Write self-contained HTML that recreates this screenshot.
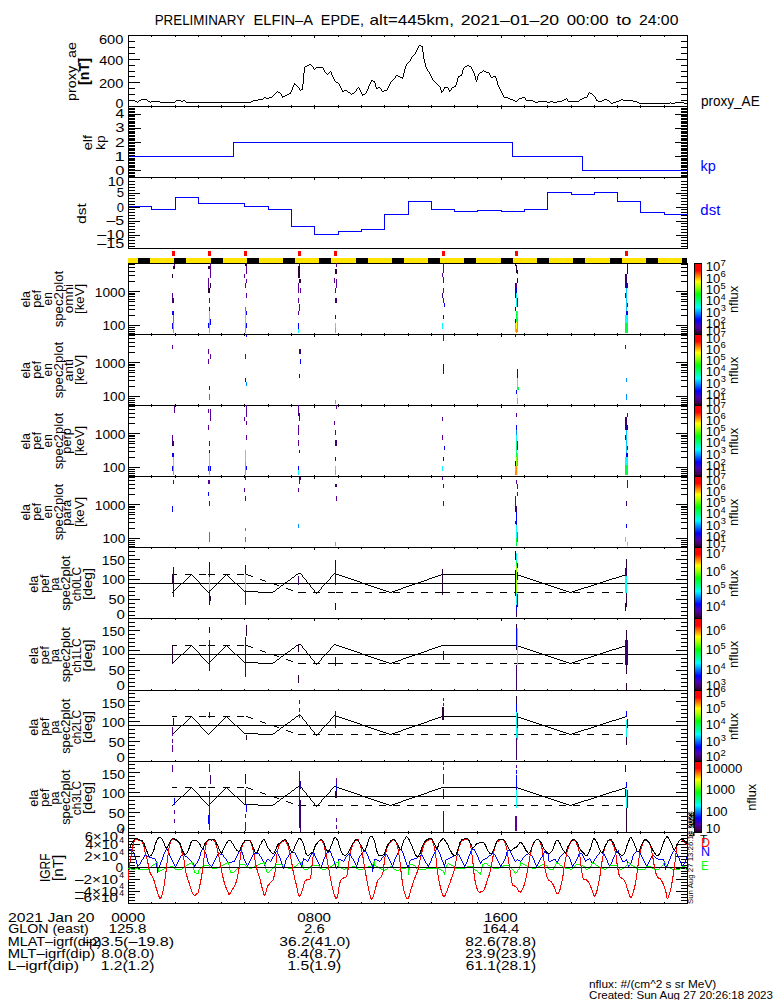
<!DOCTYPE html><html><head><meta charset="utf-8"><style>html,body{margin:0;padding:0;background:#fff;width:775px;height:1000px;overflow:hidden}svg{display:block;font-family:"Liberation Sans",sans-serif}</style></head><body>
<svg width="775" height="1000" viewBox="0 0 775 1000" font-family="Liberation Sans, sans-serif">
<defs><linearGradient id="cb" x1="0" y1="0" x2="0" y2="1"><stop offset="0" stop-color="#ff0000"/><stop offset="0.09" stop-color="#ff0000"/><stop offset="0.18" stop-color="#ff9000"/><stop offset="0.25" stop-color="#ffff00"/><stop offset="0.33" stop-color="#a0ff00"/><stop offset="0.43" stop-color="#00ff00"/><stop offset="0.53" stop-color="#00ff80"/><stop offset="0.62" stop-color="#00ffff"/><stop offset="0.70" stop-color="#0090ff"/><stop offset="0.80" stop-color="#0000ff"/><stop offset="0.89" stop-color="#5000b0"/><stop offset="0.97" stop-color="#400050"/><stop offset="1" stop-color="#200020"/></linearGradient></defs>
<rect width="775" height="1000" fill="#fff"/>
<text x="154.71" y="25.00" font-size="14.5" fill="#000" textLength="90.39" lengthAdjust="spacingAndGlyphs">PRELIMINARY</text>
<text x="253.60" y="25.00" font-size="14.5" fill="#000" textLength="59.43" lengthAdjust="spacingAndGlyphs">ELFIN–A</text>
<text x="320.82" y="25.00" font-size="14.5" fill="#000" textLength="43.07" lengthAdjust="spacingAndGlyphs">EPDE,</text>
<text x="369.57" y="25.00" font-size="14.5" fill="#000" textLength="84.37" lengthAdjust="spacingAndGlyphs">alt=445km,</text>
<text x="460.71" y="25.00" font-size="14.5" fill="#000" textLength="98.38" lengthAdjust="spacingAndGlyphs">2021–01–20</text>
<text x="566.75" y="25.00" font-size="14.5" fill="#000" textLength="41.91" lengthAdjust="spacingAndGlyphs">00:00</text>
<text x="616.23" y="25.00" font-size="14.5" fill="#000" textLength="15.14" lengthAdjust="spacingAndGlyphs">to</text>
<text x="638.91" y="25.00" font-size="14.5" fill="#000" textLength="39.51" lengthAdjust="spacingAndGlyphs">24:00</text>
<g shape-rendering="crispEdges">
<rect x="128.00" y="35.00" width="560.00" height="1.00" fill="#000"/>
<rect x="128.00" y="106.00" width="560.00" height="1.00" fill="#000"/>
<rect x="128.00" y="35.00" width="1.00" height="72.00" fill="#000"/>
<rect x="687.00" y="35.00" width="1.00" height="72.00" fill="#000"/>
<rect x="128.00" y="106.00" width="560.00" height="1.00" fill="#000"/>
<rect x="128.00" y="177.00" width="560.00" height="1.00" fill="#000"/>
<rect x="128.00" y="106.00" width="1.00" height="72.00" fill="#000"/>
<rect x="687.00" y="106.00" width="1.00" height="72.00" fill="#000"/>
<rect x="128.00" y="177.00" width="560.00" height="1.00" fill="#000"/>
<rect x="128.00" y="248.00" width="560.00" height="1.00" fill="#000"/>
<rect x="128.00" y="177.00" width="1.00" height="72.00" fill="#000"/>
<rect x="687.00" y="177.00" width="1.00" height="72.00" fill="#000"/>
<rect x="128.00" y="263.00" width="560.00" height="1.00" fill="#000"/>
<rect x="128.00" y="334.00" width="560.00" height="1.00" fill="#000"/>
<rect x="128.00" y="263.00" width="1.00" height="72.00" fill="#000"/>
<rect x="687.00" y="263.00" width="1.00" height="72.00" fill="#000"/>
<rect x="128.00" y="334.00" width="560.00" height="1.00" fill="#000"/>
<rect x="128.00" y="405.00" width="560.00" height="1.00" fill="#000"/>
<rect x="128.00" y="334.00" width="1.00" height="72.00" fill="#000"/>
<rect x="687.00" y="334.00" width="1.00" height="72.00" fill="#000"/>
<rect x="128.00" y="405.00" width="560.00" height="1.00" fill="#000"/>
<rect x="128.00" y="476.00" width="560.00" height="1.00" fill="#000"/>
<rect x="128.00" y="405.00" width="1.00" height="72.00" fill="#000"/>
<rect x="687.00" y="405.00" width="1.00" height="72.00" fill="#000"/>
<rect x="128.00" y="476.00" width="560.00" height="1.00" fill="#000"/>
<rect x="128.00" y="547.00" width="560.00" height="1.00" fill="#000"/>
<rect x="128.00" y="476.00" width="1.00" height="72.00" fill="#000"/>
<rect x="687.00" y="476.00" width="1.00" height="72.00" fill="#000"/>
<rect x="128.00" y="547.00" width="560.00" height="1.00" fill="#000"/>
<rect x="128.00" y="618.00" width="560.00" height="1.00" fill="#000"/>
<rect x="128.00" y="547.00" width="1.00" height="72.00" fill="#000"/>
<rect x="687.00" y="547.00" width="1.00" height="72.00" fill="#000"/>
<rect x="128.00" y="618.00" width="560.00" height="1.00" fill="#000"/>
<rect x="128.00" y="690.00" width="560.00" height="1.00" fill="#000"/>
<rect x="128.00" y="618.00" width="1.00" height="73.00" fill="#000"/>
<rect x="687.00" y="618.00" width="1.00" height="73.00" fill="#000"/>
<rect x="128.00" y="690.00" width="560.00" height="1.00" fill="#000"/>
<rect x="128.00" y="761.00" width="560.00" height="1.00" fill="#000"/>
<rect x="128.00" y="690.00" width="1.00" height="72.00" fill="#000"/>
<rect x="687.00" y="690.00" width="1.00" height="72.00" fill="#000"/>
<rect x="128.00" y="761.00" width="560.00" height="1.00" fill="#000"/>
<rect x="128.00" y="832.00" width="560.00" height="1.00" fill="#000"/>
<rect x="128.00" y="761.00" width="1.00" height="72.00" fill="#000"/>
<rect x="687.00" y="761.00" width="1.00" height="72.00" fill="#000"/>
<rect x="128.00" y="832.00" width="560.00" height="1.00" fill="#000"/>
<rect x="128.00" y="903.00" width="560.00" height="1.00" fill="#000"/>
<rect x="128.00" y="832.00" width="1.00" height="72.00" fill="#000"/>
<rect x="687.00" y="832.00" width="1.00" height="72.00" fill="#000"/>
<rect x="151.00" y="35.00" width="1.00" height="2.00" fill="#000"/>
<rect x="175.00" y="35.00" width="1.00" height="2.00" fill="#000"/>
<rect x="198.00" y="35.00" width="1.00" height="2.00" fill="#000"/>
<rect x="221.00" y="35.00" width="1.00" height="2.00" fill="#000"/>
<rect x="244.00" y="35.00" width="1.00" height="2.00" fill="#000"/>
<rect x="268.00" y="35.00" width="1.00" height="2.00" fill="#000"/>
<rect x="291.00" y="35.00" width="1.00" height="2.00" fill="#000"/>
<rect x="314.00" y="35.00" width="1.00" height="3.00" fill="#000"/>
<rect x="338.00" y="35.00" width="1.00" height="2.00" fill="#000"/>
<rect x="361.00" y="35.00" width="1.00" height="2.00" fill="#000"/>
<rect x="384.00" y="35.00" width="1.00" height="2.00" fill="#000"/>
<rect x="408.00" y="35.00" width="1.00" height="2.00" fill="#000"/>
<rect x="431.00" y="35.00" width="1.00" height="2.00" fill="#000"/>
<rect x="454.00" y="35.00" width="1.00" height="2.00" fill="#000"/>
<rect x="477.00" y="35.00" width="1.00" height="2.00" fill="#000"/>
<rect x="501.00" y="35.00" width="1.00" height="3.00" fill="#000"/>
<rect x="524.00" y="35.00" width="1.00" height="2.00" fill="#000"/>
<rect x="547.00" y="35.00" width="1.00" height="2.00" fill="#000"/>
<rect x="571.00" y="35.00" width="1.00" height="2.00" fill="#000"/>
<rect x="594.00" y="35.00" width="1.00" height="2.00" fill="#000"/>
<rect x="617.00" y="35.00" width="1.00" height="2.00" fill="#000"/>
<rect x="640.00" y="35.00" width="1.00" height="2.00" fill="#000"/>
<rect x="664.00" y="35.00" width="1.00" height="2.00" fill="#000"/>
<rect x="151.00" y="106.00" width="1.00" height="2.00" fill="#000"/>
<rect x="151.00" y="105.00" width="1.00" height="2.00" fill="#000"/>
<rect x="175.00" y="106.00" width="1.00" height="2.00" fill="#000"/>
<rect x="175.00" y="105.00" width="1.00" height="2.00" fill="#000"/>
<rect x="198.00" y="106.00" width="1.00" height="2.00" fill="#000"/>
<rect x="198.00" y="105.00" width="1.00" height="2.00" fill="#000"/>
<rect x="221.00" y="106.00" width="1.00" height="2.00" fill="#000"/>
<rect x="221.00" y="105.00" width="1.00" height="2.00" fill="#000"/>
<rect x="244.00" y="106.00" width="1.00" height="2.00" fill="#000"/>
<rect x="244.00" y="105.00" width="1.00" height="2.00" fill="#000"/>
<rect x="268.00" y="106.00" width="1.00" height="2.00" fill="#000"/>
<rect x="268.00" y="105.00" width="1.00" height="2.00" fill="#000"/>
<rect x="291.00" y="106.00" width="1.00" height="2.00" fill="#000"/>
<rect x="291.00" y="105.00" width="1.00" height="2.00" fill="#000"/>
<rect x="314.00" y="106.00" width="1.00" height="3.00" fill="#000"/>
<rect x="314.00" y="105.00" width="1.00" height="2.00" fill="#000"/>
<rect x="338.00" y="106.00" width="1.00" height="2.00" fill="#000"/>
<rect x="338.00" y="105.00" width="1.00" height="2.00" fill="#000"/>
<rect x="361.00" y="106.00" width="1.00" height="2.00" fill="#000"/>
<rect x="361.00" y="105.00" width="1.00" height="2.00" fill="#000"/>
<rect x="384.00" y="106.00" width="1.00" height="2.00" fill="#000"/>
<rect x="384.00" y="105.00" width="1.00" height="2.00" fill="#000"/>
<rect x="408.00" y="106.00" width="1.00" height="2.00" fill="#000"/>
<rect x="408.00" y="105.00" width="1.00" height="2.00" fill="#000"/>
<rect x="431.00" y="106.00" width="1.00" height="2.00" fill="#000"/>
<rect x="431.00" y="105.00" width="1.00" height="2.00" fill="#000"/>
<rect x="454.00" y="106.00" width="1.00" height="2.00" fill="#000"/>
<rect x="454.00" y="105.00" width="1.00" height="2.00" fill="#000"/>
<rect x="477.00" y="106.00" width="1.00" height="2.00" fill="#000"/>
<rect x="477.00" y="105.00" width="1.00" height="2.00" fill="#000"/>
<rect x="501.00" y="106.00" width="1.00" height="3.00" fill="#000"/>
<rect x="501.00" y="105.00" width="1.00" height="2.00" fill="#000"/>
<rect x="524.00" y="106.00" width="1.00" height="2.00" fill="#000"/>
<rect x="524.00" y="105.00" width="1.00" height="2.00" fill="#000"/>
<rect x="547.00" y="106.00" width="1.00" height="2.00" fill="#000"/>
<rect x="547.00" y="105.00" width="1.00" height="2.00" fill="#000"/>
<rect x="571.00" y="106.00" width="1.00" height="2.00" fill="#000"/>
<rect x="571.00" y="105.00" width="1.00" height="2.00" fill="#000"/>
<rect x="594.00" y="106.00" width="1.00" height="2.00" fill="#000"/>
<rect x="594.00" y="105.00" width="1.00" height="2.00" fill="#000"/>
<rect x="617.00" y="106.00" width="1.00" height="2.00" fill="#000"/>
<rect x="617.00" y="105.00" width="1.00" height="2.00" fill="#000"/>
<rect x="640.00" y="106.00" width="1.00" height="2.00" fill="#000"/>
<rect x="640.00" y="105.00" width="1.00" height="2.00" fill="#000"/>
<rect x="664.00" y="106.00" width="1.00" height="2.00" fill="#000"/>
<rect x="664.00" y="105.00" width="1.00" height="2.00" fill="#000"/>
<rect x="151.00" y="177.00" width="1.00" height="2.00" fill="#000"/>
<rect x="175.00" y="177.00" width="1.00" height="2.00" fill="#000"/>
<rect x="198.00" y="177.00" width="1.00" height="2.00" fill="#000"/>
<rect x="221.00" y="177.00" width="1.00" height="2.00" fill="#000"/>
<rect x="244.00" y="177.00" width="1.00" height="2.00" fill="#000"/>
<rect x="268.00" y="177.00" width="1.00" height="2.00" fill="#000"/>
<rect x="291.00" y="177.00" width="1.00" height="2.00" fill="#000"/>
<rect x="314.00" y="177.00" width="1.00" height="3.00" fill="#000"/>
<rect x="338.00" y="177.00" width="1.00" height="2.00" fill="#000"/>
<rect x="361.00" y="177.00" width="1.00" height="2.00" fill="#000"/>
<rect x="384.00" y="177.00" width="1.00" height="2.00" fill="#000"/>
<rect x="408.00" y="177.00" width="1.00" height="2.00" fill="#000"/>
<rect x="431.00" y="177.00" width="1.00" height="2.00" fill="#000"/>
<rect x="454.00" y="177.00" width="1.00" height="2.00" fill="#000"/>
<rect x="477.00" y="177.00" width="1.00" height="2.00" fill="#000"/>
<rect x="501.00" y="177.00" width="1.00" height="3.00" fill="#000"/>
<rect x="524.00" y="177.00" width="1.00" height="2.00" fill="#000"/>
<rect x="547.00" y="177.00" width="1.00" height="2.00" fill="#000"/>
<rect x="571.00" y="177.00" width="1.00" height="2.00" fill="#000"/>
<rect x="594.00" y="177.00" width="1.00" height="2.00" fill="#000"/>
<rect x="617.00" y="177.00" width="1.00" height="2.00" fill="#000"/>
<rect x="640.00" y="177.00" width="1.00" height="2.00" fill="#000"/>
<rect x="664.00" y="177.00" width="1.00" height="2.00" fill="#000"/>
<rect x="151.00" y="334.00" width="1.00" height="2.00" fill="#000"/>
<rect x="151.00" y="333.00" width="1.00" height="2.00" fill="#000"/>
<rect x="175.00" y="334.00" width="1.00" height="2.00" fill="#000"/>
<rect x="175.00" y="333.00" width="1.00" height="2.00" fill="#000"/>
<rect x="198.00" y="334.00" width="1.00" height="2.00" fill="#000"/>
<rect x="198.00" y="333.00" width="1.00" height="2.00" fill="#000"/>
<rect x="221.00" y="334.00" width="1.00" height="2.00" fill="#000"/>
<rect x="221.00" y="333.00" width="1.00" height="2.00" fill="#000"/>
<rect x="244.00" y="334.00" width="1.00" height="2.00" fill="#000"/>
<rect x="244.00" y="333.00" width="1.00" height="2.00" fill="#000"/>
<rect x="268.00" y="334.00" width="1.00" height="2.00" fill="#000"/>
<rect x="268.00" y="333.00" width="1.00" height="2.00" fill="#000"/>
<rect x="291.00" y="334.00" width="1.00" height="2.00" fill="#000"/>
<rect x="291.00" y="333.00" width="1.00" height="2.00" fill="#000"/>
<rect x="314.00" y="334.00" width="1.00" height="3.00" fill="#000"/>
<rect x="314.00" y="333.00" width="1.00" height="2.00" fill="#000"/>
<rect x="338.00" y="334.00" width="1.00" height="2.00" fill="#000"/>
<rect x="338.00" y="333.00" width="1.00" height="2.00" fill="#000"/>
<rect x="361.00" y="334.00" width="1.00" height="2.00" fill="#000"/>
<rect x="361.00" y="333.00" width="1.00" height="2.00" fill="#000"/>
<rect x="384.00" y="334.00" width="1.00" height="2.00" fill="#000"/>
<rect x="384.00" y="333.00" width="1.00" height="2.00" fill="#000"/>
<rect x="408.00" y="334.00" width="1.00" height="2.00" fill="#000"/>
<rect x="408.00" y="333.00" width="1.00" height="2.00" fill="#000"/>
<rect x="431.00" y="334.00" width="1.00" height="2.00" fill="#000"/>
<rect x="431.00" y="333.00" width="1.00" height="2.00" fill="#000"/>
<rect x="454.00" y="334.00" width="1.00" height="2.00" fill="#000"/>
<rect x="454.00" y="333.00" width="1.00" height="2.00" fill="#000"/>
<rect x="477.00" y="334.00" width="1.00" height="2.00" fill="#000"/>
<rect x="477.00" y="333.00" width="1.00" height="2.00" fill="#000"/>
<rect x="501.00" y="334.00" width="1.00" height="3.00" fill="#000"/>
<rect x="501.00" y="333.00" width="1.00" height="2.00" fill="#000"/>
<rect x="524.00" y="334.00" width="1.00" height="2.00" fill="#000"/>
<rect x="524.00" y="333.00" width="1.00" height="2.00" fill="#000"/>
<rect x="547.00" y="334.00" width="1.00" height="2.00" fill="#000"/>
<rect x="547.00" y="333.00" width="1.00" height="2.00" fill="#000"/>
<rect x="571.00" y="334.00" width="1.00" height="2.00" fill="#000"/>
<rect x="571.00" y="333.00" width="1.00" height="2.00" fill="#000"/>
<rect x="594.00" y="334.00" width="1.00" height="2.00" fill="#000"/>
<rect x="594.00" y="333.00" width="1.00" height="2.00" fill="#000"/>
<rect x="617.00" y="334.00" width="1.00" height="2.00" fill="#000"/>
<rect x="617.00" y="333.00" width="1.00" height="2.00" fill="#000"/>
<rect x="640.00" y="334.00" width="1.00" height="2.00" fill="#000"/>
<rect x="640.00" y="333.00" width="1.00" height="2.00" fill="#000"/>
<rect x="664.00" y="334.00" width="1.00" height="2.00" fill="#000"/>
<rect x="664.00" y="333.00" width="1.00" height="2.00" fill="#000"/>
<rect x="151.00" y="405.00" width="1.00" height="2.00" fill="#000"/>
<rect x="151.00" y="404.00" width="1.00" height="2.00" fill="#000"/>
<rect x="175.00" y="405.00" width="1.00" height="2.00" fill="#000"/>
<rect x="175.00" y="404.00" width="1.00" height="2.00" fill="#000"/>
<rect x="198.00" y="405.00" width="1.00" height="2.00" fill="#000"/>
<rect x="198.00" y="404.00" width="1.00" height="2.00" fill="#000"/>
<rect x="221.00" y="405.00" width="1.00" height="2.00" fill="#000"/>
<rect x="221.00" y="404.00" width="1.00" height="2.00" fill="#000"/>
<rect x="244.00" y="405.00" width="1.00" height="2.00" fill="#000"/>
<rect x="244.00" y="404.00" width="1.00" height="2.00" fill="#000"/>
<rect x="268.00" y="405.00" width="1.00" height="2.00" fill="#000"/>
<rect x="268.00" y="404.00" width="1.00" height="2.00" fill="#000"/>
<rect x="291.00" y="405.00" width="1.00" height="2.00" fill="#000"/>
<rect x="291.00" y="404.00" width="1.00" height="2.00" fill="#000"/>
<rect x="314.00" y="405.00" width="1.00" height="3.00" fill="#000"/>
<rect x="314.00" y="404.00" width="1.00" height="2.00" fill="#000"/>
<rect x="338.00" y="405.00" width="1.00" height="2.00" fill="#000"/>
<rect x="338.00" y="404.00" width="1.00" height="2.00" fill="#000"/>
<rect x="361.00" y="405.00" width="1.00" height="2.00" fill="#000"/>
<rect x="361.00" y="404.00" width="1.00" height="2.00" fill="#000"/>
<rect x="384.00" y="405.00" width="1.00" height="2.00" fill="#000"/>
<rect x="384.00" y="404.00" width="1.00" height="2.00" fill="#000"/>
<rect x="408.00" y="405.00" width="1.00" height="2.00" fill="#000"/>
<rect x="408.00" y="404.00" width="1.00" height="2.00" fill="#000"/>
<rect x="431.00" y="405.00" width="1.00" height="2.00" fill="#000"/>
<rect x="431.00" y="404.00" width="1.00" height="2.00" fill="#000"/>
<rect x="454.00" y="405.00" width="1.00" height="2.00" fill="#000"/>
<rect x="454.00" y="404.00" width="1.00" height="2.00" fill="#000"/>
<rect x="477.00" y="405.00" width="1.00" height="2.00" fill="#000"/>
<rect x="477.00" y="404.00" width="1.00" height="2.00" fill="#000"/>
<rect x="501.00" y="405.00" width="1.00" height="3.00" fill="#000"/>
<rect x="501.00" y="404.00" width="1.00" height="2.00" fill="#000"/>
<rect x="524.00" y="405.00" width="1.00" height="2.00" fill="#000"/>
<rect x="524.00" y="404.00" width="1.00" height="2.00" fill="#000"/>
<rect x="547.00" y="405.00" width="1.00" height="2.00" fill="#000"/>
<rect x="547.00" y="404.00" width="1.00" height="2.00" fill="#000"/>
<rect x="571.00" y="405.00" width="1.00" height="2.00" fill="#000"/>
<rect x="571.00" y="404.00" width="1.00" height="2.00" fill="#000"/>
<rect x="594.00" y="405.00" width="1.00" height="2.00" fill="#000"/>
<rect x="594.00" y="404.00" width="1.00" height="2.00" fill="#000"/>
<rect x="617.00" y="405.00" width="1.00" height="2.00" fill="#000"/>
<rect x="617.00" y="404.00" width="1.00" height="2.00" fill="#000"/>
<rect x="640.00" y="405.00" width="1.00" height="2.00" fill="#000"/>
<rect x="640.00" y="404.00" width="1.00" height="2.00" fill="#000"/>
<rect x="664.00" y="405.00" width="1.00" height="2.00" fill="#000"/>
<rect x="664.00" y="404.00" width="1.00" height="2.00" fill="#000"/>
<rect x="151.00" y="476.00" width="1.00" height="2.00" fill="#000"/>
<rect x="151.00" y="475.00" width="1.00" height="2.00" fill="#000"/>
<rect x="175.00" y="476.00" width="1.00" height="2.00" fill="#000"/>
<rect x="175.00" y="475.00" width="1.00" height="2.00" fill="#000"/>
<rect x="198.00" y="476.00" width="1.00" height="2.00" fill="#000"/>
<rect x="198.00" y="475.00" width="1.00" height="2.00" fill="#000"/>
<rect x="221.00" y="476.00" width="1.00" height="2.00" fill="#000"/>
<rect x="221.00" y="475.00" width="1.00" height="2.00" fill="#000"/>
<rect x="244.00" y="476.00" width="1.00" height="2.00" fill="#000"/>
<rect x="244.00" y="475.00" width="1.00" height="2.00" fill="#000"/>
<rect x="268.00" y="476.00" width="1.00" height="2.00" fill="#000"/>
<rect x="268.00" y="475.00" width="1.00" height="2.00" fill="#000"/>
<rect x="291.00" y="476.00" width="1.00" height="2.00" fill="#000"/>
<rect x="291.00" y="475.00" width="1.00" height="2.00" fill="#000"/>
<rect x="314.00" y="476.00" width="1.00" height="3.00" fill="#000"/>
<rect x="314.00" y="475.00" width="1.00" height="2.00" fill="#000"/>
<rect x="338.00" y="476.00" width="1.00" height="2.00" fill="#000"/>
<rect x="338.00" y="475.00" width="1.00" height="2.00" fill="#000"/>
<rect x="361.00" y="476.00" width="1.00" height="2.00" fill="#000"/>
<rect x="361.00" y="475.00" width="1.00" height="2.00" fill="#000"/>
<rect x="384.00" y="476.00" width="1.00" height="2.00" fill="#000"/>
<rect x="384.00" y="475.00" width="1.00" height="2.00" fill="#000"/>
<rect x="408.00" y="476.00" width="1.00" height="2.00" fill="#000"/>
<rect x="408.00" y="475.00" width="1.00" height="2.00" fill="#000"/>
<rect x="431.00" y="476.00" width="1.00" height="2.00" fill="#000"/>
<rect x="431.00" y="475.00" width="1.00" height="2.00" fill="#000"/>
<rect x="454.00" y="476.00" width="1.00" height="2.00" fill="#000"/>
<rect x="454.00" y="475.00" width="1.00" height="2.00" fill="#000"/>
<rect x="477.00" y="476.00" width="1.00" height="2.00" fill="#000"/>
<rect x="477.00" y="475.00" width="1.00" height="2.00" fill="#000"/>
<rect x="501.00" y="476.00" width="1.00" height="3.00" fill="#000"/>
<rect x="501.00" y="475.00" width="1.00" height="2.00" fill="#000"/>
<rect x="524.00" y="476.00" width="1.00" height="2.00" fill="#000"/>
<rect x="524.00" y="475.00" width="1.00" height="2.00" fill="#000"/>
<rect x="547.00" y="476.00" width="1.00" height="2.00" fill="#000"/>
<rect x="547.00" y="475.00" width="1.00" height="2.00" fill="#000"/>
<rect x="571.00" y="476.00" width="1.00" height="2.00" fill="#000"/>
<rect x="571.00" y="475.00" width="1.00" height="2.00" fill="#000"/>
<rect x="594.00" y="476.00" width="1.00" height="2.00" fill="#000"/>
<rect x="594.00" y="475.00" width="1.00" height="2.00" fill="#000"/>
<rect x="617.00" y="476.00" width="1.00" height="2.00" fill="#000"/>
<rect x="617.00" y="475.00" width="1.00" height="2.00" fill="#000"/>
<rect x="640.00" y="476.00" width="1.00" height="2.00" fill="#000"/>
<rect x="640.00" y="475.00" width="1.00" height="2.00" fill="#000"/>
<rect x="664.00" y="476.00" width="1.00" height="2.00" fill="#000"/>
<rect x="664.00" y="475.00" width="1.00" height="2.00" fill="#000"/>
<rect x="151.00" y="547.00" width="1.00" height="2.00" fill="#000"/>
<rect x="175.00" y="547.00" width="1.00" height="2.00" fill="#000"/>
<rect x="198.00" y="547.00" width="1.00" height="2.00" fill="#000"/>
<rect x="221.00" y="547.00" width="1.00" height="2.00" fill="#000"/>
<rect x="244.00" y="547.00" width="1.00" height="2.00" fill="#000"/>
<rect x="268.00" y="547.00" width="1.00" height="2.00" fill="#000"/>
<rect x="291.00" y="547.00" width="1.00" height="2.00" fill="#000"/>
<rect x="314.00" y="547.00" width="1.00" height="3.00" fill="#000"/>
<rect x="338.00" y="547.00" width="1.00" height="2.00" fill="#000"/>
<rect x="361.00" y="547.00" width="1.00" height="2.00" fill="#000"/>
<rect x="384.00" y="547.00" width="1.00" height="2.00" fill="#000"/>
<rect x="408.00" y="547.00" width="1.00" height="2.00" fill="#000"/>
<rect x="431.00" y="547.00" width="1.00" height="2.00" fill="#000"/>
<rect x="454.00" y="547.00" width="1.00" height="2.00" fill="#000"/>
<rect x="477.00" y="547.00" width="1.00" height="2.00" fill="#000"/>
<rect x="501.00" y="547.00" width="1.00" height="3.00" fill="#000"/>
<rect x="524.00" y="547.00" width="1.00" height="2.00" fill="#000"/>
<rect x="547.00" y="547.00" width="1.00" height="2.00" fill="#000"/>
<rect x="571.00" y="547.00" width="1.00" height="2.00" fill="#000"/>
<rect x="594.00" y="547.00" width="1.00" height="2.00" fill="#000"/>
<rect x="617.00" y="547.00" width="1.00" height="2.00" fill="#000"/>
<rect x="640.00" y="547.00" width="1.00" height="2.00" fill="#000"/>
<rect x="664.00" y="547.00" width="1.00" height="2.00" fill="#000"/>
<rect x="151.00" y="618.00" width="1.00" height="2.00" fill="#000"/>
<rect x="175.00" y="618.00" width="1.00" height="2.00" fill="#000"/>
<rect x="198.00" y="618.00" width="1.00" height="2.00" fill="#000"/>
<rect x="221.00" y="618.00" width="1.00" height="2.00" fill="#000"/>
<rect x="244.00" y="618.00" width="1.00" height="2.00" fill="#000"/>
<rect x="268.00" y="618.00" width="1.00" height="2.00" fill="#000"/>
<rect x="291.00" y="618.00" width="1.00" height="2.00" fill="#000"/>
<rect x="314.00" y="618.00" width="1.00" height="3.00" fill="#000"/>
<rect x="338.00" y="618.00" width="1.00" height="2.00" fill="#000"/>
<rect x="361.00" y="618.00" width="1.00" height="2.00" fill="#000"/>
<rect x="384.00" y="618.00" width="1.00" height="2.00" fill="#000"/>
<rect x="408.00" y="618.00" width="1.00" height="2.00" fill="#000"/>
<rect x="431.00" y="618.00" width="1.00" height="2.00" fill="#000"/>
<rect x="454.00" y="618.00" width="1.00" height="2.00" fill="#000"/>
<rect x="477.00" y="618.00" width="1.00" height="2.00" fill="#000"/>
<rect x="501.00" y="618.00" width="1.00" height="3.00" fill="#000"/>
<rect x="524.00" y="618.00" width="1.00" height="2.00" fill="#000"/>
<rect x="547.00" y="618.00" width="1.00" height="2.00" fill="#000"/>
<rect x="571.00" y="618.00" width="1.00" height="2.00" fill="#000"/>
<rect x="594.00" y="618.00" width="1.00" height="2.00" fill="#000"/>
<rect x="617.00" y="618.00" width="1.00" height="2.00" fill="#000"/>
<rect x="640.00" y="618.00" width="1.00" height="2.00" fill="#000"/>
<rect x="664.00" y="618.00" width="1.00" height="2.00" fill="#000"/>
<rect x="151.00" y="689.00" width="1.00" height="2.00" fill="#000"/>
<rect x="175.00" y="689.00" width="1.00" height="2.00" fill="#000"/>
<rect x="198.00" y="689.00" width="1.00" height="2.00" fill="#000"/>
<rect x="221.00" y="689.00" width="1.00" height="2.00" fill="#000"/>
<rect x="244.00" y="689.00" width="1.00" height="2.00" fill="#000"/>
<rect x="268.00" y="689.00" width="1.00" height="2.00" fill="#000"/>
<rect x="291.00" y="689.00" width="1.00" height="2.00" fill="#000"/>
<rect x="314.00" y="689.00" width="1.00" height="2.00" fill="#000"/>
<rect x="338.00" y="689.00" width="1.00" height="2.00" fill="#000"/>
<rect x="361.00" y="689.00" width="1.00" height="2.00" fill="#000"/>
<rect x="384.00" y="689.00" width="1.00" height="2.00" fill="#000"/>
<rect x="408.00" y="689.00" width="1.00" height="2.00" fill="#000"/>
<rect x="431.00" y="689.00" width="1.00" height="2.00" fill="#000"/>
<rect x="454.00" y="689.00" width="1.00" height="2.00" fill="#000"/>
<rect x="477.00" y="689.00" width="1.00" height="2.00" fill="#000"/>
<rect x="501.00" y="689.00" width="1.00" height="2.00" fill="#000"/>
<rect x="524.00" y="689.00" width="1.00" height="2.00" fill="#000"/>
<rect x="547.00" y="689.00" width="1.00" height="2.00" fill="#000"/>
<rect x="571.00" y="689.00" width="1.00" height="2.00" fill="#000"/>
<rect x="594.00" y="689.00" width="1.00" height="2.00" fill="#000"/>
<rect x="617.00" y="689.00" width="1.00" height="2.00" fill="#000"/>
<rect x="640.00" y="689.00" width="1.00" height="2.00" fill="#000"/>
<rect x="664.00" y="689.00" width="1.00" height="2.00" fill="#000"/>
<rect x="151.00" y="760.00" width="1.00" height="2.00" fill="#000"/>
<rect x="175.00" y="760.00" width="1.00" height="2.00" fill="#000"/>
<rect x="198.00" y="760.00" width="1.00" height="2.00" fill="#000"/>
<rect x="221.00" y="760.00" width="1.00" height="2.00" fill="#000"/>
<rect x="244.00" y="760.00" width="1.00" height="2.00" fill="#000"/>
<rect x="268.00" y="760.00" width="1.00" height="2.00" fill="#000"/>
<rect x="291.00" y="760.00" width="1.00" height="2.00" fill="#000"/>
<rect x="314.00" y="760.00" width="1.00" height="2.00" fill="#000"/>
<rect x="338.00" y="760.00" width="1.00" height="2.00" fill="#000"/>
<rect x="361.00" y="760.00" width="1.00" height="2.00" fill="#000"/>
<rect x="384.00" y="760.00" width="1.00" height="2.00" fill="#000"/>
<rect x="408.00" y="760.00" width="1.00" height="2.00" fill="#000"/>
<rect x="431.00" y="760.00" width="1.00" height="2.00" fill="#000"/>
<rect x="454.00" y="760.00" width="1.00" height="2.00" fill="#000"/>
<rect x="477.00" y="760.00" width="1.00" height="2.00" fill="#000"/>
<rect x="501.00" y="760.00" width="1.00" height="2.00" fill="#000"/>
<rect x="524.00" y="760.00" width="1.00" height="2.00" fill="#000"/>
<rect x="547.00" y="760.00" width="1.00" height="2.00" fill="#000"/>
<rect x="571.00" y="760.00" width="1.00" height="2.00" fill="#000"/>
<rect x="594.00" y="760.00" width="1.00" height="2.00" fill="#000"/>
<rect x="617.00" y="760.00" width="1.00" height="2.00" fill="#000"/>
<rect x="640.00" y="760.00" width="1.00" height="2.00" fill="#000"/>
<rect x="664.00" y="760.00" width="1.00" height="2.00" fill="#000"/>
<rect x="151.00" y="832.00" width="1.00" height="2.00" fill="#000"/>
<rect x="151.00" y="831.00" width="1.00" height="2.00" fill="#000"/>
<rect x="175.00" y="832.00" width="1.00" height="2.00" fill="#000"/>
<rect x="175.00" y="831.00" width="1.00" height="2.00" fill="#000"/>
<rect x="198.00" y="832.00" width="1.00" height="2.00" fill="#000"/>
<rect x="198.00" y="831.00" width="1.00" height="2.00" fill="#000"/>
<rect x="221.00" y="832.00" width="1.00" height="2.00" fill="#000"/>
<rect x="221.00" y="831.00" width="1.00" height="2.00" fill="#000"/>
<rect x="244.00" y="832.00" width="1.00" height="2.00" fill="#000"/>
<rect x="244.00" y="831.00" width="1.00" height="2.00" fill="#000"/>
<rect x="268.00" y="832.00" width="1.00" height="2.00" fill="#000"/>
<rect x="268.00" y="831.00" width="1.00" height="2.00" fill="#000"/>
<rect x="291.00" y="832.00" width="1.00" height="2.00" fill="#000"/>
<rect x="291.00" y="831.00" width="1.00" height="2.00" fill="#000"/>
<rect x="314.00" y="832.00" width="1.00" height="3.00" fill="#000"/>
<rect x="314.00" y="831.00" width="1.00" height="2.00" fill="#000"/>
<rect x="338.00" y="832.00" width="1.00" height="2.00" fill="#000"/>
<rect x="338.00" y="831.00" width="1.00" height="2.00" fill="#000"/>
<rect x="361.00" y="832.00" width="1.00" height="2.00" fill="#000"/>
<rect x="361.00" y="831.00" width="1.00" height="2.00" fill="#000"/>
<rect x="384.00" y="832.00" width="1.00" height="2.00" fill="#000"/>
<rect x="384.00" y="831.00" width="1.00" height="2.00" fill="#000"/>
<rect x="408.00" y="832.00" width="1.00" height="2.00" fill="#000"/>
<rect x="408.00" y="831.00" width="1.00" height="2.00" fill="#000"/>
<rect x="431.00" y="832.00" width="1.00" height="2.00" fill="#000"/>
<rect x="431.00" y="831.00" width="1.00" height="2.00" fill="#000"/>
<rect x="454.00" y="832.00" width="1.00" height="2.00" fill="#000"/>
<rect x="454.00" y="831.00" width="1.00" height="2.00" fill="#000"/>
<rect x="477.00" y="832.00" width="1.00" height="2.00" fill="#000"/>
<rect x="477.00" y="831.00" width="1.00" height="2.00" fill="#000"/>
<rect x="501.00" y="832.00" width="1.00" height="3.00" fill="#000"/>
<rect x="501.00" y="831.00" width="1.00" height="2.00" fill="#000"/>
<rect x="524.00" y="832.00" width="1.00" height="2.00" fill="#000"/>
<rect x="524.00" y="831.00" width="1.00" height="2.00" fill="#000"/>
<rect x="547.00" y="832.00" width="1.00" height="2.00" fill="#000"/>
<rect x="547.00" y="831.00" width="1.00" height="2.00" fill="#000"/>
<rect x="571.00" y="832.00" width="1.00" height="2.00" fill="#000"/>
<rect x="571.00" y="831.00" width="1.00" height="2.00" fill="#000"/>
<rect x="594.00" y="832.00" width="1.00" height="2.00" fill="#000"/>
<rect x="594.00" y="831.00" width="1.00" height="2.00" fill="#000"/>
<rect x="617.00" y="832.00" width="1.00" height="2.00" fill="#000"/>
<rect x="617.00" y="831.00" width="1.00" height="2.00" fill="#000"/>
<rect x="640.00" y="832.00" width="1.00" height="2.00" fill="#000"/>
<rect x="640.00" y="831.00" width="1.00" height="2.00" fill="#000"/>
<rect x="664.00" y="832.00" width="1.00" height="2.00" fill="#000"/>
<rect x="664.00" y="831.00" width="1.00" height="2.00" fill="#000"/>
<rect x="151.00" y="902.00" width="1.00" height="2.00" fill="#000"/>
<rect x="175.00" y="902.00" width="1.00" height="2.00" fill="#000"/>
<rect x="198.00" y="902.00" width="1.00" height="2.00" fill="#000"/>
<rect x="221.00" y="902.00" width="1.00" height="2.00" fill="#000"/>
<rect x="244.00" y="902.00" width="1.00" height="2.00" fill="#000"/>
<rect x="268.00" y="902.00" width="1.00" height="2.00" fill="#000"/>
<rect x="291.00" y="902.00" width="1.00" height="2.00" fill="#000"/>
<rect x="314.00" y="902.00" width="1.00" height="2.00" fill="#000"/>
<rect x="338.00" y="902.00" width="1.00" height="2.00" fill="#000"/>
<rect x="361.00" y="902.00" width="1.00" height="2.00" fill="#000"/>
<rect x="384.00" y="902.00" width="1.00" height="2.00" fill="#000"/>
<rect x="408.00" y="902.00" width="1.00" height="2.00" fill="#000"/>
<rect x="431.00" y="902.00" width="1.00" height="2.00" fill="#000"/>
<rect x="454.00" y="902.00" width="1.00" height="2.00" fill="#000"/>
<rect x="477.00" y="902.00" width="1.00" height="2.00" fill="#000"/>
<rect x="501.00" y="902.00" width="1.00" height="2.00" fill="#000"/>
<rect x="524.00" y="902.00" width="1.00" height="2.00" fill="#000"/>
<rect x="547.00" y="902.00" width="1.00" height="2.00" fill="#000"/>
<rect x="571.00" y="902.00" width="1.00" height="2.00" fill="#000"/>
<rect x="594.00" y="902.00" width="1.00" height="2.00" fill="#000"/>
<rect x="617.00" y="902.00" width="1.00" height="2.00" fill="#000"/>
<rect x="640.00" y="902.00" width="1.00" height="2.00" fill="#000"/>
<rect x="664.00" y="902.00" width="1.00" height="2.00" fill="#000"/>
<rect x="128.00" y="82.00" width="12.00" height="1.00" fill="#000"/>
<rect x="676.00" y="82.00" width="12.00" height="1.00" fill="#000"/>
<rect x="128.00" y="59.00" width="12.00" height="1.00" fill="#000"/>
<rect x="676.00" y="59.00" width="12.00" height="1.00" fill="#000"/>
<rect x="128.00" y="35.00" width="12.00" height="1.00" fill="#000"/>
<rect x="676.00" y="35.00" width="12.00" height="1.00" fill="#000"/>
<rect x="128.00" y="100.00" width="7.00" height="1.00" fill="#000"/>
<rect x="681.00" y="100.00" width="7.00" height="1.00" fill="#000"/>
<rect x="128.00" y="94.00" width="7.00" height="1.00" fill="#000"/>
<rect x="681.00" y="94.00" width="7.00" height="1.00" fill="#000"/>
<rect x="128.00" y="88.00" width="7.00" height="1.00" fill="#000"/>
<rect x="681.00" y="88.00" width="7.00" height="1.00" fill="#000"/>
<rect x="128.00" y="76.00" width="7.00" height="1.00" fill="#000"/>
<rect x="681.00" y="76.00" width="7.00" height="1.00" fill="#000"/>
<rect x="128.00" y="71.00" width="7.00" height="1.00" fill="#000"/>
<rect x="681.00" y="71.00" width="7.00" height="1.00" fill="#000"/>
<rect x="128.00" y="65.00" width="7.00" height="1.00" fill="#000"/>
<rect x="681.00" y="65.00" width="7.00" height="1.00" fill="#000"/>
<rect x="128.00" y="53.00" width="7.00" height="1.00" fill="#000"/>
<rect x="681.00" y="53.00" width="7.00" height="1.00" fill="#000"/>
<rect x="128.00" y="47.00" width="7.00" height="1.00" fill="#000"/>
<rect x="681.00" y="47.00" width="7.00" height="1.00" fill="#000"/>
<rect x="128.00" y="41.00" width="7.00" height="1.00" fill="#000"/>
<rect x="681.00" y="41.00" width="7.00" height="1.00" fill="#000"/>
<rect x="128.00" y="170.00" width="13.00" height="1.00" fill="#000"/>
<rect x="675.00" y="170.00" width="13.00" height="1.00" fill="#000"/>
<rect x="128.00" y="156.00" width="13.00" height="1.00" fill="#000"/>
<rect x="675.00" y="156.00" width="13.00" height="1.00" fill="#000"/>
<rect x="128.00" y="142.00" width="13.00" height="1.00" fill="#000"/>
<rect x="675.00" y="142.00" width="13.00" height="1.00" fill="#000"/>
<rect x="128.00" y="128.00" width="13.00" height="1.00" fill="#000"/>
<rect x="675.00" y="128.00" width="13.00" height="1.00" fill="#000"/>
<rect x="128.00" y="114.00" width="13.00" height="1.00" fill="#000"/>
<rect x="675.00" y="114.00" width="13.00" height="1.00" fill="#000"/>
<rect x="128.00" y="176.00" width="7.00" height="1.00" fill="#000"/>
<rect x="681.00" y="176.00" width="7.00" height="1.00" fill="#000"/>
<rect x="128.00" y="175.00" width="7.00" height="1.00" fill="#000"/>
<rect x="681.00" y="175.00" width="7.00" height="1.00" fill="#000"/>
<rect x="128.00" y="173.00" width="7.00" height="1.00" fill="#000"/>
<rect x="681.00" y="173.00" width="7.00" height="1.00" fill="#000"/>
<rect x="128.00" y="172.00" width="7.00" height="1.00" fill="#000"/>
<rect x="681.00" y="172.00" width="7.00" height="1.00" fill="#000"/>
<rect x="128.00" y="169.00" width="7.00" height="1.00" fill="#000"/>
<rect x="681.00" y="169.00" width="7.00" height="1.00" fill="#000"/>
<rect x="128.00" y="167.00" width="7.00" height="1.00" fill="#000"/>
<rect x="681.00" y="167.00" width="7.00" height="1.00" fill="#000"/>
<rect x="128.00" y="166.00" width="7.00" height="1.00" fill="#000"/>
<rect x="681.00" y="166.00" width="7.00" height="1.00" fill="#000"/>
<rect x="128.00" y="165.00" width="7.00" height="1.00" fill="#000"/>
<rect x="681.00" y="165.00" width="7.00" height="1.00" fill="#000"/>
<rect x="128.00" y="163.00" width="7.00" height="1.00" fill="#000"/>
<rect x="681.00" y="163.00" width="7.00" height="1.00" fill="#000"/>
<rect x="128.00" y="162.00" width="7.00" height="1.00" fill="#000"/>
<rect x="681.00" y="162.00" width="7.00" height="1.00" fill="#000"/>
<rect x="128.00" y="160.00" width="7.00" height="1.00" fill="#000"/>
<rect x="681.00" y="160.00" width="7.00" height="1.00" fill="#000"/>
<rect x="128.00" y="159.00" width="7.00" height="1.00" fill="#000"/>
<rect x="681.00" y="159.00" width="7.00" height="1.00" fill="#000"/>
<rect x="128.00" y="158.00" width="7.00" height="1.00" fill="#000"/>
<rect x="681.00" y="158.00" width="7.00" height="1.00" fill="#000"/>
<rect x="128.00" y="155.00" width="7.00" height="1.00" fill="#000"/>
<rect x="681.00" y="155.00" width="7.00" height="1.00" fill="#000"/>
<rect x="128.00" y="153.00" width="7.00" height="1.00" fill="#000"/>
<rect x="681.00" y="153.00" width="7.00" height="1.00" fill="#000"/>
<rect x="128.00" y="152.00" width="7.00" height="1.00" fill="#000"/>
<rect x="681.00" y="152.00" width="7.00" height="1.00" fill="#000"/>
<rect x="128.00" y="150.00" width="7.00" height="1.00" fill="#000"/>
<rect x="681.00" y="150.00" width="7.00" height="1.00" fill="#000"/>
<rect x="128.00" y="149.00" width="7.00" height="1.00" fill="#000"/>
<rect x="681.00" y="149.00" width="7.00" height="1.00" fill="#000"/>
<rect x="128.00" y="148.00" width="7.00" height="1.00" fill="#000"/>
<rect x="681.00" y="148.00" width="7.00" height="1.00" fill="#000"/>
<rect x="128.00" y="146.00" width="7.00" height="1.00" fill="#000"/>
<rect x="681.00" y="146.00" width="7.00" height="1.00" fill="#000"/>
<rect x="128.00" y="145.00" width="7.00" height="1.00" fill="#000"/>
<rect x="681.00" y="145.00" width="7.00" height="1.00" fill="#000"/>
<rect x="128.00" y="143.00" width="7.00" height="1.00" fill="#000"/>
<rect x="681.00" y="143.00" width="7.00" height="1.00" fill="#000"/>
<rect x="128.00" y="140.00" width="7.00" height="1.00" fill="#000"/>
<rect x="681.00" y="140.00" width="7.00" height="1.00" fill="#000"/>
<rect x="128.00" y="139.00" width="7.00" height="1.00" fill="#000"/>
<rect x="681.00" y="139.00" width="7.00" height="1.00" fill="#000"/>
<rect x="128.00" y="138.00" width="7.00" height="1.00" fill="#000"/>
<rect x="681.00" y="138.00" width="7.00" height="1.00" fill="#000"/>
<rect x="128.00" y="136.00" width="7.00" height="1.00" fill="#000"/>
<rect x="681.00" y="136.00" width="7.00" height="1.00" fill="#000"/>
<rect x="128.00" y="135.00" width="7.00" height="1.00" fill="#000"/>
<rect x="681.00" y="135.00" width="7.00" height="1.00" fill="#000"/>
<rect x="128.00" y="133.00" width="7.00" height="1.00" fill="#000"/>
<rect x="681.00" y="133.00" width="7.00" height="1.00" fill="#000"/>
<rect x="128.00" y="132.00" width="7.00" height="1.00" fill="#000"/>
<rect x="681.00" y="132.00" width="7.00" height="1.00" fill="#000"/>
<rect x="128.00" y="131.00" width="7.00" height="1.00" fill="#000"/>
<rect x="681.00" y="131.00" width="7.00" height="1.00" fill="#000"/>
<rect x="128.00" y="129.00" width="7.00" height="1.00" fill="#000"/>
<rect x="681.00" y="129.00" width="7.00" height="1.00" fill="#000"/>
<rect x="128.00" y="126.00" width="7.00" height="1.00" fill="#000"/>
<rect x="681.00" y="126.00" width="7.00" height="1.00" fill="#000"/>
<rect x="128.00" y="125.00" width="7.00" height="1.00" fill="#000"/>
<rect x="681.00" y="125.00" width="7.00" height="1.00" fill="#000"/>
<rect x="128.00" y="123.00" width="7.00" height="1.00" fill="#000"/>
<rect x="681.00" y="123.00" width="7.00" height="1.00" fill="#000"/>
<rect x="128.00" y="122.00" width="7.00" height="1.00" fill="#000"/>
<rect x="681.00" y="122.00" width="7.00" height="1.00" fill="#000"/>
<rect x="128.00" y="121.00" width="7.00" height="1.00" fill="#000"/>
<rect x="681.00" y="121.00" width="7.00" height="1.00" fill="#000"/>
<rect x="128.00" y="119.00" width="7.00" height="1.00" fill="#000"/>
<rect x="681.00" y="119.00" width="7.00" height="1.00" fill="#000"/>
<rect x="128.00" y="118.00" width="7.00" height="1.00" fill="#000"/>
<rect x="681.00" y="118.00" width="7.00" height="1.00" fill="#000"/>
<rect x="128.00" y="116.00" width="7.00" height="1.00" fill="#000"/>
<rect x="681.00" y="116.00" width="7.00" height="1.00" fill="#000"/>
<rect x="128.00" y="115.00" width="7.00" height="1.00" fill="#000"/>
<rect x="681.00" y="115.00" width="7.00" height="1.00" fill="#000"/>
<rect x="128.00" y="112.00" width="7.00" height="1.00" fill="#000"/>
<rect x="681.00" y="112.00" width="7.00" height="1.00" fill="#000"/>
<rect x="128.00" y="111.00" width="7.00" height="1.00" fill="#000"/>
<rect x="681.00" y="111.00" width="7.00" height="1.00" fill="#000"/>
<rect x="128.00" y="109.00" width="7.00" height="1.00" fill="#000"/>
<rect x="681.00" y="109.00" width="7.00" height="1.00" fill="#000"/>
<rect x="128.00" y="108.00" width="7.00" height="1.00" fill="#000"/>
<rect x="681.00" y="108.00" width="7.00" height="1.00" fill="#000"/>
<rect x="128.00" y="193.00" width="12.00" height="1.00" fill="#000"/>
<rect x="676.00" y="193.00" width="12.00" height="1.00" fill="#000"/>
<rect x="128.00" y="207.00" width="12.00" height="1.00" fill="#000"/>
<rect x="676.00" y="207.00" width="12.00" height="1.00" fill="#000"/>
<rect x="128.00" y="221.00" width="12.00" height="1.00" fill="#000"/>
<rect x="676.00" y="221.00" width="12.00" height="1.00" fill="#000"/>
<rect x="128.00" y="235.00" width="12.00" height="1.00" fill="#000"/>
<rect x="676.00" y="235.00" width="12.00" height="1.00" fill="#000"/>
<rect x="128.00" y="246.00" width="7.00" height="1.00" fill="#000"/>
<rect x="681.00" y="246.00" width="7.00" height="1.00" fill="#000"/>
<rect x="128.00" y="243.00" width="7.00" height="1.00" fill="#000"/>
<rect x="681.00" y="243.00" width="7.00" height="1.00" fill="#000"/>
<rect x="128.00" y="240.00" width="7.00" height="1.00" fill="#000"/>
<rect x="681.00" y="240.00" width="7.00" height="1.00" fill="#000"/>
<rect x="128.00" y="237.00" width="7.00" height="1.00" fill="#000"/>
<rect x="681.00" y="237.00" width="7.00" height="1.00" fill="#000"/>
<rect x="128.00" y="232.00" width="7.00" height="1.00" fill="#000"/>
<rect x="681.00" y="232.00" width="7.00" height="1.00" fill="#000"/>
<rect x="128.00" y="229.00" width="7.00" height="1.00" fill="#000"/>
<rect x="681.00" y="229.00" width="7.00" height="1.00" fill="#000"/>
<rect x="128.00" y="226.00" width="7.00" height="1.00" fill="#000"/>
<rect x="681.00" y="226.00" width="7.00" height="1.00" fill="#000"/>
<rect x="128.00" y="223.00" width="7.00" height="1.00" fill="#000"/>
<rect x="681.00" y="223.00" width="7.00" height="1.00" fill="#000"/>
<rect x="128.00" y="218.00" width="7.00" height="1.00" fill="#000"/>
<rect x="681.00" y="218.00" width="7.00" height="1.00" fill="#000"/>
<rect x="128.00" y="215.00" width="7.00" height="1.00" fill="#000"/>
<rect x="681.00" y="215.00" width="7.00" height="1.00" fill="#000"/>
<rect x="128.00" y="212.00" width="7.00" height="1.00" fill="#000"/>
<rect x="681.00" y="212.00" width="7.00" height="1.00" fill="#000"/>
<rect x="128.00" y="209.00" width="7.00" height="1.00" fill="#000"/>
<rect x="681.00" y="209.00" width="7.00" height="1.00" fill="#000"/>
<rect x="128.00" y="204.00" width="7.00" height="1.00" fill="#000"/>
<rect x="681.00" y="204.00" width="7.00" height="1.00" fill="#000"/>
<rect x="128.00" y="201.00" width="7.00" height="1.00" fill="#000"/>
<rect x="681.00" y="201.00" width="7.00" height="1.00" fill="#000"/>
<rect x="128.00" y="198.00" width="7.00" height="1.00" fill="#000"/>
<rect x="681.00" y="198.00" width="7.00" height="1.00" fill="#000"/>
<rect x="128.00" y="195.00" width="7.00" height="1.00" fill="#000"/>
<rect x="681.00" y="195.00" width="7.00" height="1.00" fill="#000"/>
<rect x="128.00" y="190.00" width="7.00" height="1.00" fill="#000"/>
<rect x="681.00" y="190.00" width="7.00" height="1.00" fill="#000"/>
<rect x="128.00" y="187.00" width="7.00" height="1.00" fill="#000"/>
<rect x="681.00" y="187.00" width="7.00" height="1.00" fill="#000"/>
<rect x="128.00" y="184.00" width="7.00" height="1.00" fill="#000"/>
<rect x="681.00" y="184.00" width="7.00" height="1.00" fill="#000"/>
<rect x="128.00" y="181.00" width="7.00" height="1.00" fill="#000"/>
<rect x="681.00" y="181.00" width="7.00" height="1.00" fill="#000"/>
<rect x="128.00" y="325.00" width="12.00" height="1.00" fill="#000"/>
<rect x="676.00" y="325.00" width="12.00" height="1.00" fill="#000"/>
<rect x="128.00" y="291.00" width="12.00" height="1.00" fill="#000"/>
<rect x="676.00" y="291.00" width="12.00" height="1.00" fill="#000"/>
<rect x="128.00" y="333.00" width="7.00" height="1.00" fill="#000"/>
<rect x="681.00" y="333.00" width="7.00" height="1.00" fill="#000"/>
<rect x="128.00" y="331.00" width="7.00" height="1.00" fill="#000"/>
<rect x="681.00" y="331.00" width="7.00" height="1.00" fill="#000"/>
<rect x="128.00" y="329.00" width="7.00" height="1.00" fill="#000"/>
<rect x="681.00" y="329.00" width="7.00" height="1.00" fill="#000"/>
<rect x="128.00" y="327.00" width="7.00" height="1.00" fill="#000"/>
<rect x="681.00" y="327.00" width="7.00" height="1.00" fill="#000"/>
<rect x="128.00" y="315.00" width="7.00" height="1.00" fill="#000"/>
<rect x="681.00" y="315.00" width="7.00" height="1.00" fill="#000"/>
<rect x="128.00" y="309.00" width="7.00" height="1.00" fill="#000"/>
<rect x="681.00" y="309.00" width="7.00" height="1.00" fill="#000"/>
<rect x="128.00" y="305.00" width="7.00" height="1.00" fill="#000"/>
<rect x="681.00" y="305.00" width="7.00" height="1.00" fill="#000"/>
<rect x="128.00" y="301.00" width="7.00" height="1.00" fill="#000"/>
<rect x="681.00" y="301.00" width="7.00" height="1.00" fill="#000"/>
<rect x="128.00" y="299.00" width="7.00" height="1.00" fill="#000"/>
<rect x="681.00" y="299.00" width="7.00" height="1.00" fill="#000"/>
<rect x="128.00" y="296.00" width="7.00" height="1.00" fill="#000"/>
<rect x="681.00" y="296.00" width="7.00" height="1.00" fill="#000"/>
<rect x="128.00" y="294.00" width="7.00" height="1.00" fill="#000"/>
<rect x="681.00" y="294.00" width="7.00" height="1.00" fill="#000"/>
<rect x="128.00" y="293.00" width="7.00" height="1.00" fill="#000"/>
<rect x="681.00" y="293.00" width="7.00" height="1.00" fill="#000"/>
<rect x="128.00" y="281.00" width="7.00" height="1.00" fill="#000"/>
<rect x="681.00" y="281.00" width="7.00" height="1.00" fill="#000"/>
<rect x="128.00" y="275.00" width="7.00" height="1.00" fill="#000"/>
<rect x="681.00" y="275.00" width="7.00" height="1.00" fill="#000"/>
<rect x="128.00" y="271.00" width="7.00" height="1.00" fill="#000"/>
<rect x="681.00" y="271.00" width="7.00" height="1.00" fill="#000"/>
<rect x="128.00" y="267.00" width="7.00" height="1.00" fill="#000"/>
<rect x="681.00" y="267.00" width="7.00" height="1.00" fill="#000"/>
<rect x="128.00" y="264.00" width="7.00" height="1.00" fill="#000"/>
<rect x="681.00" y="264.00" width="7.00" height="1.00" fill="#000"/>
<rect x="128.00" y="396.00" width="12.00" height="1.00" fill="#000"/>
<rect x="676.00" y="396.00" width="12.00" height="1.00" fill="#000"/>
<rect x="128.00" y="362.00" width="12.00" height="1.00" fill="#000"/>
<rect x="676.00" y="362.00" width="12.00" height="1.00" fill="#000"/>
<rect x="128.00" y="404.00" width="7.00" height="1.00" fill="#000"/>
<rect x="681.00" y="404.00" width="7.00" height="1.00" fill="#000"/>
<rect x="128.00" y="402.00" width="7.00" height="1.00" fill="#000"/>
<rect x="681.00" y="402.00" width="7.00" height="1.00" fill="#000"/>
<rect x="128.00" y="400.00" width="7.00" height="1.00" fill="#000"/>
<rect x="681.00" y="400.00" width="7.00" height="1.00" fill="#000"/>
<rect x="128.00" y="398.00" width="7.00" height="1.00" fill="#000"/>
<rect x="681.00" y="398.00" width="7.00" height="1.00" fill="#000"/>
<rect x="128.00" y="386.00" width="7.00" height="1.00" fill="#000"/>
<rect x="681.00" y="386.00" width="7.00" height="1.00" fill="#000"/>
<rect x="128.00" y="380.00" width="7.00" height="1.00" fill="#000"/>
<rect x="681.00" y="380.00" width="7.00" height="1.00" fill="#000"/>
<rect x="128.00" y="376.00" width="7.00" height="1.00" fill="#000"/>
<rect x="681.00" y="376.00" width="7.00" height="1.00" fill="#000"/>
<rect x="128.00" y="372.00" width="7.00" height="1.00" fill="#000"/>
<rect x="681.00" y="372.00" width="7.00" height="1.00" fill="#000"/>
<rect x="128.00" y="370.00" width="7.00" height="1.00" fill="#000"/>
<rect x="681.00" y="370.00" width="7.00" height="1.00" fill="#000"/>
<rect x="128.00" y="367.00" width="7.00" height="1.00" fill="#000"/>
<rect x="681.00" y="367.00" width="7.00" height="1.00" fill="#000"/>
<rect x="128.00" y="365.00" width="7.00" height="1.00" fill="#000"/>
<rect x="681.00" y="365.00" width="7.00" height="1.00" fill="#000"/>
<rect x="128.00" y="364.00" width="7.00" height="1.00" fill="#000"/>
<rect x="681.00" y="364.00" width="7.00" height="1.00" fill="#000"/>
<rect x="128.00" y="352.00" width="7.00" height="1.00" fill="#000"/>
<rect x="681.00" y="352.00" width="7.00" height="1.00" fill="#000"/>
<rect x="128.00" y="346.00" width="7.00" height="1.00" fill="#000"/>
<rect x="681.00" y="346.00" width="7.00" height="1.00" fill="#000"/>
<rect x="128.00" y="342.00" width="7.00" height="1.00" fill="#000"/>
<rect x="681.00" y="342.00" width="7.00" height="1.00" fill="#000"/>
<rect x="128.00" y="338.00" width="7.00" height="1.00" fill="#000"/>
<rect x="681.00" y="338.00" width="7.00" height="1.00" fill="#000"/>
<rect x="128.00" y="335.00" width="7.00" height="1.00" fill="#000"/>
<rect x="681.00" y="335.00" width="7.00" height="1.00" fill="#000"/>
<rect x="128.00" y="467.00" width="12.00" height="1.00" fill="#000"/>
<rect x="676.00" y="467.00" width="12.00" height="1.00" fill="#000"/>
<rect x="128.00" y="433.00" width="12.00" height="1.00" fill="#000"/>
<rect x="676.00" y="433.00" width="12.00" height="1.00" fill="#000"/>
<rect x="128.00" y="475.00" width="7.00" height="1.00" fill="#000"/>
<rect x="681.00" y="475.00" width="7.00" height="1.00" fill="#000"/>
<rect x="128.00" y="473.00" width="7.00" height="1.00" fill="#000"/>
<rect x="681.00" y="473.00" width="7.00" height="1.00" fill="#000"/>
<rect x="128.00" y="471.00" width="7.00" height="1.00" fill="#000"/>
<rect x="681.00" y="471.00" width="7.00" height="1.00" fill="#000"/>
<rect x="128.00" y="469.00" width="7.00" height="1.00" fill="#000"/>
<rect x="681.00" y="469.00" width="7.00" height="1.00" fill="#000"/>
<rect x="128.00" y="457.00" width="7.00" height="1.00" fill="#000"/>
<rect x="681.00" y="457.00" width="7.00" height="1.00" fill="#000"/>
<rect x="128.00" y="451.00" width="7.00" height="1.00" fill="#000"/>
<rect x="681.00" y="451.00" width="7.00" height="1.00" fill="#000"/>
<rect x="128.00" y="447.00" width="7.00" height="1.00" fill="#000"/>
<rect x="681.00" y="447.00" width="7.00" height="1.00" fill="#000"/>
<rect x="128.00" y="443.00" width="7.00" height="1.00" fill="#000"/>
<rect x="681.00" y="443.00" width="7.00" height="1.00" fill="#000"/>
<rect x="128.00" y="441.00" width="7.00" height="1.00" fill="#000"/>
<rect x="681.00" y="441.00" width="7.00" height="1.00" fill="#000"/>
<rect x="128.00" y="438.00" width="7.00" height="1.00" fill="#000"/>
<rect x="681.00" y="438.00" width="7.00" height="1.00" fill="#000"/>
<rect x="128.00" y="436.00" width="7.00" height="1.00" fill="#000"/>
<rect x="681.00" y="436.00" width="7.00" height="1.00" fill="#000"/>
<rect x="128.00" y="435.00" width="7.00" height="1.00" fill="#000"/>
<rect x="681.00" y="435.00" width="7.00" height="1.00" fill="#000"/>
<rect x="128.00" y="423.00" width="7.00" height="1.00" fill="#000"/>
<rect x="681.00" y="423.00" width="7.00" height="1.00" fill="#000"/>
<rect x="128.00" y="417.00" width="7.00" height="1.00" fill="#000"/>
<rect x="681.00" y="417.00" width="7.00" height="1.00" fill="#000"/>
<rect x="128.00" y="413.00" width="7.00" height="1.00" fill="#000"/>
<rect x="681.00" y="413.00" width="7.00" height="1.00" fill="#000"/>
<rect x="128.00" y="409.00" width="7.00" height="1.00" fill="#000"/>
<rect x="681.00" y="409.00" width="7.00" height="1.00" fill="#000"/>
<rect x="128.00" y="406.00" width="7.00" height="1.00" fill="#000"/>
<rect x="681.00" y="406.00" width="7.00" height="1.00" fill="#000"/>
<rect x="128.00" y="538.00" width="12.00" height="1.00" fill="#000"/>
<rect x="676.00" y="538.00" width="12.00" height="1.00" fill="#000"/>
<rect x="128.00" y="504.00" width="12.00" height="1.00" fill="#000"/>
<rect x="676.00" y="504.00" width="12.00" height="1.00" fill="#000"/>
<rect x="128.00" y="546.00" width="7.00" height="1.00" fill="#000"/>
<rect x="681.00" y="546.00" width="7.00" height="1.00" fill="#000"/>
<rect x="128.00" y="544.00" width="7.00" height="1.00" fill="#000"/>
<rect x="681.00" y="544.00" width="7.00" height="1.00" fill="#000"/>
<rect x="128.00" y="542.00" width="7.00" height="1.00" fill="#000"/>
<rect x="681.00" y="542.00" width="7.00" height="1.00" fill="#000"/>
<rect x="128.00" y="540.00" width="7.00" height="1.00" fill="#000"/>
<rect x="681.00" y="540.00" width="7.00" height="1.00" fill="#000"/>
<rect x="128.00" y="528.00" width="7.00" height="1.00" fill="#000"/>
<rect x="681.00" y="528.00" width="7.00" height="1.00" fill="#000"/>
<rect x="128.00" y="522.00" width="7.00" height="1.00" fill="#000"/>
<rect x="681.00" y="522.00" width="7.00" height="1.00" fill="#000"/>
<rect x="128.00" y="518.00" width="7.00" height="1.00" fill="#000"/>
<rect x="681.00" y="518.00" width="7.00" height="1.00" fill="#000"/>
<rect x="128.00" y="514.00" width="7.00" height="1.00" fill="#000"/>
<rect x="681.00" y="514.00" width="7.00" height="1.00" fill="#000"/>
<rect x="128.00" y="512.00" width="7.00" height="1.00" fill="#000"/>
<rect x="681.00" y="512.00" width="7.00" height="1.00" fill="#000"/>
<rect x="128.00" y="509.00" width="7.00" height="1.00" fill="#000"/>
<rect x="681.00" y="509.00" width="7.00" height="1.00" fill="#000"/>
<rect x="128.00" y="507.00" width="7.00" height="1.00" fill="#000"/>
<rect x="681.00" y="507.00" width="7.00" height="1.00" fill="#000"/>
<rect x="128.00" y="506.00" width="7.00" height="1.00" fill="#000"/>
<rect x="681.00" y="506.00" width="7.00" height="1.00" fill="#000"/>
<rect x="128.00" y="494.00" width="7.00" height="1.00" fill="#000"/>
<rect x="681.00" y="494.00" width="7.00" height="1.00" fill="#000"/>
<rect x="128.00" y="488.00" width="7.00" height="1.00" fill="#000"/>
<rect x="681.00" y="488.00" width="7.00" height="1.00" fill="#000"/>
<rect x="128.00" y="484.00" width="7.00" height="1.00" fill="#000"/>
<rect x="681.00" y="484.00" width="7.00" height="1.00" fill="#000"/>
<rect x="128.00" y="480.00" width="7.00" height="1.00" fill="#000"/>
<rect x="681.00" y="480.00" width="7.00" height="1.00" fill="#000"/>
<rect x="128.00" y="477.00" width="7.00" height="1.00" fill="#000"/>
<rect x="681.00" y="477.00" width="7.00" height="1.00" fill="#000"/>
<rect x="128.00" y="599.00" width="12.00" height="1.00" fill="#000"/>
<rect x="676.00" y="599.00" width="12.00" height="1.00" fill="#000"/>
<rect x="128.00" y="579.00" width="12.00" height="1.00" fill="#000"/>
<rect x="676.00" y="579.00" width="12.00" height="1.00" fill="#000"/>
<rect x="128.00" y="559.00" width="12.00" height="1.00" fill="#000"/>
<rect x="676.00" y="559.00" width="12.00" height="1.00" fill="#000"/>
<rect x="128.00" y="615.00" width="7.00" height="1.00" fill="#000"/>
<rect x="681.00" y="615.00" width="7.00" height="1.00" fill="#000"/>
<rect x="128.00" y="611.00" width="7.00" height="1.00" fill="#000"/>
<rect x="681.00" y="611.00" width="7.00" height="1.00" fill="#000"/>
<rect x="128.00" y="607.00" width="7.00" height="1.00" fill="#000"/>
<rect x="681.00" y="607.00" width="7.00" height="1.00" fill="#000"/>
<rect x="128.00" y="603.00" width="7.00" height="1.00" fill="#000"/>
<rect x="681.00" y="603.00" width="7.00" height="1.00" fill="#000"/>
<rect x="128.00" y="595.00" width="7.00" height="1.00" fill="#000"/>
<rect x="681.00" y="595.00" width="7.00" height="1.00" fill="#000"/>
<rect x="128.00" y="591.00" width="7.00" height="1.00" fill="#000"/>
<rect x="681.00" y="591.00" width="7.00" height="1.00" fill="#000"/>
<rect x="128.00" y="587.00" width="7.00" height="1.00" fill="#000"/>
<rect x="681.00" y="587.00" width="7.00" height="1.00" fill="#000"/>
<rect x="128.00" y="583.00" width="7.00" height="1.00" fill="#000"/>
<rect x="681.00" y="583.00" width="7.00" height="1.00" fill="#000"/>
<rect x="128.00" y="575.00" width="7.00" height="1.00" fill="#000"/>
<rect x="681.00" y="575.00" width="7.00" height="1.00" fill="#000"/>
<rect x="128.00" y="571.00" width="7.00" height="1.00" fill="#000"/>
<rect x="681.00" y="571.00" width="7.00" height="1.00" fill="#000"/>
<rect x="128.00" y="567.00" width="7.00" height="1.00" fill="#000"/>
<rect x="681.00" y="567.00" width="7.00" height="1.00" fill="#000"/>
<rect x="128.00" y="563.00" width="7.00" height="1.00" fill="#000"/>
<rect x="681.00" y="563.00" width="7.00" height="1.00" fill="#000"/>
<rect x="128.00" y="555.00" width="7.00" height="1.00" fill="#000"/>
<rect x="681.00" y="555.00" width="7.00" height="1.00" fill="#000"/>
<rect x="128.00" y="551.00" width="7.00" height="1.00" fill="#000"/>
<rect x="681.00" y="551.00" width="7.00" height="1.00" fill="#000"/>
<rect x="128.00" y="690.00" width="12.00" height="1.00" fill="#000"/>
<rect x="676.00" y="690.00" width="12.00" height="1.00" fill="#000"/>
<rect x="128.00" y="670.00" width="12.00" height="1.00" fill="#000"/>
<rect x="676.00" y="670.00" width="12.00" height="1.00" fill="#000"/>
<rect x="128.00" y="650.00" width="12.00" height="1.00" fill="#000"/>
<rect x="676.00" y="650.00" width="12.00" height="1.00" fill="#000"/>
<rect x="128.00" y="630.00" width="12.00" height="1.00" fill="#000"/>
<rect x="676.00" y="630.00" width="12.00" height="1.00" fill="#000"/>
<rect x="128.00" y="686.00" width="7.00" height="1.00" fill="#000"/>
<rect x="681.00" y="686.00" width="7.00" height="1.00" fill="#000"/>
<rect x="128.00" y="682.00" width="7.00" height="1.00" fill="#000"/>
<rect x="681.00" y="682.00" width="7.00" height="1.00" fill="#000"/>
<rect x="128.00" y="678.00" width="7.00" height="1.00" fill="#000"/>
<rect x="681.00" y="678.00" width="7.00" height="1.00" fill="#000"/>
<rect x="128.00" y="674.00" width="7.00" height="1.00" fill="#000"/>
<rect x="681.00" y="674.00" width="7.00" height="1.00" fill="#000"/>
<rect x="128.00" y="666.00" width="7.00" height="1.00" fill="#000"/>
<rect x="681.00" y="666.00" width="7.00" height="1.00" fill="#000"/>
<rect x="128.00" y="662.00" width="7.00" height="1.00" fill="#000"/>
<rect x="681.00" y="662.00" width="7.00" height="1.00" fill="#000"/>
<rect x="128.00" y="658.00" width="7.00" height="1.00" fill="#000"/>
<rect x="681.00" y="658.00" width="7.00" height="1.00" fill="#000"/>
<rect x="128.00" y="654.00" width="7.00" height="1.00" fill="#000"/>
<rect x="681.00" y="654.00" width="7.00" height="1.00" fill="#000"/>
<rect x="128.00" y="646.00" width="7.00" height="1.00" fill="#000"/>
<rect x="681.00" y="646.00" width="7.00" height="1.00" fill="#000"/>
<rect x="128.00" y="642.00" width="7.00" height="1.00" fill="#000"/>
<rect x="681.00" y="642.00" width="7.00" height="1.00" fill="#000"/>
<rect x="128.00" y="638.00" width="7.00" height="1.00" fill="#000"/>
<rect x="681.00" y="638.00" width="7.00" height="1.00" fill="#000"/>
<rect x="128.00" y="634.00" width="7.00" height="1.00" fill="#000"/>
<rect x="681.00" y="634.00" width="7.00" height="1.00" fill="#000"/>
<rect x="128.00" y="626.00" width="7.00" height="1.00" fill="#000"/>
<rect x="681.00" y="626.00" width="7.00" height="1.00" fill="#000"/>
<rect x="128.00" y="622.00" width="7.00" height="1.00" fill="#000"/>
<rect x="681.00" y="622.00" width="7.00" height="1.00" fill="#000"/>
<rect x="128.00" y="761.00" width="12.00" height="1.00" fill="#000"/>
<rect x="676.00" y="761.00" width="12.00" height="1.00" fill="#000"/>
<rect x="128.00" y="741.00" width="12.00" height="1.00" fill="#000"/>
<rect x="676.00" y="741.00" width="12.00" height="1.00" fill="#000"/>
<rect x="128.00" y="721.00" width="12.00" height="1.00" fill="#000"/>
<rect x="676.00" y="721.00" width="12.00" height="1.00" fill="#000"/>
<rect x="128.00" y="701.00" width="12.00" height="1.00" fill="#000"/>
<rect x="676.00" y="701.00" width="12.00" height="1.00" fill="#000"/>
<rect x="128.00" y="757.00" width="7.00" height="1.00" fill="#000"/>
<rect x="681.00" y="757.00" width="7.00" height="1.00" fill="#000"/>
<rect x="128.00" y="753.00" width="7.00" height="1.00" fill="#000"/>
<rect x="681.00" y="753.00" width="7.00" height="1.00" fill="#000"/>
<rect x="128.00" y="749.00" width="7.00" height="1.00" fill="#000"/>
<rect x="681.00" y="749.00" width="7.00" height="1.00" fill="#000"/>
<rect x="128.00" y="745.00" width="7.00" height="1.00" fill="#000"/>
<rect x="681.00" y="745.00" width="7.00" height="1.00" fill="#000"/>
<rect x="128.00" y="737.00" width="7.00" height="1.00" fill="#000"/>
<rect x="681.00" y="737.00" width="7.00" height="1.00" fill="#000"/>
<rect x="128.00" y="733.00" width="7.00" height="1.00" fill="#000"/>
<rect x="681.00" y="733.00" width="7.00" height="1.00" fill="#000"/>
<rect x="128.00" y="729.00" width="7.00" height="1.00" fill="#000"/>
<rect x="681.00" y="729.00" width="7.00" height="1.00" fill="#000"/>
<rect x="128.00" y="725.00" width="7.00" height="1.00" fill="#000"/>
<rect x="681.00" y="725.00" width="7.00" height="1.00" fill="#000"/>
<rect x="128.00" y="717.00" width="7.00" height="1.00" fill="#000"/>
<rect x="681.00" y="717.00" width="7.00" height="1.00" fill="#000"/>
<rect x="128.00" y="713.00" width="7.00" height="1.00" fill="#000"/>
<rect x="681.00" y="713.00" width="7.00" height="1.00" fill="#000"/>
<rect x="128.00" y="709.00" width="7.00" height="1.00" fill="#000"/>
<rect x="681.00" y="709.00" width="7.00" height="1.00" fill="#000"/>
<rect x="128.00" y="705.00" width="7.00" height="1.00" fill="#000"/>
<rect x="681.00" y="705.00" width="7.00" height="1.00" fill="#000"/>
<rect x="128.00" y="697.00" width="7.00" height="1.00" fill="#000"/>
<rect x="681.00" y="697.00" width="7.00" height="1.00" fill="#000"/>
<rect x="128.00" y="693.00" width="7.00" height="1.00" fill="#000"/>
<rect x="681.00" y="693.00" width="7.00" height="1.00" fill="#000"/>
<rect x="128.00" y="832.00" width="12.00" height="1.00" fill="#000"/>
<rect x="676.00" y="832.00" width="12.00" height="1.00" fill="#000"/>
<rect x="128.00" y="812.00" width="12.00" height="1.00" fill="#000"/>
<rect x="676.00" y="812.00" width="12.00" height="1.00" fill="#000"/>
<rect x="128.00" y="792.00" width="12.00" height="1.00" fill="#000"/>
<rect x="676.00" y="792.00" width="12.00" height="1.00" fill="#000"/>
<rect x="128.00" y="772.00" width="12.00" height="1.00" fill="#000"/>
<rect x="676.00" y="772.00" width="12.00" height="1.00" fill="#000"/>
<rect x="128.00" y="828.00" width="7.00" height="1.00" fill="#000"/>
<rect x="681.00" y="828.00" width="7.00" height="1.00" fill="#000"/>
<rect x="128.00" y="824.00" width="7.00" height="1.00" fill="#000"/>
<rect x="681.00" y="824.00" width="7.00" height="1.00" fill="#000"/>
<rect x="128.00" y="820.00" width="7.00" height="1.00" fill="#000"/>
<rect x="681.00" y="820.00" width="7.00" height="1.00" fill="#000"/>
<rect x="128.00" y="816.00" width="7.00" height="1.00" fill="#000"/>
<rect x="681.00" y="816.00" width="7.00" height="1.00" fill="#000"/>
<rect x="128.00" y="808.00" width="7.00" height="1.00" fill="#000"/>
<rect x="681.00" y="808.00" width="7.00" height="1.00" fill="#000"/>
<rect x="128.00" y="804.00" width="7.00" height="1.00" fill="#000"/>
<rect x="681.00" y="804.00" width="7.00" height="1.00" fill="#000"/>
<rect x="128.00" y="800.00" width="7.00" height="1.00" fill="#000"/>
<rect x="681.00" y="800.00" width="7.00" height="1.00" fill="#000"/>
<rect x="128.00" y="796.00" width="7.00" height="1.00" fill="#000"/>
<rect x="681.00" y="796.00" width="7.00" height="1.00" fill="#000"/>
<rect x="128.00" y="788.00" width="7.00" height="1.00" fill="#000"/>
<rect x="681.00" y="788.00" width="7.00" height="1.00" fill="#000"/>
<rect x="128.00" y="784.00" width="7.00" height="1.00" fill="#000"/>
<rect x="681.00" y="784.00" width="7.00" height="1.00" fill="#000"/>
<rect x="128.00" y="780.00" width="7.00" height="1.00" fill="#000"/>
<rect x="681.00" y="780.00" width="7.00" height="1.00" fill="#000"/>
<rect x="128.00" y="776.00" width="7.00" height="1.00" fill="#000"/>
<rect x="681.00" y="776.00" width="7.00" height="1.00" fill="#000"/>
<rect x="128.00" y="768.00" width="7.00" height="1.00" fill="#000"/>
<rect x="681.00" y="768.00" width="7.00" height="1.00" fill="#000"/>
<rect x="128.00" y="764.00" width="7.00" height="1.00" fill="#000"/>
<rect x="681.00" y="764.00" width="7.00" height="1.00" fill="#000"/>
<rect x="128.00" y="903.00" width="12.00" height="1.00" fill="#000"/>
<rect x="676.00" y="903.00" width="12.00" height="1.00" fill="#000"/>
<rect x="128.00" y="891.00" width="12.00" height="1.00" fill="#000"/>
<rect x="676.00" y="891.00" width="12.00" height="1.00" fill="#000"/>
<rect x="128.00" y="879.00" width="12.00" height="1.00" fill="#000"/>
<rect x="676.00" y="879.00" width="12.00" height="1.00" fill="#000"/>
<rect x="128.00" y="868.00" width="12.00" height="1.00" fill="#000"/>
<rect x="676.00" y="868.00" width="12.00" height="1.00" fill="#000"/>
<rect x="128.00" y="856.00" width="12.00" height="1.00" fill="#000"/>
<rect x="676.00" y="856.00" width="12.00" height="1.00" fill="#000"/>
<rect x="128.00" y="844.00" width="12.00" height="1.00" fill="#000"/>
<rect x="676.00" y="844.00" width="12.00" height="1.00" fill="#000"/>
<rect x="128.00" y="832.00" width="12.00" height="1.00" fill="#000"/>
<rect x="676.00" y="832.00" width="12.00" height="1.00" fill="#000"/>
<rect x="128.00" y="900.00" width="7.00" height="1.00" fill="#000"/>
<rect x="681.00" y="900.00" width="7.00" height="1.00" fill="#000"/>
<rect x="128.00" y="897.00" width="7.00" height="1.00" fill="#000"/>
<rect x="681.00" y="897.00" width="7.00" height="1.00" fill="#000"/>
<rect x="128.00" y="894.00" width="7.00" height="1.00" fill="#000"/>
<rect x="681.00" y="894.00" width="7.00" height="1.00" fill="#000"/>
<rect x="128.00" y="888.00" width="7.00" height="1.00" fill="#000"/>
<rect x="681.00" y="888.00" width="7.00" height="1.00" fill="#000"/>
<rect x="128.00" y="885.00" width="7.00" height="1.00" fill="#000"/>
<rect x="681.00" y="885.00" width="7.00" height="1.00" fill="#000"/>
<rect x="128.00" y="882.00" width="7.00" height="1.00" fill="#000"/>
<rect x="681.00" y="882.00" width="7.00" height="1.00" fill="#000"/>
<rect x="128.00" y="876.00" width="7.00" height="1.00" fill="#000"/>
<rect x="681.00" y="876.00" width="7.00" height="1.00" fill="#000"/>
<rect x="128.00" y="873.00" width="7.00" height="1.00" fill="#000"/>
<rect x="681.00" y="873.00" width="7.00" height="1.00" fill="#000"/>
<rect x="128.00" y="871.00" width="7.00" height="1.00" fill="#000"/>
<rect x="681.00" y="871.00" width="7.00" height="1.00" fill="#000"/>
<rect x="128.00" y="865.00" width="7.00" height="1.00" fill="#000"/>
<rect x="681.00" y="865.00" width="7.00" height="1.00" fill="#000"/>
<rect x="128.00" y="862.00" width="7.00" height="1.00" fill="#000"/>
<rect x="681.00" y="862.00" width="7.00" height="1.00" fill="#000"/>
<rect x="128.00" y="859.00" width="7.00" height="1.00" fill="#000"/>
<rect x="681.00" y="859.00" width="7.00" height="1.00" fill="#000"/>
<rect x="128.00" y="853.00" width="7.00" height="1.00" fill="#000"/>
<rect x="681.00" y="853.00" width="7.00" height="1.00" fill="#000"/>
<rect x="128.00" y="850.00" width="7.00" height="1.00" fill="#000"/>
<rect x="681.00" y="850.00" width="7.00" height="1.00" fill="#000"/>
<rect x="128.00" y="847.00" width="7.00" height="1.00" fill="#000"/>
<rect x="681.00" y="847.00" width="7.00" height="1.00" fill="#000"/>
<rect x="128.00" y="841.00" width="7.00" height="1.00" fill="#000"/>
<rect x="681.00" y="841.00" width="7.00" height="1.00" fill="#000"/>
<rect x="128.00" y="838.00" width="7.00" height="1.00" fill="#000"/>
<rect x="681.00" y="838.00" width="7.00" height="1.00" fill="#000"/>
<rect x="128.00" y="835.00" width="7.00" height="1.00" fill="#000"/>
<rect x="681.00" y="835.00" width="7.00" height="1.00" fill="#000"/>
</g>
<text x="98.96" y="44.17" font-size="13" fill="#000" textLength="24.41" lengthAdjust="spacingAndGlyphs">600</text>
<text x="99.37" y="64.97" font-size="13" fill="#000" textLength="23.99" lengthAdjust="spacingAndGlyphs">400</text>
<text x="98.96" y="87.77" font-size="13" fill="#000" textLength="24.41" lengthAdjust="spacingAndGlyphs">200</text>
<text x="115.44" y="108.07" font-size="13" fill="#000" textLength="7.91" lengthAdjust="spacingAndGlyphs">0</text>
<text x="115.64" y="117.77" font-size="13" fill="#000" textLength="8.72" lengthAdjust="spacingAndGlyphs">4</text>
<text x="115.37" y="131.87" font-size="13" fill="#000" textLength="9.27" lengthAdjust="spacingAndGlyphs">3</text>
<text x="115.13" y="146.67" font-size="13" fill="#000" textLength="9.64" lengthAdjust="spacingAndGlyphs">2</text>
<text x="114.60" y="160.87" font-size="13" fill="#000" textLength="10.19" lengthAdjust="spacingAndGlyphs">1</text>
<text x="115.35" y="174.77" font-size="13" fill="#000" textLength="9.19" lengthAdjust="spacingAndGlyphs">0</text>
<text x="107.68" y="186.07" font-size="13" fill="#000" textLength="16.40" lengthAdjust="spacingAndGlyphs">10</text>
<text x="116.78" y="196.97" font-size="13" fill="#000" textLength="7.27" lengthAdjust="spacingAndGlyphs">5</text>
<text x="116.79" y="211.57" font-size="13" fill="#000" textLength="7.21" lengthAdjust="spacingAndGlyphs">0</text>
<text x="106.50" y="224.77" font-size="13" fill="#000" textLength="17.67" lengthAdjust="spacingAndGlyphs">–5</text>
<text x="97.20" y="238.77" font-size="13" fill="#000" textLength="26.93" lengthAdjust="spacingAndGlyphs">–10</text>
<text x="97.20" y="247.97" font-size="13" fill="#000" textLength="26.98" lengthAdjust="spacingAndGlyphs">–15</text>
<text x="94.75" y="296.87" font-size="13" fill="#000" textLength="30.58" lengthAdjust="spacingAndGlyphs">1000</text>
<text x="102.46" y="330.27" font-size="13" fill="#000" textLength="22.88" lengthAdjust="spacingAndGlyphs">100</text>
<text x="94.75" y="367.87" font-size="13" fill="#000" textLength="30.58" lengthAdjust="spacingAndGlyphs">1000</text>
<text x="102.46" y="401.27" font-size="13" fill="#000" textLength="22.88" lengthAdjust="spacingAndGlyphs">100</text>
<text x="94.75" y="438.87" font-size="13" fill="#000" textLength="30.58" lengthAdjust="spacingAndGlyphs">1000</text>
<text x="102.46" y="472.27" font-size="13" fill="#000" textLength="22.88" lengthAdjust="spacingAndGlyphs">100</text>
<text x="94.75" y="509.87" font-size="13" fill="#000" textLength="30.58" lengthAdjust="spacingAndGlyphs">1000</text>
<text x="102.46" y="543.27" font-size="13" fill="#000" textLength="22.88" lengthAdjust="spacingAndGlyphs">100</text>
<text x="101.74" y="564.67" font-size="13" fill="#000" textLength="23.20" lengthAdjust="spacingAndGlyphs">150</text>
<text x="101.74" y="583.87" font-size="13" fill="#000" textLength="23.20" lengthAdjust="spacingAndGlyphs">100</text>
<text x="108.61" y="603.87" font-size="13" fill="#000" textLength="16.36" lengthAdjust="spacingAndGlyphs">50</text>
<text x="116.61" y="619.07" font-size="13" fill="#000" textLength="8.38" lengthAdjust="spacingAndGlyphs">0</text>
<text x="101.74" y="635.67" font-size="13" fill="#000" textLength="23.20" lengthAdjust="spacingAndGlyphs">150</text>
<text x="101.74" y="654.87" font-size="13" fill="#000" textLength="23.20" lengthAdjust="spacingAndGlyphs">100</text>
<text x="108.61" y="674.87" font-size="13" fill="#000" textLength="16.36" lengthAdjust="spacingAndGlyphs">50</text>
<text x="116.61" y="690.07" font-size="13" fill="#000" textLength="8.38" lengthAdjust="spacingAndGlyphs">0</text>
<text x="101.74" y="707.67" font-size="13" fill="#000" textLength="23.20" lengthAdjust="spacingAndGlyphs">150</text>
<text x="101.74" y="726.87" font-size="13" fill="#000" textLength="23.20" lengthAdjust="spacingAndGlyphs">100</text>
<text x="108.61" y="746.87" font-size="13" fill="#000" textLength="16.36" lengthAdjust="spacingAndGlyphs">50</text>
<text x="116.61" y="762.07" font-size="13" fill="#000" textLength="8.38" lengthAdjust="spacingAndGlyphs">0</text>
<text x="101.74" y="778.67" font-size="13" fill="#000" textLength="23.20" lengthAdjust="spacingAndGlyphs">150</text>
<text x="101.74" y="797.87" font-size="13" fill="#000" textLength="23.20" lengthAdjust="spacingAndGlyphs">100</text>
<text x="108.61" y="817.87" font-size="13" fill="#000" textLength="16.36" lengthAdjust="spacingAndGlyphs">50</text>
<text x="116.61" y="833.07" font-size="13" fill="#000" textLength="8.38" lengthAdjust="spacingAndGlyphs">0</text>
<text transform="translate(76.30,100.92) rotate(-90)" x="0" y="0" font-size="13" fill="#000" textLength="58.96" lengthAdjust="spacingAndGlyphs">proxy_ae</text>
<text transform="translate(88.50,85.00) rotate(-90)" x="0" y="0" font-size="14" fill="#000" textLength="26.90" lengthAdjust="spacingAndGlyphs" font-weight="bold">[nT]</text>
<text transform="translate(92.30,150.32) rotate(-90)" x="0" y="0" font-size="13" fill="#000" textLength="15.50" lengthAdjust="spacingAndGlyphs">elf</text>
<text transform="translate(105.00,149.93) rotate(-90)" x="0" y="0" font-size="13" fill="#000" textLength="14.50" lengthAdjust="spacingAndGlyphs">kp</text>
<text transform="translate(85.50,224.06) rotate(-90)" x="0" y="0" font-size="13" fill="#000" textLength="20.87" lengthAdjust="spacingAndGlyphs">dst</text>
<text transform="translate(30.10,307.53) rotate(-90)" x="0" y="0" font-size="13" fill="#000" textLength="16.53" lengthAdjust="spacingAndGlyphs">ela</text>
<text transform="translate(41.30,307.83) rotate(-90)" x="0" y="0" font-size="13" fill="#000" textLength="17.81" lengthAdjust="spacingAndGlyphs">pef</text>
<text transform="translate(52.30,305.51) rotate(-90)" x="0" y="0" font-size="13" fill="#000" textLength="13.28" lengthAdjust="spacingAndGlyphs">en</text>
<text transform="translate(63.00,327.37) rotate(-90)" x="0" y="0" font-size="13" fill="#000" textLength="56.67" lengthAdjust="spacingAndGlyphs">spec2plot</text>
<text transform="translate(73.00,313.17) rotate(-90)" x="0" y="0" font-size="13" fill="#000" textLength="29.28" lengthAdjust="spacingAndGlyphs">omni</text>
<text transform="translate(84.20,313.94) rotate(-90)" x="0" y="0" font-size="13" fill="#000" textLength="30.08" lengthAdjust="spacingAndGlyphs">[keV]</text>
<text transform="translate(30.10,378.53) rotate(-90)" x="0" y="0" font-size="13" fill="#000" textLength="16.53" lengthAdjust="spacingAndGlyphs">ela</text>
<text transform="translate(41.30,378.83) rotate(-90)" x="0" y="0" font-size="13" fill="#000" textLength="17.81" lengthAdjust="spacingAndGlyphs">pef</text>
<text transform="translate(52.30,376.51) rotate(-90)" x="0" y="0" font-size="13" fill="#000" textLength="13.28" lengthAdjust="spacingAndGlyphs">en</text>
<text transform="translate(63.00,398.37) rotate(-90)" x="0" y="0" font-size="13" fill="#000" textLength="56.67" lengthAdjust="spacingAndGlyphs">spec2plot</text>
<text transform="translate(72.90,381.59) rotate(-90)" x="0" y="0" font-size="13" fill="#000" textLength="22.54" lengthAdjust="spacingAndGlyphs">anti</text>
<text transform="translate(84.20,384.94) rotate(-90)" x="0" y="0" font-size="13" fill="#000" textLength="30.08" lengthAdjust="spacingAndGlyphs">[keV]</text>
<text transform="translate(30.10,449.53) rotate(-90)" x="0" y="0" font-size="13" fill="#000" textLength="16.53" lengthAdjust="spacingAndGlyphs">ela</text>
<text transform="translate(41.30,449.83) rotate(-90)" x="0" y="0" font-size="13" fill="#000" textLength="17.81" lengthAdjust="spacingAndGlyphs">pef</text>
<text transform="translate(52.30,447.51) rotate(-90)" x="0" y="0" font-size="13" fill="#000" textLength="13.28" lengthAdjust="spacingAndGlyphs">en</text>
<text transform="translate(63.00,469.37) rotate(-90)" x="0" y="0" font-size="13" fill="#000" textLength="56.67" lengthAdjust="spacingAndGlyphs">spec2plot</text>
<text transform="translate(70.50,453.72) rotate(-90)" x="0" y="0" font-size="13" fill="#000" textLength="25.56" lengthAdjust="spacingAndGlyphs">perp</text>
<text transform="translate(84.20,455.94) rotate(-90)" x="0" y="0" font-size="13" fill="#000" textLength="30.08" lengthAdjust="spacingAndGlyphs">[keV]</text>
<text transform="translate(30.10,520.53) rotate(-90)" x="0" y="0" font-size="13" fill="#000" textLength="16.53" lengthAdjust="spacingAndGlyphs">ela</text>
<text transform="translate(41.30,520.83) rotate(-90)" x="0" y="0" font-size="13" fill="#000" textLength="17.81" lengthAdjust="spacingAndGlyphs">pef</text>
<text transform="translate(52.30,518.51) rotate(-90)" x="0" y="0" font-size="13" fill="#000" textLength="13.28" lengthAdjust="spacingAndGlyphs">en</text>
<text transform="translate(63.00,540.37) rotate(-90)" x="0" y="0" font-size="13" fill="#000" textLength="56.67" lengthAdjust="spacingAndGlyphs">spec2plot</text>
<text transform="translate(70.50,525.74) rotate(-90)" x="0" y="0" font-size="13" fill="#000" textLength="26.04" lengthAdjust="spacingAndGlyphs">para</text>
<text transform="translate(84.20,526.94) rotate(-90)" x="0" y="0" font-size="13" fill="#000" textLength="30.08" lengthAdjust="spacingAndGlyphs">[keV]</text>
<text transform="translate(38.10,592.64) rotate(-90)" x="0" y="0" font-size="13" fill="#000" textLength="17.04" lengthAdjust="spacingAndGlyphs">ela</text>
<text transform="translate(48.90,592.95) rotate(-90)" x="0" y="0" font-size="13" fill="#000" textLength="18.23" lengthAdjust="spacingAndGlyphs">pef</text>
<text transform="translate(59.10,590.44) rotate(-90)" x="0" y="0" font-size="13" fill="#000" textLength="12.84" lengthAdjust="spacingAndGlyphs">pa</text>
<text transform="translate(70.20,610.86) rotate(-90)" x="0" y="0" font-size="13" fill="#000" textLength="55.15" lengthAdjust="spacingAndGlyphs">spec2plot</text>
<text transform="translate(81.10,601.30) rotate(-90)" x="0" y="0" font-size="13" fill="#000" textLength="34.36" lengthAdjust="spacingAndGlyphs">ch0LC</text>
<text transform="translate(92.00,599.93) rotate(-90)" x="0" y="0" font-size="13" fill="#000" textLength="32.05" lengthAdjust="spacingAndGlyphs">[deg]</text>
<text transform="translate(38.10,664.14) rotate(-90)" x="0" y="0" font-size="13" fill="#000" textLength="17.04" lengthAdjust="spacingAndGlyphs">ela</text>
<text transform="translate(48.90,664.45) rotate(-90)" x="0" y="0" font-size="13" fill="#000" textLength="18.23" lengthAdjust="spacingAndGlyphs">pef</text>
<text transform="translate(59.10,661.94) rotate(-90)" x="0" y="0" font-size="13" fill="#000" textLength="12.84" lengthAdjust="spacingAndGlyphs">pa</text>
<text transform="translate(70.20,682.36) rotate(-90)" x="0" y="0" font-size="13" fill="#000" textLength="55.15" lengthAdjust="spacingAndGlyphs">spec2plot</text>
<text transform="translate(81.10,672.80) rotate(-90)" x="0" y="0" font-size="13" fill="#000" textLength="34.36" lengthAdjust="spacingAndGlyphs">ch1LC</text>
<text transform="translate(92.00,671.43) rotate(-90)" x="0" y="0" font-size="13" fill="#000" textLength="32.05" lengthAdjust="spacingAndGlyphs">[deg]</text>
<text transform="translate(38.10,735.64) rotate(-90)" x="0" y="0" font-size="13" fill="#000" textLength="17.04" lengthAdjust="spacingAndGlyphs">ela</text>
<text transform="translate(48.90,735.95) rotate(-90)" x="0" y="0" font-size="13" fill="#000" textLength="18.23" lengthAdjust="spacingAndGlyphs">pef</text>
<text transform="translate(59.10,733.44) rotate(-90)" x="0" y="0" font-size="13" fill="#000" textLength="12.84" lengthAdjust="spacingAndGlyphs">pa</text>
<text transform="translate(70.20,753.86) rotate(-90)" x="0" y="0" font-size="13" fill="#000" textLength="55.15" lengthAdjust="spacingAndGlyphs">spec2plot</text>
<text transform="translate(81.10,744.30) rotate(-90)" x="0" y="0" font-size="13" fill="#000" textLength="34.36" lengthAdjust="spacingAndGlyphs">ch2LC</text>
<text transform="translate(92.00,742.93) rotate(-90)" x="0" y="0" font-size="13" fill="#000" textLength="32.05" lengthAdjust="spacingAndGlyphs">[deg]</text>
<text transform="translate(38.10,806.64) rotate(-90)" x="0" y="0" font-size="13" fill="#000" textLength="17.04" lengthAdjust="spacingAndGlyphs">ela</text>
<text transform="translate(48.90,806.95) rotate(-90)" x="0" y="0" font-size="13" fill="#000" textLength="18.23" lengthAdjust="spacingAndGlyphs">pef</text>
<text transform="translate(59.10,804.44) rotate(-90)" x="0" y="0" font-size="13" fill="#000" textLength="12.84" lengthAdjust="spacingAndGlyphs">pa</text>
<text transform="translate(70.20,824.86) rotate(-90)" x="0" y="0" font-size="13" fill="#000" textLength="55.15" lengthAdjust="spacingAndGlyphs">spec2plot</text>
<text transform="translate(81.10,815.30) rotate(-90)" x="0" y="0" font-size="13" fill="#000" textLength="34.36" lengthAdjust="spacingAndGlyphs">ch3LC</text>
<text transform="translate(92.00,813.93) rotate(-90)" x="0" y="0" font-size="13" fill="#000" textLength="32.05" lengthAdjust="spacingAndGlyphs">[deg]</text>
<text transform="translate(50.00,882.11) rotate(-90)" x="0" y="0" font-size="14.5" fill="#000" textLength="28.69" lengthAdjust="spacingAndGlyphs">IGRF</text>
<text transform="translate(63.30,880.98) rotate(-90)" x="0" y="0" font-size="14.5" fill="#000" textLength="26.17" lengthAdjust="spacingAndGlyphs">[nT]</text>
<text x="700.93" y="105.80" font-size="14" fill="#000" textLength="58.76" lengthAdjust="spacingAndGlyphs">proxy_AE</text>
<text x="700.62" y="171.10" font-size="14" fill="#0000ff" textLength="15.28" lengthAdjust="spacingAndGlyphs">kp</text>
<text x="700.37" y="215.00" font-size="14" fill="#0000ff" textLength="19.94" lengthAdjust="spacingAndGlyphs">dst</text>
<g shape-rendering="crispEdges">
<path d="M419,45h2v1h-2zM418,46h1v1h-1zM421,46h2v1h-2zM418,47h1v1h-1zM422,47h1v1h-1zM417,48h1v1h-1zM422,48h1v1h-1zM417,49h1v1h-1zM422,49h1v1h-1zM416,50h1v1h-1zM422,50h1v1h-1zM416,51h1v1h-1zM422,51h1v1h-1zM415,52h1v1h-1zM423,52h1v1h-1zM415,53h1v1h-1zM423,53h1v1h-1zM414,54h1v1h-1zM423,54h1v1h-1zM413,55h1v1h-1zM423,55h1v1h-1zM412,56h1v1h-1zM423,56h1v1h-1zM411,57h1v1h-1zM423,57h1v1h-1zM411,58h1v1h-1zM423,58h1v1h-1zM410,59h1v1h-1zM424,59h1v1h-1zM410,60h1v1h-1zM424,60h1v1h-1zM409,61h1v1h-1zM424,61h1v1h-1zM408,62h1v1h-1zM424,62h1v1h-1zM407,63h1v1h-1zM425,63h1v1h-1zM309,64h2v1h-2zM406,64h1v1h-1zM425,64h1v1h-1zM307,65h2v1h-2zM311,65h1v1h-1zM406,65h1v1h-1zM425,65h1v1h-1zM467,65h2v1h-2zM305,66h2v1h-2zM312,66h1v1h-1zM405,66h1v1h-1zM425,66h1v1h-1zM465,66h2v1h-2zM469,66h2v1h-2zM304,67h1v1h-1zM313,67h1v1h-1zM316,67h7v1h-7zM405,67h1v1h-1zM426,67h1v1h-1zM464,67h1v1h-1zM471,67h1v1h-1zM304,68h1v1h-1zM313,68h1v1h-1zM315,68h1v1h-1zM323,68h1v1h-1zM405,68h1v1h-1zM426,68h1v1h-1zM463,68h1v1h-1zM471,68h1v1h-1zM304,69h1v1h-1zM314,69h1v1h-1zM323,69h1v1h-1zM404,69h1v1h-1zM427,69h1v1h-1zM463,69h1v1h-1zM472,69h1v1h-1zM304,70h1v1h-1zM324,70h1v1h-1zM404,70h1v1h-1zM427,70h1v1h-1zM462,70h1v1h-1zM472,70h1v1h-1zM483,70h1v1h-1zM304,71h1v1h-1zM324,71h1v1h-1zM330,71h1v1h-1zM404,71h1v1h-1zM428,71h1v1h-1zM462,71h1v1h-1zM473,71h1v1h-1zM482,71h1v1h-1zM484,71h2v1h-2zM304,72h1v1h-1zM325,72h1v1h-1zM329,72h1v1h-1zM331,72h1v1h-1zM404,72h1v1h-1zM429,72h1v1h-1zM462,72h1v1h-1zM473,72h1v1h-1zM480,72h2v1h-2zM486,72h3v1h-3zM303,73h1v1h-1zM326,73h1v1h-1zM328,73h1v1h-1zM331,73h1v1h-1zM403,73h1v1h-1zM429,73h1v1h-1zM462,73h1v1h-1zM474,73h1v1h-1zM479,73h1v1h-1zM489,73h1v1h-1zM303,74h1v1h-1zM327,74h1v1h-1zM331,74h1v1h-1zM403,74h1v1h-1zM430,74h1v1h-1zM461,74h1v1h-1zM474,74h1v1h-1zM478,74h1v1h-1zM489,74h1v1h-1zM303,75h1v1h-1zM332,75h1v1h-1zM396,75h2v1h-2zM403,75h1v1h-1zM430,75h1v1h-1zM460,75h2v1h-2zM474,75h1v1h-1zM478,75h1v1h-1zM490,75h1v1h-1zM303,76h1v1h-1zM332,76h1v1h-1zM395,76h1v1h-1zM398,76h2v1h-2zM403,76h1v1h-1zM431,76h1v1h-1zM458,76h2v1h-2zM475,76h1v1h-1zM477,76h1v1h-1zM490,76h1v1h-1zM493,76h3v1h-3zM303,77h1v1h-1zM333,77h1v1h-1zM395,77h1v1h-1zM400,77h3v1h-3zM431,77h1v1h-1zM458,77h1v1h-1zM475,77h1v1h-1zM477,77h1v1h-1zM491,77h2v1h-2zM495,77h1v1h-1zM303,78h1v1h-1zM333,78h1v1h-1zM394,78h1v1h-1zM402,78h1v1h-1zM432,78h1v1h-1zM457,78h1v1h-1zM475,78h1v1h-1zM477,78h1v1h-1zM496,78h1v1h-1zM303,79h1v1h-1zM334,79h1v1h-1zM393,79h1v1h-1zM432,79h1v1h-1zM457,79h1v1h-1zM475,79h1v1h-1zM477,79h1v1h-1zM496,79h1v1h-1zM303,80h1v1h-1zM334,80h1v1h-1zM371,80h2v1h-2zM392,80h1v1h-1zM433,80h1v1h-1zM457,80h1v1h-1zM476,80h1v1h-1zM496,80h1v1h-1zM303,81h1v1h-1zM335,81h1v1h-1zM371,81h1v1h-1zM373,81h2v1h-2zM391,81h1v1h-1zM434,81h1v1h-1zM457,81h1v1h-1zM476,81h1v1h-1zM497,81h1v1h-1zM303,82h1v1h-1zM336,82h2v1h-2zM370,82h1v1h-1zM374,82h1v1h-1zM390,82h1v1h-1zM435,82h1v1h-1zM456,82h1v1h-1zM497,82h1v1h-1zM294,83h1v1h-1zM303,83h1v1h-1zM338,83h1v1h-1zM370,83h1v1h-1zM375,83h1v1h-1zM390,83h1v1h-1zM436,83h1v1h-1zM456,83h1v1h-1zM497,83h1v1h-1zM294,84h2v1h-2zM302,84h1v1h-1zM339,84h1v1h-1zM369,84h1v1h-1zM375,84h1v1h-1zM389,84h1v1h-1zM437,84h1v1h-1zM456,84h1v1h-1zM497,84h1v1h-1zM293,85h1v1h-1zM296,85h1v1h-1zM302,85h1v1h-1zM339,85h1v1h-1zM369,85h1v1h-1zM375,85h1v1h-1zM389,85h1v1h-1zM438,85h1v1h-1zM455,85h1v1h-1zM498,85h1v1h-1zM293,86h1v1h-1zM297,86h1v1h-1zM302,86h1v1h-1zM340,86h1v1h-1zM368,86h1v1h-1zM375,86h1v1h-1zM388,86h1v1h-1zM439,86h1v1h-1zM454,86h2v1h-2zM498,86h1v1h-1zM292,87h1v1h-1zM298,87h1v1h-1zM302,87h1v1h-1zM340,87h1v1h-1zM358,87h1v1h-1zM368,87h1v1h-1zM376,87h1v1h-1zM378,87h2v1h-2zM388,87h1v1h-1zM440,87h1v1h-1zM444,87h4v1h-4zM452,87h2v1h-2zM499,87h1v1h-1zM292,88h1v1h-1zM299,88h1v1h-1zM302,88h1v1h-1zM341,88h1v1h-1zM357,88h1v1h-1zM359,88h1v1h-1zM368,88h1v1h-1zM376,88h2v1h-2zM380,88h1v1h-1zM387,88h1v1h-1zM440,88h1v1h-1zM444,88h1v1h-1zM448,88h1v1h-1zM451,88h1v1h-1zM499,88h1v1h-1zM292,89h1v1h-1zM299,89h1v1h-1zM301,89h2v1h-2zM341,89h1v1h-1zM356,89h1v1h-1zM359,89h1v1h-1zM367,89h1v1h-1zM381,89h1v1h-1zM387,89h1v1h-1zM440,89h1v1h-1zM443,89h1v1h-1zM448,89h1v1h-1zM451,89h1v1h-1zM500,89h1v1h-1zM291,90h1v1h-1zM300,90h1v1h-1zM342,90h1v1h-1zM344,90h3v1h-3zM356,90h1v1h-1zM360,90h1v1h-1zM367,90h1v1h-1zM381,90h1v1h-1zM384,90h3v1h-3zM441,90h1v1h-1zM443,90h1v1h-1zM449,90h2v1h-2zM500,90h1v1h-1zM277,91h1v1h-1zM291,91h1v1h-1zM342,91h2v1h-2zM347,91h1v1h-1zM355,91h1v1h-1zM360,91h1v1h-1zM366,91h1v1h-1zM382,91h2v1h-2zM441,91h2v1h-2zM449,91h1v1h-1zM501,91h1v1h-1zM276,92h1v1h-1zM278,92h2v1h-2zM290,92h1v1h-1zM348,92h2v1h-2zM354,92h1v1h-1zM361,92h1v1h-1zM366,92h1v1h-1zM441,92h1v1h-1zM501,92h1v1h-1zM589,92h1v1h-1zM275,93h1v1h-1zM280,93h1v1h-1zM289,93h2v1h-2zM350,93h1v1h-1zM352,93h2v1h-2zM361,93h1v1h-1zM365,93h1v1h-1zM502,93h1v1h-1zM588,93h1v1h-1zM590,93h2v1h-2zM274,94h1v1h-1zM281,94h1v1h-1zM287,94h2v1h-2zM351,94h1v1h-1zM362,94h3v1h-3zM502,94h1v1h-1zM588,94h1v1h-1zM592,94h1v1h-1zM273,95h1v1h-1zM281,95h1v1h-1zM285,95h2v1h-2zM362,95h1v1h-1zM503,95h1v1h-1zM587,95h1v1h-1zM593,95h1v1h-1zM272,96h1v1h-1zM282,96h3v1h-3zM503,96h1v1h-1zM587,96h1v1h-1zM594,96h1v1h-1zM264,97h2v1h-2zM269,97h3v1h-3zM282,97h1v1h-1zM504,97h4v1h-4zM522,97h3v1h-3zM584,97h3v1h-3zM595,97h1v1h-1zM263,98h1v1h-1zM266,98h3v1h-3zM508,98h2v1h-2zM519,98h3v1h-3zM525,98h1v1h-1zM566,98h1v1h-1zM582,98h2v1h-2zM595,98h1v1h-1zM141,99h6v1h-6zM258,99h5v1h-5zM510,99h3v1h-3zM518,99h1v1h-1zM525,99h1v1h-1zM564,99h2v1h-2zM567,99h1v1h-1zM580,99h2v1h-2zM596,99h1v1h-1zM604,99h3v1h-3zM621,99h2v1h-2zM128,100h7v1h-7zM139,100h2v1h-2zM147,100h1v1h-1zM176,100h5v1h-5zM183,100h2v1h-2zM253,100h5v1h-5zM513,100h2v1h-2zM517,100h1v1h-1zM526,100h7v1h-7zM562,100h2v1h-2zM567,100h1v1h-1zM579,100h1v1h-1zM596,100h2v1h-2zM602,100h2v1h-2zM607,100h2v1h-2zM619,100h2v1h-2zM623,100h10v1h-10zM128,101h1v1h-1zM135,101h2v1h-2zM138,101h1v1h-1zM148,101h2v1h-2zM151,101h9v1h-9zM175,101h1v1h-1zM181,101h2v1h-2zM185,101h1v1h-1zM251,101h2v1h-2zM515,101h2v1h-2zM533,101h2v1h-2zM538,101h9v1h-9zM550,101h3v1h-3zM557,101h5v1h-5zM568,101h11v1h-11zM598,101h4v1h-4zM609,101h1v1h-1zM616,101h3v1h-3zM633,101h4v1h-4zM128,102h1v1h-1zM137,102h1v1h-1zM150,102h1v1h-1zM160,102h15v1h-15zM186,102h65v1h-65zM535,102h3v1h-3zM547,102h3v1h-3zM553,102h4v1h-4zM610,102h1v1h-1zM613,102h3v1h-3zM637,102h2v1h-2zM670,102h1v1h-1zM675,102h9v1h-9zM128,103h1v1h-1zM611,103h2v1h-2zM639,103h31v1h-31zM671,103h4v1h-4zM684,103h3v1h-3zM128,104h1v1h-1z" fill="#000"/>
<polyline points="128.5,156.5 233.5,156.5 233.5,142.5 512.5,142.5 512.5,156.5 582.5,156.5 582.5,170.5 687.5,170.5" fill="none" stroke="#0000ff" stroke-width="1"/>
<polyline points="128.5,206.5 151.5,206.5 151.5,209.5 175.5,209.5 175.5,197.5 198.5,197.5 198.5,203.5 221.5,203.5 221.5,203.5 244.5,203.5 244.5,206.5 268.5,206.5 268.5,209.5 291.5,209.5 291.5,226.5 314.5,226.5 314.5,234.5 338.5,234.5 338.5,231.5 361.5,231.5 361.5,229.5 384.5,229.5 384.5,214.5 408.5,214.5 408.5,201.5 431.5,201.5 431.5,209.5 454.5,209.5 454.5,211.5 477.5,211.5 477.5,210.5 501.5,210.5 501.5,211.5 524.5,211.5 524.5,209.5 547.5,209.5 547.5,192.5 571.5,192.5 571.5,194.5 594.5,194.5 594.5,192.5 617.5,192.5 617.5,201.5 640.5,201.5 640.5,212.5 664.5,212.5 664.5,214.5 687.5,214.5" fill="none" stroke="#0000ff" stroke-width="1"/>
</g>
<path d="M166,848h1v1h-1zM128,849h4v1h-4zM166,849h2v1h-2zM202,849h2v1h-2zM400,849h2v1h-2zM436,849h2v1h-2zM471,849h4v1h-4zM132,850h1v1h-1zM165,850h1v1h-1zM167,850h1v1h-1zM201,850h1v1h-1zM204,850h1v1h-1zM239,850h3v1h-3zM365,850h1v1h-1zM399,850h1v1h-1zM401,850h1v1h-1zM435,850h1v1h-1zM438,850h1v1h-1zM471,850h1v1h-1zM474,850h1v1h-1zM507,850h3v1h-3zM618,850h1v1h-1zM674,850h1v1h-1zM132,851h1v1h-1zM165,851h1v1h-1zM168,851h1v1h-1zM201,851h1v1h-1zM204,851h1v1h-1zM239,851h1v1h-1zM241,851h1v1h-1zM276,851h1v1h-1zM329,851h2v1h-2zM363,851h3v1h-3zM398,851h1v1h-1zM402,851h1v1h-1zM435,851h1v1h-1zM438,851h1v1h-1zM470,851h1v1h-1zM475,851h1v1h-1zM507,851h1v1h-1zM510,851h1v1h-1zM544,851h1v1h-1zM600,851h1v1h-1zM617,851h2v1h-2zM636,851h4v1h-4zM673,851h1v1h-1zM675,851h1v1h-1zM133,852h1v1h-1zM164,852h1v1h-1zM168,852h1v1h-1zM200,852h1v1h-1zM205,852h1v1h-1zM238,852h1v1h-1zM242,852h1v1h-1zM275,852h1v1h-1zM277,852h1v1h-1zM291,852h4v1h-4zM313,852h1v1h-1zM327,852h2v1h-2zM330,852h1v1h-1zM362,852h1v1h-1zM366,852h1v1h-1zM398,852h1v1h-1zM402,852h1v1h-1zM434,852h1v1h-1zM439,852h1v1h-1zM470,852h1v1h-1zM475,852h1v1h-1zM506,852h1v1h-1zM510,852h1v1h-1zM544,852h2v1h-2zM564,852h1v1h-1zM579,852h1v1h-1zM599,852h1v1h-1zM601,852h1v1h-1zM616,852h1v1h-1zM618,852h1v1h-1zM635,852h1v1h-1zM639,852h1v1h-1zM672,852h1v1h-1zM676,852h1v1h-1zM133,853h1v1h-1zM164,853h1v1h-1zM169,853h1v1h-1zM200,853h1v1h-1zM205,853h1v1h-1zM218,853h2v1h-2zM238,853h1v1h-1zM242,853h1v1h-1zM254,853h5v1h-5zM275,853h1v1h-1zM277,853h1v1h-1zM290,853h1v1h-1zM295,853h1v1h-1zM312,853h1v1h-1zM314,853h1v1h-1zM326,853h1v1h-1zM331,853h1v1h-1zM349,853h1v1h-1zM361,853h1v1h-1zM366,853h1v1h-1zM385,853h1v1h-1zM397,853h1v1h-1zM403,853h1v1h-1zM434,853h1v1h-1zM439,853h1v1h-1zM470,853h1v1h-1zM476,853h1v1h-1zM492,853h1v1h-1zM506,853h1v1h-1zM511,853h1v1h-1zM528,853h1v1h-1zM543,853h1v1h-1zM546,853h2v1h-2zM563,853h1v1h-1zM565,853h1v1h-1zM579,853h3v1h-3zM599,853h1v1h-1zM602,853h2v1h-2zM615,853h1v1h-1zM619,853h1v1h-1zM634,853h1v1h-1zM640,853h1v1h-1zM672,853h1v1h-1zM676,853h1v1h-1zM134,854h1v1h-1zM145,854h1v1h-1zM163,854h1v1h-1zM169,854h1v1h-1zM182,854h2v1h-2zM200,854h1v1h-1zM206,854h1v1h-1zM217,854h1v1h-1zM220,854h3v1h-3zM237,854h1v1h-1zM242,854h1v1h-1zM253,854h1v1h-1zM259,854h1v1h-1zM274,854h1v1h-1zM278,854h1v1h-1zM289,854h1v1h-1zM295,854h1v1h-1zM311,854h1v1h-1zM314,854h1v1h-1zM326,854h1v1h-1zM331,854h1v1h-1zM348,854h1v1h-1zM350,854h1v1h-1zM361,854h1v1h-1zM367,854h1v1h-1zM384,854h1v1h-1zM386,854h1v1h-1zM397,854h1v1h-1zM403,854h1v1h-1zM421,854h1v1h-1zM433,854h1v1h-1zM440,854h1v1h-1zM456,854h3v1h-3zM469,854h1v1h-1zM476,854h1v1h-1zM491,854h1v1h-1zM493,854h2v1h-2zM506,854h1v1h-1zM511,854h1v1h-1zM526,854h2v1h-2zM529,854h1v1h-1zM543,854h1v1h-1zM548,854h1v1h-1zM562,854h1v1h-1zM566,854h1v1h-1zM578,854h1v1h-1zM582,854h1v1h-1zM598,854h1v1h-1zM604,854h1v1h-1zM615,854h1v1h-1zM619,854h1v1h-1zM633,854h1v1h-1zM640,854h1v1h-1zM652,854h1v1h-1zM671,854h1v1h-1zM677,854h1v1h-1zM134,855h1v1h-1zM144,855h1v1h-1zM146,855h1v1h-1zM163,855h1v1h-1zM169,855h1v1h-1zM181,855h1v1h-1zM184,855h1v1h-1zM200,855h1v1h-1zM206,855h1v1h-1zM217,855h1v1h-1zM223,855h1v1h-1zM237,855h1v1h-1zM243,855h1v1h-1zM252,855h1v1h-1zM259,855h1v1h-1zM274,855h1v1h-1zM278,855h1v1h-1zM288,855h1v1h-1zM296,855h1v1h-1zM310,855h1v1h-1zM314,855h1v1h-1zM325,855h1v1h-1zM331,855h1v1h-1zM347,855h1v1h-1zM350,855h1v1h-1zM360,855h1v1h-1zM367,855h1v1h-1zM384,855h1v1h-1zM387,855h1v1h-1zM396,855h1v1h-1zM403,855h1v1h-1zM420,855h1v1h-1zM422,855h1v1h-1zM433,855h1v1h-1zM440,855h1v1h-1zM454,855h2v1h-2zM459,855h1v1h-1zM469,855h1v1h-1zM477,855h1v1h-1zM489,855h2v1h-2zM495,855h1v1h-1zM506,855h1v1h-1zM512,855h1v1h-1zM525,855h1v1h-1zM530,855h2v1h-2zM542,855h1v1h-1zM548,855h1v1h-1zM561,855h1v1h-1zM567,855h1v1h-1zM578,855h1v1h-1zM582,855h1v1h-1zM597,855h1v1h-1zM604,855h1v1h-1zM614,855h1v1h-1zM619,855h1v1h-1zM633,855h1v1h-1zM641,855h1v1h-1zM652,855h2v1h-2zM671,855h1v1h-1zM677,855h1v1h-1zM135,856h1v1h-1zM144,856h1v1h-1zM147,856h2v1h-2zM163,856h1v1h-1zM170,856h1v1h-1zM180,856h1v1h-1zM185,856h2v1h-2zM199,856h1v1h-1zM206,856h1v1h-1zM216,856h1v1h-1zM223,856h1v1h-1zM236,856h1v1h-1zM243,856h1v1h-1zM252,856h1v1h-1zM260,856h1v1h-1zM273,856h1v1h-1zM279,856h1v1h-1zM288,856h1v1h-1zM296,856h1v1h-1zM310,856h1v1h-1zM315,856h1v1h-1zM325,856h1v1h-1zM332,856h1v1h-1zM346,856h1v1h-1zM351,856h1v1h-1zM359,856h1v1h-1zM368,856h1v1h-1zM383,856h1v1h-1zM387,856h1v1h-1zM396,856h1v1h-1zM404,856h1v1h-1zM418,856h2v1h-2zM422,856h1v1h-1zM432,856h1v1h-1zM440,856h1v1h-1zM452,856h2v1h-2zM459,856h1v1h-1zM468,856h1v1h-1zM477,856h1v1h-1zM488,856h1v1h-1zM495,856h1v1h-1zM505,856h1v1h-1zM512,856h1v1h-1zM524,856h1v1h-1zM532,856h1v1h-1zM542,856h1v1h-1zM548,856h1v1h-1zM560,856h1v1h-1zM568,856h1v1h-1zM578,856h1v1h-1zM583,856h1v1h-1zM596,856h1v1h-1zM605,856h1v1h-1zM614,856h1v1h-1zM620,856h1v1h-1zM632,856h1v1h-1zM641,856h1v1h-1zM651,856h1v1h-1zM654,856h1v1h-1zM670,856h1v1h-1zM678,856h1v1h-1zM135,857h1v1h-1zM143,857h1v1h-1zM149,857h3v1h-3zM162,857h1v1h-1zM170,857h1v1h-1zM180,857h1v1h-1zM187,857h1v1h-1zM199,857h1v1h-1zM206,857h1v1h-1zM216,857h1v1h-1zM224,857h1v1h-1zM236,857h1v1h-1zM243,857h1v1h-1zM251,857h1v1h-1zM261,857h1v1h-1zM272,857h1v1h-1zM279,857h1v1h-1zM287,857h1v1h-1zM297,857h1v1h-1zM309,857h1v1h-1zM315,857h1v1h-1zM324,857h1v1h-1zM332,857h1v1h-1zM345,857h1v1h-1zM351,857h1v1h-1zM359,857h1v1h-1zM368,857h1v1h-1zM382,857h1v1h-1zM388,857h1v1h-1zM395,857h1v1h-1zM404,857h1v1h-1zM417,857h1v1h-1zM423,857h1v1h-1zM432,857h1v1h-1zM441,857h1v1h-1zM450,857h2v1h-2zM460,857h1v1h-1zM468,857h1v1h-1zM478,857h1v1h-1zM487,857h1v1h-1zM496,857h1v1h-1zM505,857h1v1h-1zM513,857h1v1h-1zM523,857h1v1h-1zM532,857h1v1h-1zM541,857h1v1h-1zM548,857h1v1h-1zM559,857h1v1h-1zM569,857h1v1h-1zM577,857h1v1h-1zM583,857h1v1h-1zM596,857h1v1h-1zM605,857h1v1h-1zM613,857h1v1h-1zM620,857h1v1h-1zM632,857h1v1h-1zM642,857h1v1h-1zM651,857h1v1h-1zM655,857h1v1h-1zM670,857h1v1h-1zM678,857h1v1h-1zM686,857h1v1h-1zM135,858h1v1h-1zM143,858h1v1h-1zM152,858h3v1h-3zM162,858h1v1h-1zM171,858h1v1h-1zM179,858h1v1h-1zM188,858h1v1h-1zM199,858h1v1h-1zM207,858h1v1h-1zM215,858h1v1h-1zM225,858h1v1h-1zM235,858h1v1h-1zM243,858h1v1h-1zM251,858h1v1h-1zM261,858h1v1h-1zM272,858h1v1h-1zM280,858h1v1h-1zM286,858h1v1h-1zM297,858h1v1h-1zM303,858h1v1h-1zM309,858h1v1h-1zM316,858h1v1h-1zM324,858h1v1h-1zM333,858h1v1h-1zM345,858h1v1h-1zM352,858h1v1h-1zM358,858h1v1h-1zM368,858h1v1h-1zM381,858h1v1h-1zM388,858h1v1h-1zM395,858h1v1h-1zM404,858h1v1h-1zM414,858h3v1h-3zM423,858h1v1h-1zM431,858h1v1h-1zM441,858h1v1h-1zM448,858h2v1h-2zM460,858h1v1h-1zM468,858h1v1h-1zM478,858h1v1h-1zM485,858h2v1h-2zM496,858h1v1h-1zM505,858h1v1h-1zM513,858h1v1h-1zM522,858h1v1h-1zM533,858h1v1h-1zM540,858h1v1h-1zM548,858h1v1h-1zM559,858h1v1h-1zM569,858h1v1h-1zM577,858h1v1h-1zM584,858h1v1h-1zM589,858h1v1h-1zM595,858h1v1h-1zM606,858h1v1h-1zM613,858h1v1h-1zM621,858h1v1h-1zM632,858h1v1h-1zM642,858h1v1h-1zM650,858h1v1h-1zM656,858h2v1h-2zM670,858h1v1h-1zM679,858h1v1h-1zM686,858h1v1h-1zM135,859h1v1h-1zM142,859h1v1h-1zM155,859h1v1h-1zM162,859h1v1h-1zM171,859h1v1h-1zM179,859h1v1h-1zM189,859h1v1h-1zM198,859h1v1h-1zM207,859h1v1h-1zM215,859h1v1h-1zM226,859h1v1h-1zM235,859h1v1h-1zM244,859h1v1h-1zM250,859h1v1h-1zM262,859h1v1h-1zM267,859h2v1h-2zM271,859h1v1h-1zM280,859h1v1h-1zM286,859h1v1h-1zM298,859h1v1h-1zM303,859h3v1h-3zM308,859h1v1h-1zM316,859h1v1h-1zM323,859h1v1h-1zM333,859h1v1h-1zM338,859h3v1h-3zM344,859h1v1h-1zM353,859h1v1h-1zM358,859h1v1h-1zM369,859h1v1h-1zM374,859h3v1h-3zM381,859h1v1h-1zM389,859h1v1h-1zM394,859h1v1h-1zM405,859h1v1h-1zM411,859h3v1h-3zM424,859h1v1h-1zM431,859h1v1h-1zM441,859h1v1h-1zM446,859h2v1h-2zM461,859h1v1h-1zM467,859h1v1h-1zM478,859h1v1h-1zM483,859h2v1h-2zM497,859h1v1h-1zM504,859h1v1h-1zM514,859h1v1h-1zM517,859h1v1h-1zM522,859h1v1h-1zM533,859h1v1h-1zM540,859h1v1h-1zM548,859h1v1h-1zM553,859h3v1h-3zM558,859h1v1h-1zM570,859h1v1h-1zM576,859h1v1h-1zM584,859h1v1h-1zM587,859h2v1h-2zM590,859h1v1h-1zM594,859h1v1h-1zM606,859h1v1h-1zM612,859h1v1h-1zM621,859h1v1h-1zM626,859h1v1h-1zM632,859h1v1h-1zM643,859h1v1h-1zM650,859h1v1h-1zM658,859h6v1h-6zM669,859h1v1h-1zM679,859h1v1h-1zM685,859h1v1h-1zM136,860h1v1h-1zM141,860h1v1h-1zM155,860h1v1h-1zM161,860h1v1h-1zM172,860h1v1h-1zM178,860h1v1h-1zM190,860h1v1h-1zM198,860h1v1h-1zM207,860h1v1h-1zM214,860h1v1h-1zM226,860h1v1h-1zM234,860h1v1h-1zM244,860h1v1h-1zM250,860h1v1h-1zM262,860h1v1h-1zM266,860h1v1h-1zM269,860h1v1h-1zM271,860h1v1h-1zM280,860h1v1h-1zM285,860h1v1h-1zM298,860h1v1h-1zM303,860h1v1h-1zM306,860h1v1h-1zM308,860h1v1h-1zM317,860h1v1h-1zM323,860h1v1h-1zM333,860h1v1h-1zM338,860h1v1h-1zM341,860h2v1h-2zM344,860h1v1h-1zM353,860h1v1h-1zM358,860h1v1h-1zM369,860h1v1h-1zM374,860h1v1h-1zM377,860h2v1h-2zM380,860h1v1h-1zM389,860h1v1h-1zM394,860h1v1h-1zM405,860h1v1h-1zM410,860h1v1h-1zM424,860h1v1h-1zM431,860h1v1h-1zM442,860h1v1h-1zM445,860h1v1h-1zM461,860h1v1h-1zM467,860h1v1h-1zM479,860h1v1h-1zM482,860h1v1h-1zM497,860h1v1h-1zM504,860h1v1h-1zM514,860h1v1h-1zM516,860h1v1h-1zM518,860h2v1h-2zM521,860h1v1h-1zM534,860h1v1h-1zM539,860h1v1h-1zM548,860h1v1h-1zM551,860h2v1h-2zM555,860h1v1h-1zM558,860h1v1h-1zM570,860h1v1h-1zM576,860h1v1h-1zM585,860h2v1h-2zM590,860h1v1h-1zM594,860h1v1h-1zM607,860h1v1h-1zM612,860h1v1h-1zM622,860h1v1h-1zM625,860h2v1h-2zM631,860h1v1h-1zM643,860h1v1h-1zM649,860h1v1h-1zM663,860h1v1h-1zM669,860h1v1h-1zM679,860h1v1h-1zM685,860h1v1h-1zM136,861h1v1h-1zM141,861h1v1h-1zM156,861h1v1h-1zM161,861h1v1h-1zM172,861h1v1h-1zM178,861h1v1h-1zM191,861h1v1h-1zM197,861h1v1h-1zM207,861h1v1h-1zM214,861h1v1h-1zM227,861h1v1h-1zM232,861h3v1h-3zM245,861h1v1h-1zM249,861h1v1h-1zM263,861h1v1h-1zM266,861h1v1h-1zM270,861h1v1h-1zM281,861h1v1h-1zM285,861h1v1h-1zM299,861h1v1h-1zM302,861h1v1h-1zM307,861h1v1h-1zM317,861h1v1h-1zM323,861h1v1h-1zM334,861h1v1h-1zM338,861h1v1h-1zM343,861h1v1h-1zM354,861h1v1h-1zM358,861h1v1h-1zM370,861h1v1h-1zM374,861h1v1h-1zM379,861h1v1h-1zM390,861h1v1h-1zM394,861h1v1h-1zM405,861h1v1h-1zM409,861h1v1h-1zM425,861h1v1h-1zM430,861h1v1h-1zM442,861h1v1h-1zM445,861h1v1h-1zM462,861h1v1h-1zM467,861h1v1h-1zM479,861h1v1h-1zM481,861h1v1h-1zM498,861h1v1h-1zM503,861h1v1h-1zM515,861h1v1h-1zM520,861h1v1h-1zM534,861h1v1h-1zM539,861h1v1h-1zM549,861h2v1h-2zM556,861h2v1h-2zM570,861h1v1h-1zM575,861h1v1h-1zM585,861h1v1h-1zM591,861h1v1h-1zM593,861h1v1h-1zM607,861h1v1h-1zM612,861h1v1h-1zM622,861h3v1h-3zM627,861h1v1h-1zM631,861h1v1h-1zM644,861h1v1h-1zM649,861h1v1h-1zM664,861h1v1h-1zM668,861h1v1h-1zM680,861h1v1h-1zM685,861h1v1h-1zM136,862h1v1h-1zM140,862h1v1h-1zM156,862h1v1h-1zM160,862h1v1h-1zM173,862h1v1h-1zM177,862h1v1h-1zM192,862h1v1h-1zM197,862h1v1h-1zM208,862h1v1h-1zM213,862h1v1h-1zM228,862h4v1h-4zM245,862h1v1h-1zM249,862h1v1h-1zM263,862h1v1h-1zM265,862h1v1h-1zM281,862h1v1h-1zM285,862h1v1h-1zM299,862h1v1h-1zM302,862h1v1h-1zM318,862h1v1h-1zM322,862h1v1h-1zM334,862h1v1h-1zM338,862h1v1h-1zM354,862h1v1h-1zM357,862h1v1h-1zM370,862h1v1h-1zM374,862h1v1h-1zM390,862h1v1h-1zM393,862h1v1h-1zM406,862h1v1h-1zM409,862h1v1h-1zM425,862h1v1h-1zM430,862h1v1h-1zM443,862h1v1h-1zM445,862h1v1h-1zM462,862h1v1h-1zM466,862h1v1h-1zM480,862h2v1h-2zM498,862h1v1h-1zM503,862h1v1h-1zM534,862h1v1h-1zM538,862h1v1h-1zM556,862h2v1h-2zM571,862h1v1h-1zM575,862h1v1h-1zM591,862h1v1h-1zM593,862h1v1h-1zM607,862h1v1h-1zM611,862h1v1h-1zM627,862h1v1h-1zM631,862h1v1h-1zM644,862h1v1h-1zM648,862h1v1h-1zM664,862h1v1h-1zM668,862h1v1h-1zM680,862h1v1h-1zM684,862h1v1h-1zM136,863h1v1h-1zM140,863h1v1h-1zM156,863h1v1h-1zM160,863h1v1h-1zM173,863h1v1h-1zM177,863h1v1h-1zM193,863h1v1h-1zM196,863h1v1h-1zM208,863h1v1h-1zM213,863h1v1h-1zM246,863h1v1h-1zM248,863h1v1h-1zM264,863h2v1h-2zM281,863h1v1h-1zM285,863h1v1h-1zM300,863h1v1h-1zM302,863h1v1h-1zM318,863h1v1h-1zM322,863h1v1h-1zM334,863h1v1h-1zM338,863h1v1h-1zM355,863h1v1h-1zM357,863h1v1h-1zM371,863h1v1h-1zM373,863h1v1h-1zM391,863h1v1h-1zM393,863h1v1h-1zM406,863h1v1h-1zM409,863h1v1h-1zM426,863h1v1h-1zM429,863h1v1h-1zM443,863h1v1h-1zM445,863h1v1h-1zM463,863h1v1h-1zM466,863h1v1h-1zM480,863h1v1h-1zM499,863h1v1h-1zM502,863h1v1h-1zM535,863h1v1h-1zM538,863h1v1h-1zM556,863h1v1h-1zM571,863h1v1h-1zM574,863h1v1h-1zM592,863h1v1h-1zM608,863h1v1h-1zM611,863h1v1h-1zM627,863h1v1h-1zM630,863h1v1h-1zM645,863h1v1h-1zM648,863h1v1h-1zM664,863h1v1h-1zM668,863h1v1h-1zM681,863h1v1h-1zM684,863h1v1h-1zM137,864h1v1h-1zM139,864h1v1h-1zM156,864h1v1h-1zM160,864h1v1h-1zM174,864h1v1h-1zM176,864h1v1h-1zM193,864h1v1h-1zM195,864h1v1h-1zM209,864h1v1h-1zM212,864h1v1h-1zM246,864h1v1h-1zM248,864h1v1h-1zM264,864h1v1h-1zM282,864h1v1h-1zM284,864h1v1h-1zM300,864h1v1h-1zM302,864h1v1h-1zM319,864h1v1h-1zM322,864h1v1h-1zM335,864h1v1h-1zM338,864h1v1h-1zM355,864h1v1h-1zM357,864h1v1h-1zM371,864h1v1h-1zM373,864h1v1h-1zM391,864h1v1h-1zM393,864h1v1h-1zM406,864h1v1h-1zM409,864h1v1h-1zM427,864h1v1h-1zM429,864h1v1h-1zM443,864h2v1h-2zM463,864h1v1h-1zM465,864h1v1h-1zM499,864h1v1h-1zM501,864h1v1h-1zM535,864h1v1h-1zM537,864h1v1h-1zM571,864h1v1h-1zM573,864h1v1h-1zM608,864h1v1h-1zM610,864h1v1h-1zM627,864h1v1h-1zM630,864h1v1h-1zM645,864h1v1h-1zM647,864h1v1h-1zM664,864h1v1h-1zM667,864h1v1h-1zM681,864h1v1h-1zM683,864h1v1h-1zM137,865h2v1h-2zM156,865h1v1h-1zM159,865h1v1h-1zM174,865h1v1h-1zM176,865h1v1h-1zM194,865h2v1h-2zM210,865h1v1h-1zM212,865h1v1h-1zM247,865h1v1h-1zM264,865h1v1h-1zM282,865h1v1h-1zM284,865h1v1h-1zM301,865h1v1h-1zM319,865h1v1h-1zM321,865h1v1h-1zM335,865h1v1h-1zM338,865h1v1h-1zM356,865h1v1h-1zM372,865h2v1h-2zM392,865h1v1h-1zM407,865h2v1h-2zM427,865h2v1h-2zM444,865h1v1h-1zM464,865h2v1h-2zM500,865h2v1h-2zM536,865h2v1h-2zM572,865h2v1h-2zM609,865h2v1h-2zM628,865h2v1h-2zM646,865h2v1h-2zM664,865h1v1h-1zM667,865h1v1h-1zM682,865h2v1h-2zM137,866h1v1h-1zM156,866h1v1h-1zM159,866h1v1h-1zM175,866h1v1h-1zM194,866h1v1h-1zM211,866h1v1h-1zM247,866h1v1h-1zM282,866h1v1h-1zM284,866h1v1h-1zM301,866h1v1h-1zM319,866h1v1h-1zM321,866h1v1h-1zM335,866h1v1h-1zM337,866h1v1h-1zM356,866h1v1h-1zM372,866h2v1h-2zM392,866h1v1h-1zM407,866h2v1h-2zM428,866h1v1h-1zM444,866h1v1h-1zM464,866h1v1h-1zM500,866h1v1h-1zM536,866h1v1h-1zM572,866h1v1h-1zM609,866h1v1h-1zM628,866h1v1h-1zM646,866h1v1h-1zM665,866h2v1h-2zM682,866h1v1h-1zM157,867h1v1h-1zM159,867h1v1h-1zM283,867h1v1h-1zM320,867h1v1h-1zM336,867h2v1h-2zM372,867h2v1h-2zM408,867h1v1h-1zM665,867h2v1h-2zM157,868h2v1h-2zM283,868h1v1h-1zM320,868h1v1h-1zM336,868h1v1h-1zM372,868h2v1h-2zM408,868h1v1h-1zM665,868h1v1h-1zM157,869h2v1h-2zM372,869h1v1h-1zM665,869h1v1h-1zM157,870h2v1h-2zM372,870h1v1h-1zM157,871h1v1h-1zM372,871h1v1h-1zM157,872h1v1h-1z" fill="#0000ff"/>
<path d="M338,861h1v1h-1zM374,861h1v1h-1zM156,862h2v1h-2zM191,862h2v1h-2zM227,862h2v1h-2zM263,862h2v1h-2zM299,862h3v1h-3zM336,862h3v1h-3zM373,862h2v1h-2zM520,862h1v1h-1zM556,862h1v1h-1zM592,862h1v1h-1zM628,862h1v1h-1zM664,862h1v1h-1zM155,863h1v1h-1zM157,863h1v1h-1zM189,863h2v1h-2zM192,863h1v1h-1zM225,863h2v1h-2zM228,863h1v1h-1zM260,863h3v1h-3zM264,863h1v1h-1zM298,863h1v1h-1zM301,863h1v1h-1zM335,863h1v1h-1zM338,863h1v1h-1zM373,863h2v1h-2zM448,863h1v1h-1zM484,863h3v1h-3zM520,863h3v1h-3zM556,863h3v1h-3zM592,863h3v1h-3zM627,863h1v1h-1zM629,863h1v1h-1zM663,863h1v1h-1zM665,863h1v1h-1zM153,864h2v1h-2zM157,864h1v1h-1zM187,864h2v1h-2zM192,864h1v1h-1zM223,864h2v1h-2zM228,864h1v1h-1zM240,864h5v1h-5zM258,864h2v1h-2zM264,864h1v1h-1zM276,864h6v1h-6zM297,864h1v1h-1zM301,864h1v1h-1zM333,864h2v1h-2zM338,864h1v1h-1zM372,864h1v1h-1zM374,864h1v1h-1zM409,864h4v1h-4zM447,864h1v1h-1zM449,864h2v1h-2zM482,864h2v1h-2zM487,864h1v1h-1zM520,864h1v1h-1zM523,864h2v1h-2zM542,864h3v1h-3zM555,864h1v1h-1zM559,864h1v1h-1zM576,864h5v1h-5zM591,864h1v1h-1zM595,864h1v1h-1zM627,864h1v1h-1zM630,864h1v1h-1zM663,864h1v1h-1zM665,864h1v1h-1zM152,865h1v1h-1zM157,865h1v1h-1zM186,865h1v1h-1zM193,865h1v1h-1zM204,865h5v1h-5zM221,865h2v1h-2zM229,865h1v1h-1zM239,865h1v1h-1zM245,865h1v1h-1zM256,865h2v1h-2zM265,865h1v1h-1zM275,865h1v1h-1zM282,865h1v1h-1zM296,865h1v1h-1zM302,865h1v1h-1zM312,865h7v1h-7zM332,865h1v1h-1zM338,865h1v1h-1zM371,865h1v1h-1zM374,865h2v1h-2zM409,865h1v1h-1zM413,865h2v1h-2zM446,865h1v1h-1zM451,865h2v1h-2zM482,865h1v1h-1zM488,865h2v1h-2zM503,865h6v1h-6zM520,865h1v1h-1zM525,865h2v1h-2zM540,865h2v1h-2zM545,865h2v1h-2zM555,865h1v1h-1zM560,865h2v1h-2zM575,865h1v1h-1zM581,865h2v1h-2zM591,865h1v1h-1zM596,865h2v1h-2zM610,865h7v1h-7zM626,865h1v1h-1zM631,865h2v1h-2zM662,865h1v1h-1zM666,865h1v1h-1zM151,866h1v1h-1zM157,866h1v1h-1zM170,866h3v1h-3zM185,866h1v1h-1zM193,866h1v1h-1zM202,866h2v1h-2zM209,866h1v1h-1zM219,866h2v1h-2zM229,866h1v1h-1zM239,866h1v1h-1zM246,866h2v1h-2zM254,866h2v1h-2zM265,866h1v1h-1zM274,866h1v1h-1zM283,866h1v1h-1zM294,866h2v1h-2zM302,866h1v1h-1zM310,866h2v1h-2zM319,866h1v1h-1zM330,866h2v1h-2zM338,866h1v1h-1zM352,866h3v1h-3zM368,866h3v1h-3zM376,866h2v1h-2zM390,866h2v1h-2zM409,866h1v1h-1zM415,866h1v1h-1zM446,866h1v1h-1zM453,866h1v1h-1zM467,866h6v1h-6zM482,866h1v1h-1zM490,866h1v1h-1zM501,866h2v1h-2zM509,866h1v1h-1zM519,866h1v1h-1zM527,866h2v1h-2zM538,866h2v1h-2zM547,866h1v1h-1zM554,866h1v1h-1zM562,866h1v1h-1zM574,866h1v1h-1zM583,866h2v1h-2zM590,866h1v1h-1zM598,866h1v1h-1zM609,866h1v1h-1zM617,866h1v1h-1zM625,866h1v1h-1zM633,866h2v1h-2zM646,866h5v1h-5zM661,866h1v1h-1zM667,866h1v1h-1zM682,866h3v1h-3zM150,867h1v1h-1zM158,867h1v1h-1zM166,867h4v1h-4zM173,867h1v1h-1zM183,867h2v1h-2zM193,867h1v1h-1zM201,867h1v1h-1zM210,867h2v1h-2zM217,867h2v1h-2zM229,867h1v1h-1zM238,867h1v1h-1zM248,867h1v1h-1zM252,867h2v1h-2zM265,867h1v1h-1zM273,867h1v1h-1zM284,867h4v1h-4zM292,867h2v1h-2zM302,867h1v1h-1zM309,867h1v1h-1zM319,867h1v1h-1zM328,867h2v1h-2zM339,867h2v1h-2zM348,867h4v1h-4zM355,867h1v1h-1zM365,867h3v1h-3zM378,867h1v1h-1zM388,867h2v1h-2zM392,867h1v1h-1zM406,867h4v1h-4zM416,867h1v1h-1zM446,867h1v1h-1zM453,867h1v1h-1zM465,867h2v1h-2zM473,867h1v1h-1zM481,867h1v1h-1zM491,867h2v1h-2zM499,867h2v1h-2zM510,867h1v1h-1zM519,867h1v1h-1zM529,867h3v1h-3zM536,867h2v1h-2zM548,867h1v1h-1zM554,867h1v1h-1zM563,867h2v1h-2zM573,867h1v1h-1zM585,867h1v1h-1zM590,867h1v1h-1zM599,867h2v1h-2zM607,867h2v1h-2zM618,867h1v1h-1zM624,867h1v1h-1zM635,867h1v1h-1zM645,867h1v1h-1zM651,867h1v1h-1zM660,867h1v1h-1zM668,867h2v1h-2zM681,867h1v1h-1zM685,867h1v1h-1zM128,868h3v1h-3zM135,868h3v1h-3zM149,868h1v1h-1zM158,868h1v1h-1zM164,868h2v1h-2zM174,868h1v1h-1zM182,868h1v1h-1zM193,868h1v1h-1zM200,868h1v1h-1zM212,868h5v1h-5zM229,868h1v1h-1zM237,868h1v1h-1zM249,868h3v1h-3zM265,868h1v1h-1zM272,868h1v1h-1zM288,868h4v1h-4zM303,868h1v1h-1zM308,868h1v1h-1zM320,868h2v1h-2zM326,868h2v1h-2zM341,868h2v1h-2zM345,868h3v1h-3zM356,868h2v1h-2zM363,868h2v1h-2zM379,868h2v1h-2zM387,868h1v1h-1zM393,868h1v1h-1zM401,868h5v1h-5zM408,868h2v1h-2zM416,868h1v1h-1zM426,868h13v1h-13zM445,868h1v1h-1zM454,868h11v1h-11zM473,868h1v1h-1zM481,868h1v1h-1zM493,868h6v1h-6zM511,868h1v1h-1zM519,868h1v1h-1zM532,868h4v1h-4zM548,868h1v1h-1zM553,868h1v1h-1zM565,868h5v1h-5zM572,868h1v1h-1zM585,868h1v1h-1zM588,868h2v1h-2zM601,868h3v1h-3zM606,868h1v1h-1zM619,868h1v1h-1zM622,868h2v1h-2zM636,868h1v1h-1zM645,868h1v1h-1zM652,868h2v1h-2zM659,868h1v1h-1zM670,868h2v1h-2zM680,868h1v1h-1zM685,868h1v1h-1zM131,869h4v1h-4zM138,869h11v1h-11zM158,869h1v1h-1zM162,869h2v1h-2zM175,869h7v1h-7zM193,869h1v1h-1zM199,869h1v1h-1zM229,869h1v1h-1zM236,869h1v1h-1zM266,869h1v1h-1zM271,869h1v1h-1zM304,869h4v1h-4zM322,869h4v1h-4zM343,869h2v1h-2zM358,869h5v1h-5zM381,869h2v1h-2zM385,869h2v1h-2zM394,869h2v1h-2zM399,869h2v1h-2zM408,869h2v1h-2zM417,869h9v1h-9zM439,869h2v1h-2zM445,869h1v1h-1zM474,869h1v1h-1zM481,869h1v1h-1zM512,869h1v1h-1zM518,869h1v1h-1zM549,869h5v1h-5zM570,869h2v1h-2zM586,869h2v1h-2zM604,869h2v1h-2zM620,869h2v1h-2zM637,869h8v1h-8zM654,869h5v1h-5zM672,869h8v1h-8zM686,869h1v1h-1zM158,870h1v1h-1zM160,870h2v1h-2zM194,870h1v1h-1zM198,870h1v1h-1zM230,870h1v1h-1zM235,870h1v1h-1zM266,870h1v1h-1zM270,870h1v1h-1zM383,870h2v1h-2zM396,870h3v1h-3zM408,870h1v1h-1zM441,870h2v1h-2zM445,870h1v1h-1zM475,870h2v1h-2zM481,870h1v1h-1zM513,870h1v1h-1zM517,870h1v1h-1zM158,871h2v1h-2zM194,871h1v1h-1zM198,871h1v1h-1zM230,871h1v1h-1zM234,871h1v1h-1zM266,871h1v1h-1zM269,871h1v1h-1zM408,871h1v1h-1zM443,871h1v1h-1zM445,871h1v1h-1zM477,871h1v1h-1zM481,871h1v1h-1zM514,871h1v1h-1zM517,871h1v1h-1zM194,872h2v1h-2zM198,872h1v1h-1zM230,872h4v1h-4zM267,872h2v1h-2zM408,872h1v1h-1zM443,872h2v1h-2zM478,872h1v1h-1zM480,872h1v1h-1zM514,872h1v1h-1zM516,872h1v1h-1zM196,873h3v1h-3zM408,873h1v1h-1zM444,873h1v1h-1zM479,873h2v1h-2zM515,873h1v1h-1zM408,874h1v1h-1zM444,874h1v1h-1zM480,874h1v1h-1z" fill="#00ff00"/>
<g shape-rendering="crispEdges">
<rect x="128.00" y="867.00" width="560.00" height="1.00" fill="#000"/>
</g>
<path d="M135,839h4v1h-4zM171,839h4v1h-4zM209,839h4v1h-4zM356,839h3v1h-3zM392,839h3v1h-3zM429,839h3v1h-3zM464,839h5v1h-5zM499,839h4v1h-4zM536,839h3v1h-3zM680,839h3v1h-3zM134,840h1v1h-1zM138,840h3v1h-3zM171,840h1v1h-1zM175,840h3v1h-3zM207,840h2v1h-2zM213,840h2v1h-2zM245,840h6v1h-6zM283,840h3v1h-3zM319,840h3v1h-3zM355,840h2v1h-2zM358,840h1v1h-1zM391,840h2v1h-2zM395,840h1v1h-1zM426,840h3v1h-3zM432,840h1v1h-1zM462,840h2v1h-2zM468,840h2v1h-2zM498,840h2v1h-2zM503,840h2v1h-2zM535,840h1v1h-1zM539,840h1v1h-1zM571,840h4v1h-4zM607,840h4v1h-4zM644,840h4v1h-4zM679,840h1v1h-1zM682,840h2v1h-2zM134,841h1v1h-1zM141,841h1v1h-1zM170,841h1v1h-1zM178,841h1v1h-1zM207,841h1v1h-1zM214,841h1v1h-1zM244,841h1v1h-1zM250,841h1v1h-1zM282,841h2v1h-2zM285,841h2v1h-2zM318,841h1v1h-1zM322,841h1v1h-1zM354,841h1v1h-1zM358,841h1v1h-1zM390,841h2v1h-2zM395,841h1v1h-1zM425,841h2v1h-2zM432,841h1v1h-1zM461,841h1v1h-1zM469,841h1v1h-1zM497,841h2v1h-2zM504,841h1v1h-1zM534,841h1v1h-1zM539,841h1v1h-1zM570,841h2v1h-2zM575,841h1v1h-1zM607,841h1v1h-1zM611,841h1v1h-1zM643,841h1v1h-1zM648,841h1v1h-1zM678,841h1v1h-1zM684,841h1v1h-1zM133,842h1v1h-1zM142,842h1v1h-1zM170,842h1v1h-1zM179,842h1v1h-1zM206,842h1v1h-1zM215,842h1v1h-1zM243,842h2v1h-2zM250,842h1v1h-1zM280,842h2v1h-2zM286,842h1v1h-1zM317,842h1v1h-1zM322,842h1v1h-1zM353,842h2v1h-2zM359,842h1v1h-1zM389,842h2v1h-2zM396,842h1v1h-1zM424,842h2v1h-2zM432,842h2v1h-2zM460,842h1v1h-1zM469,842h1v1h-1zM496,842h1v1h-1zM504,842h2v1h-2zM533,842h1v1h-1zM540,842h1v1h-1zM570,842h1v1h-1zM576,842h1v1h-1zM607,842h1v1h-1zM612,842h1v1h-1zM643,842h1v1h-1zM648,842h1v1h-1zM678,842h1v1h-1zM684,842h2v1h-2zM133,843h1v1h-1zM142,843h1v1h-1zM169,843h2v1h-2zM179,843h1v1h-1zM206,843h1v1h-1zM215,843h1v1h-1zM243,843h1v1h-1zM251,843h1v1h-1zM280,843h1v1h-1zM286,843h1v1h-1zM316,843h2v1h-2zM323,843h1v1h-1zM353,843h1v1h-1zM359,843h1v1h-1zM389,843h1v1h-1zM396,843h1v1h-1zM424,843h1v1h-1zM433,843h1v1h-1zM460,843h1v1h-1zM470,843h1v1h-1zM496,843h1v1h-1zM505,843h1v1h-1zM533,843h1v1h-1zM540,843h1v1h-1zM570,843h1v1h-1zM576,843h1v1h-1zM606,843h1v1h-1zM612,843h1v1h-1zM642,843h1v1h-1zM649,843h1v1h-1zM677,843h1v1h-1zM685,843h1v1h-1zM133,844h1v1h-1zM143,844h1v1h-1zM169,844h1v1h-1zM179,844h1v1h-1zM205,844h2v1h-2zM215,844h2v1h-2zM242,844h1v1h-1zM251,844h1v1h-1zM279,844h1v1h-1zM287,844h1v1h-1zM316,844h1v1h-1zM323,844h1v1h-1zM352,844h1v1h-1zM360,844h1v1h-1zM388,844h1v1h-1zM396,844h2v1h-2zM424,844h1v1h-1zM433,844h1v1h-1zM459,844h2v1h-2zM470,844h1v1h-1zM495,844h1v1h-1zM505,844h1v1h-1zM532,844h2v1h-2zM540,844h2v1h-2zM569,844h1v1h-1zM576,844h2v1h-2zM605,844h2v1h-2zM612,844h2v1h-2zM642,844h1v1h-1zM649,844h1v1h-1zM677,844h1v1h-1zM686,844h1v1h-1zM132,845h2v1h-2zM143,845h1v1h-1zM169,845h1v1h-1zM180,845h1v1h-1zM205,845h1v1h-1zM216,845h1v1h-1zM242,845h1v1h-1zM251,845h2v1h-2zM278,845h2v1h-2zM287,845h1v1h-1zM315,845h1v1h-1zM324,845h1v1h-1zM352,845h1v1h-1zM360,845h1v1h-1zM388,845h1v1h-1zM397,845h1v1h-1zM423,845h1v1h-1zM433,845h1v1h-1zM459,845h1v1h-1zM470,845h1v1h-1zM495,845h1v1h-1zM505,845h1v1h-1zM532,845h1v1h-1zM541,845h1v1h-1zM568,845h2v1h-2zM577,845h1v1h-1zM605,845h1v1h-1zM613,845h1v1h-1zM641,845h2v1h-2zM650,845h1v1h-1zM677,845h1v1h-1zM132,846h1v1h-1zM143,846h1v1h-1zM169,846h1v1h-1zM180,846h1v1h-1zM205,846h1v1h-1zM216,846h1v1h-1zM242,846h1v1h-1zM252,846h1v1h-1zM278,846h1v1h-1zM288,846h1v1h-1zM315,846h1v1h-1zM324,846h1v1h-1zM351,846h2v1h-2zM360,846h1v1h-1zM387,846h1v1h-1zM397,846h1v1h-1zM423,846h1v1h-1zM434,846h1v1h-1zM459,846h1v1h-1zM470,846h1v1h-1zM495,846h1v1h-1zM506,846h1v1h-1zM532,846h1v1h-1zM541,846h1v1h-1zM568,846h1v1h-1zM577,846h1v1h-1zM605,846h1v1h-1zM613,846h2v1h-2zM641,846h1v1h-1zM650,846h1v1h-1zM676,846h1v1h-1zM132,847h1v1h-1zM144,847h1v1h-1zM169,847h1v1h-1zM180,847h1v1h-1zM205,847h1v1h-1zM216,847h1v1h-1zM241,847h1v1h-1zM252,847h1v1h-1zM278,847h1v1h-1zM288,847h1v1h-1zM314,847h1v1h-1zM324,847h1v1h-1zM351,847h1v1h-1zM360,847h2v1h-2zM387,847h1v1h-1zM397,847h1v1h-1zM422,847h2v1h-2zM434,847h1v1h-1zM458,847h1v1h-1zM470,847h1v1h-1zM494,847h1v1h-1zM506,847h1v1h-1zM531,847h1v1h-1zM541,847h1v1h-1zM568,847h1v1h-1zM578,847h1v1h-1zM604,847h1v1h-1zM614,847h1v1h-1zM641,847h1v1h-1zM650,847h1v1h-1zM676,847h1v1h-1zM132,848h1v1h-1zM144,848h1v1h-1zM168,848h1v1h-1zM181,848h1v1h-1zM205,848h1v1h-1zM217,848h1v1h-1zM241,848h1v1h-1zM252,848h1v1h-1zM278,848h1v1h-1zM288,848h1v1h-1zM314,848h1v1h-1zM324,848h1v1h-1zM351,848h1v1h-1zM361,848h1v1h-1zM386,848h1v1h-1zM397,848h1v1h-1zM422,848h1v1h-1zM434,848h1v1h-1zM458,848h1v1h-1zM471,848h1v1h-1zM494,848h1v1h-1zM506,848h1v1h-1zM531,848h1v1h-1zM541,848h2v1h-2zM568,848h1v1h-1zM578,848h1v1h-1zM604,848h1v1h-1zM614,848h1v1h-1zM640,848h2v1h-2zM651,848h1v1h-1zM676,848h1v1h-1zM132,849h1v1h-1zM144,849h1v1h-1zM168,849h1v1h-1zM181,849h1v1h-1zM205,849h1v1h-1zM217,849h1v1h-1zM241,849h1v1h-1zM252,849h1v1h-1zM277,849h1v1h-1zM288,849h1v1h-1zM314,849h1v1h-1zM324,849h2v1h-2zM350,849h2v1h-2zM361,849h1v1h-1zM386,849h1v1h-1zM398,849h1v1h-1zM422,849h1v1h-1zM434,849h1v1h-1zM458,849h1v1h-1zM471,849h1v1h-1zM494,849h1v1h-1zM506,849h1v1h-1zM531,849h1v1h-1zM542,849h1v1h-1zM567,849h1v1h-1zM578,849h1v1h-1zM604,849h1v1h-1zM614,849h1v1h-1zM640,849h1v1h-1zM651,849h1v1h-1zM676,849h1v1h-1zM131,850h2v1h-2zM144,850h1v1h-1zM168,850h1v1h-1zM181,850h1v1h-1zM204,850h1v1h-1zM217,850h1v1h-1zM241,850h1v1h-1zM253,850h1v1h-1zM277,850h1v1h-1zM289,850h1v1h-1zM313,850h1v1h-1zM325,850h1v1h-1zM350,850h1v1h-1zM361,850h1v1h-1zM386,850h1v1h-1zM398,850h1v1h-1zM422,850h1v1h-1zM434,850h1v1h-1zM458,850h1v1h-1zM471,850h1v1h-1zM494,850h1v1h-1zM507,850h1v1h-1zM531,850h1v1h-1zM542,850h1v1h-1zM567,850h1v1h-1zM578,850h1v1h-1zM604,850h1v1h-1zM614,850h1v1h-1zM640,850h1v1h-1zM651,850h1v1h-1zM676,850h1v1h-1zM131,851h1v1h-1zM144,851h1v1h-1zM168,851h1v1h-1zM181,851h1v1h-1zM204,851h1v1h-1zM217,851h1v1h-1zM241,851h1v1h-1zM253,851h1v1h-1zM277,851h1v1h-1zM289,851h1v1h-1zM313,851h1v1h-1zM325,851h1v1h-1zM350,851h1v1h-1zM361,851h1v1h-1zM386,851h1v1h-1zM398,851h1v1h-1zM421,851h2v1h-2zM435,851h1v1h-1zM457,851h1v1h-1zM471,851h1v1h-1zM493,851h1v1h-1zM507,851h1v1h-1zM530,851h2v1h-2zM542,851h1v1h-1zM567,851h1v1h-1zM579,851h1v1h-1zM603,851h1v1h-1zM615,851h1v1h-1zM640,851h1v1h-1zM651,851h1v1h-1zM676,851h1v1h-1zM131,852h1v1h-1zM145,852h1v1h-1zM168,852h1v1h-1zM181,852h2v1h-2zM204,852h1v1h-1zM217,852h2v1h-2zM240,852h2v1h-2zM253,852h1v1h-1zM277,852h1v1h-1zM289,852h1v1h-1zM313,852h1v1h-1zM325,852h1v1h-1zM350,852h1v1h-1zM362,852h1v1h-1zM385,852h1v1h-1zM398,852h1v1h-1zM421,852h1v1h-1zM435,852h1v1h-1zM457,852h1v1h-1zM471,852h1v1h-1zM493,852h1v1h-1zM507,852h1v1h-1zM530,852h1v1h-1zM542,852h1v1h-1zM566,852h1v1h-1zM579,852h1v1h-1zM603,852h1v1h-1zM615,852h1v1h-1zM640,852h1v1h-1zM651,852h1v1h-1zM676,852h1v1h-1zM131,853h1v1h-1zM145,853h1v1h-1zM168,853h1v1h-1zM182,853h1v1h-1zM204,853h1v1h-1zM218,853h1v1h-1zM240,853h1v1h-1zM253,853h1v1h-1zM277,853h1v1h-1zM289,853h1v1h-1zM313,853h1v1h-1zM325,853h1v1h-1zM350,853h1v1h-1zM362,853h1v1h-1zM385,853h1v1h-1zM398,853h1v1h-1zM421,853h1v1h-1zM435,853h1v1h-1zM457,853h1v1h-1zM471,853h1v1h-1zM493,853h1v1h-1zM507,853h1v1h-1zM530,853h1v1h-1zM542,853h1v1h-1zM566,853h1v1h-1zM579,853h1v1h-1zM603,853h1v1h-1zM615,853h1v1h-1zM639,853h1v1h-1zM652,853h1v1h-1zM675,853h1v1h-1zM131,854h1v1h-1zM145,854h1v1h-1zM168,854h1v1h-1zM182,854h1v1h-1zM204,854h1v1h-1zM218,854h1v1h-1zM240,854h1v1h-1zM254,854h1v1h-1zM276,854h1v1h-1zM290,854h1v1h-1zM313,854h1v1h-1zM325,854h2v1h-2zM349,854h1v1h-1zM362,854h1v1h-1zM385,854h1v1h-1zM398,854h1v1h-1zM421,854h1v1h-1zM435,854h1v1h-1zM457,854h1v1h-1zM471,854h1v1h-1zM493,854h1v1h-1zM507,854h1v1h-1zM530,854h1v1h-1zM542,854h2v1h-2zM566,854h1v1h-1zM579,854h1v1h-1zM603,854h1v1h-1zM615,854h1v1h-1zM639,854h1v1h-1zM652,854h1v1h-1zM675,854h1v1h-1zM131,855h1v1h-1zM145,855h1v1h-1zM167,855h1v1h-1zM182,855h1v1h-1zM204,855h1v1h-1zM218,855h1v1h-1zM240,855h1v1h-1zM254,855h1v1h-1zM276,855h1v1h-1zM290,855h1v1h-1zM313,855h1v1h-1zM326,855h1v1h-1zM349,855h1v1h-1zM362,855h1v1h-1zM385,855h1v1h-1zM399,855h1v1h-1zM421,855h1v1h-1zM435,855h1v1h-1zM457,855h1v1h-1zM472,855h1v1h-1zM493,855h1v1h-1zM507,855h1v1h-1zM530,855h1v1h-1zM543,855h1v1h-1zM566,855h1v1h-1zM579,855h1v1h-1zM603,855h1v1h-1zM616,855h1v1h-1zM639,855h1v1h-1zM652,855h1v1h-1zM675,855h1v1h-1zM130,856h1v1h-1zM146,856h1v1h-1zM167,856h1v1h-1zM183,856h1v1h-1zM204,856h1v1h-1zM218,856h1v1h-1zM240,856h1v1h-1zM254,856h1v1h-1zM276,856h1v1h-1zM290,856h1v1h-1zM313,856h1v1h-1zM326,856h1v1h-1zM349,856h1v1h-1zM362,856h1v1h-1zM385,856h1v1h-1zM399,856h1v1h-1zM420,856h1v1h-1zM435,856h1v1h-1zM456,856h1v1h-1zM472,856h1v1h-1zM492,856h2v1h-2zM507,856h1v1h-1zM529,856h1v1h-1zM543,856h1v1h-1zM566,856h1v1h-1zM579,856h1v1h-1zM602,856h1v1h-1zM616,856h1v1h-1zM639,856h1v1h-1zM652,856h1v1h-1zM675,856h1v1h-1zM130,857h1v1h-1zM146,857h1v1h-1zM167,857h1v1h-1zM183,857h1v1h-1zM204,857h1v1h-1zM219,857h1v1h-1zM240,857h1v1h-1zM254,857h1v1h-1zM276,857h1v1h-1zM290,857h1v1h-1zM312,857h1v1h-1zM326,857h1v1h-1zM349,857h1v1h-1zM362,857h2v1h-2zM384,857h1v1h-1zM399,857h1v1h-1zM420,857h1v1h-1zM435,857h1v1h-1zM456,857h1v1h-1zM472,857h1v1h-1zM492,857h1v1h-1zM508,857h1v1h-1zM529,857h1v1h-1zM543,857h1v1h-1zM565,857h1v1h-1zM580,857h1v1h-1zM602,857h1v1h-1zM616,857h1v1h-1zM639,857h1v1h-1zM652,857h1v1h-1zM675,857h1v1h-1zM130,858h1v1h-1zM146,858h1v1h-1zM167,858h1v1h-1zM183,858h1v1h-1zM203,858h1v1h-1zM219,858h1v1h-1zM240,858h1v1h-1zM254,858h1v1h-1zM276,858h1v1h-1zM290,858h1v1h-1zM312,858h1v1h-1zM326,858h1v1h-1zM349,858h1v1h-1zM363,858h1v1h-1zM384,858h1v1h-1zM399,858h1v1h-1zM420,858h1v1h-1zM436,858h1v1h-1zM456,858h1v1h-1zM472,858h1v1h-1zM492,858h1v1h-1zM508,858h1v1h-1zM529,858h1v1h-1zM543,858h1v1h-1zM565,858h1v1h-1zM580,858h1v1h-1zM602,858h1v1h-1zM616,858h1v1h-1zM638,858h1v1h-1zM652,858h2v1h-2zM675,858h1v1h-1zM130,859h1v1h-1zM147,859h1v1h-1zM167,859h1v1h-1zM183,859h1v1h-1zM203,859h1v1h-1zM219,859h1v1h-1zM240,859h1v1h-1zM254,859h1v1h-1zM276,859h1v1h-1zM291,859h1v1h-1zM312,859h1v1h-1zM327,859h1v1h-1zM349,859h1v1h-1zM363,859h1v1h-1zM384,859h1v1h-1zM399,859h1v1h-1zM420,859h1v1h-1zM436,859h1v1h-1zM456,859h1v1h-1zM472,859h1v1h-1zM492,859h1v1h-1zM508,859h1v1h-1zM529,859h1v1h-1zM543,859h1v1h-1zM565,859h1v1h-1zM580,859h1v1h-1zM602,859h1v1h-1zM616,859h1v1h-1zM638,859h1v1h-1zM653,859h1v1h-1zM675,859h1v1h-1zM130,860h1v1h-1zM147,860h1v1h-1zM167,860h1v1h-1zM184,860h1v1h-1zM203,860h1v1h-1zM219,860h1v1h-1zM239,860h1v1h-1zM255,860h1v1h-1zM276,860h1v1h-1zM291,860h1v1h-1zM312,860h1v1h-1zM327,860h1v1h-1zM349,860h1v1h-1zM363,860h1v1h-1zM384,860h1v1h-1zM399,860h1v1h-1zM419,860h1v1h-1zM436,860h1v1h-1zM456,860h1v1h-1zM472,860h1v1h-1zM492,860h1v1h-1zM508,860h1v1h-1zM529,860h1v1h-1zM543,860h1v1h-1zM565,860h1v1h-1zM580,860h1v1h-1zM602,860h1v1h-1zM616,860h1v1h-1zM638,860h1v1h-1zM653,860h1v1h-1zM675,860h1v1h-1zM130,861h1v1h-1zM147,861h1v1h-1zM167,861h1v1h-1zM184,861h1v1h-1zM203,861h1v1h-1zM219,861h1v1h-1zM239,861h1v1h-1zM255,861h1v1h-1zM276,861h1v1h-1zM291,861h1v1h-1zM312,861h1v1h-1zM327,861h1v1h-1zM348,861h1v1h-1zM363,861h1v1h-1zM384,861h1v1h-1zM399,861h1v1h-1zM419,861h1v1h-1zM436,861h1v1h-1zM455,861h1v1h-1zM472,861h1v1h-1zM492,861h1v1h-1zM508,861h1v1h-1zM529,861h1v1h-1zM544,861h1v1h-1zM565,861h1v1h-1zM580,861h1v1h-1zM601,861h2v1h-2zM616,861h1v1h-1zM638,861h1v1h-1zM653,861h1v1h-1zM675,861h1v1h-1zM129,862h1v1h-1zM147,862h1v1h-1zM167,862h1v1h-1zM184,862h1v1h-1zM203,862h1v1h-1zM220,862h1v1h-1zM239,862h1v1h-1zM255,862h1v1h-1zM276,862h1v1h-1zM291,862h1v1h-1zM312,862h1v1h-1zM327,862h1v1h-1zM348,862h1v1h-1zM363,862h1v1h-1zM384,862h1v1h-1zM400,862h1v1h-1zM419,862h1v1h-1zM436,862h1v1h-1zM455,862h1v1h-1zM472,862h1v1h-1zM491,862h1v1h-1zM508,862h1v1h-1zM528,862h1v1h-1zM544,862h1v1h-1zM564,862h1v1h-1zM580,862h1v1h-1zM601,862h1v1h-1zM616,862h1v1h-1zM638,862h1v1h-1zM653,862h1v1h-1zM674,862h1v1h-1zM129,863h1v1h-1zM147,863h2v1h-2zM166,863h1v1h-1zM184,863h1v1h-1zM203,863h1v1h-1zM220,863h1v1h-1zM239,863h1v1h-1zM255,863h1v1h-1zM275,863h1v1h-1zM291,863h1v1h-1zM312,863h1v1h-1zM327,863h1v1h-1zM348,863h1v1h-1zM363,863h1v1h-1zM384,863h1v1h-1zM400,863h1v1h-1zM419,863h1v1h-1zM436,863h1v1h-1zM455,863h1v1h-1zM472,863h2v1h-2zM491,863h1v1h-1zM508,863h1v1h-1zM528,863h1v1h-1zM544,863h1v1h-1zM564,863h1v1h-1zM580,863h1v1h-1zM601,863h1v1h-1zM616,863h2v1h-2zM638,863h1v1h-1zM653,863h1v1h-1zM674,863h1v1h-1zM129,864h1v1h-1zM148,864h1v1h-1zM166,864h1v1h-1zM184,864h1v1h-1zM203,864h1v1h-1zM220,864h1v1h-1zM239,864h1v1h-1zM255,864h1v1h-1zM275,864h1v1h-1zM291,864h2v1h-2zM312,864h1v1h-1zM327,864h1v1h-1zM348,864h1v1h-1zM364,864h1v1h-1zM383,864h2v1h-2zM400,864h1v1h-1zM419,864h1v1h-1zM436,864h1v1h-1zM455,864h1v1h-1zM473,864h1v1h-1zM491,864h1v1h-1zM509,864h1v1h-1zM528,864h1v1h-1zM544,864h1v1h-1zM564,864h1v1h-1zM580,864h1v1h-1zM601,864h1v1h-1zM617,864h1v1h-1zM638,864h1v1h-1zM653,864h2v1h-2zM674,864h1v1h-1zM129,865h1v1h-1zM148,865h1v1h-1zM166,865h1v1h-1zM184,865h1v1h-1zM203,865h1v1h-1zM220,865h1v1h-1zM239,865h1v1h-1zM255,865h2v1h-2zM275,865h1v1h-1zM292,865h1v1h-1zM311,865h2v1h-2zM328,865h1v1h-1zM348,865h1v1h-1zM364,865h1v1h-1zM383,865h1v1h-1zM400,865h1v1h-1zM418,865h1v1h-1zM436,865h1v1h-1zM455,865h1v1h-1zM473,865h1v1h-1zM491,865h1v1h-1zM509,865h1v1h-1zM528,865h1v1h-1zM544,865h1v1h-1zM564,865h1v1h-1zM580,865h1v1h-1zM601,865h1v1h-1zM617,865h1v1h-1zM637,865h2v1h-2zM654,865h1v1h-1zM674,865h1v1h-1zM129,866h1v1h-1zM148,866h1v1h-1zM166,866h1v1h-1zM184,866h1v1h-1zM203,866h1v1h-1zM220,866h1v1h-1zM239,866h1v1h-1zM256,866h1v1h-1zM275,866h1v1h-1zM292,866h1v1h-1zM311,866h1v1h-1zM328,866h1v1h-1zM348,866h1v1h-1zM364,866h1v1h-1zM383,866h1v1h-1zM400,866h1v1h-1zM418,866h1v1h-1zM436,866h1v1h-1zM454,866h1v1h-1zM473,866h1v1h-1zM491,866h1v1h-1zM509,866h1v1h-1zM528,866h1v1h-1zM544,866h1v1h-1zM564,866h1v1h-1zM581,866h1v1h-1zM601,866h1v1h-1zM617,866h1v1h-1zM637,866h1v1h-1zM654,866h1v1h-1zM674,866h1v1h-1zM129,867h1v1h-1zM148,867h1v1h-1zM166,867h1v1h-1zM184,867h2v1h-2zM202,867h1v1h-1zM220,867h1v1h-1zM239,867h1v1h-1zM256,867h1v1h-1zM275,867h1v1h-1zM292,867h1v1h-1zM311,867h1v1h-1zM328,867h1v1h-1zM348,867h1v1h-1zM364,867h1v1h-1zM383,867h1v1h-1zM400,867h1v1h-1zM418,867h1v1h-1zM436,867h2v1h-2zM454,867h1v1h-1zM473,867h1v1h-1zM491,867h1v1h-1zM509,867h1v1h-1zM527,867h1v1h-1zM544,867h1v1h-1zM563,867h2v1h-2zM581,867h1v1h-1zM600,867h2v1h-2zM617,867h1v1h-1zM637,867h1v1h-1zM654,867h1v1h-1zM674,867h1v1h-1zM129,868h1v1h-1zM148,868h1v1h-1zM166,868h1v1h-1zM185,868h1v1h-1zM202,868h1v1h-1zM221,868h1v1h-1zM238,868h2v1h-2zM256,868h1v1h-1zM275,868h1v1h-1zM292,868h1v1h-1zM311,868h1v1h-1zM328,868h1v1h-1zM348,868h1v1h-1zM364,868h1v1h-1zM383,868h1v1h-1zM400,868h1v1h-1zM418,868h1v1h-1zM437,868h1v1h-1zM454,868h1v1h-1zM473,868h1v1h-1zM490,868h1v1h-1zM509,868h1v1h-1zM527,868h1v1h-1zM544,868h1v1h-1zM563,868h1v1h-1zM581,868h1v1h-1zM600,868h1v1h-1zM617,868h1v1h-1zM637,868h1v1h-1zM654,868h1v1h-1zM674,868h1v1h-1zM129,869h1v1h-1zM149,869h1v1h-1zM166,869h1v1h-1zM185,869h1v1h-1zM202,869h1v1h-1zM221,869h1v1h-1zM238,869h1v1h-1zM256,869h2v1h-2zM275,869h1v1h-1zM292,869h1v1h-1zM311,869h1v1h-1zM328,869h1v1h-1zM347,869h2v1h-2zM364,869h1v1h-1zM383,869h1v1h-1zM400,869h1v1h-1zM418,869h1v1h-1zM437,869h1v1h-1zM454,869h1v1h-1zM473,869h1v1h-1zM490,869h1v1h-1zM509,869h1v1h-1zM527,869h1v1h-1zM545,869h1v1h-1zM563,869h1v1h-1zM581,869h1v1h-1zM600,869h1v1h-1zM617,869h2v1h-2zM637,869h1v1h-1zM655,869h1v1h-1zM673,869h2v1h-2zM128,870h1v1h-1zM149,870h1v1h-1zM166,870h1v1h-1zM185,870h1v1h-1zM202,870h1v1h-1zM221,870h1v1h-1zM238,870h1v1h-1zM257,870h1v1h-1zM275,870h1v1h-1zM292,870h2v1h-2zM311,870h1v1h-1zM329,870h1v1h-1zM347,870h1v1h-1zM365,870h1v1h-1zM383,870h1v1h-1zM400,870h1v1h-1zM417,870h1v1h-1zM437,870h1v1h-1zM454,870h1v1h-1zM473,870h1v1h-1zM490,870h1v1h-1zM510,870h1v1h-1zM527,870h1v1h-1zM545,870h1v1h-1zM563,870h1v1h-1zM581,870h1v1h-1zM600,870h1v1h-1zM618,870h1v1h-1zM637,870h1v1h-1zM655,870h1v1h-1zM673,870h1v1h-1zM128,871h1v1h-1zM149,871h1v1h-1zM165,871h2v1h-2zM185,871h1v1h-1zM202,871h1v1h-1zM221,871h1v1h-1zM238,871h1v1h-1zM257,871h1v1h-1zM275,871h1v1h-1zM293,871h1v1h-1zM311,871h1v1h-1zM329,871h1v1h-1zM347,871h1v1h-1zM365,871h1v1h-1zM383,871h1v1h-1zM400,871h2v1h-2zM417,871h1v1h-1zM437,871h1v1h-1zM453,871h1v1h-1zM473,871h1v1h-1zM490,871h1v1h-1zM510,871h1v1h-1zM527,871h1v1h-1zM545,871h1v1h-1zM563,871h1v1h-1zM581,871h1v1h-1zM600,871h1v1h-1zM618,871h1v1h-1zM637,871h1v1h-1zM655,871h1v1h-1zM673,871h1v1h-1zM128,872h1v1h-1zM149,872h2v1h-2zM165,872h1v1h-1zM185,872h1v1h-1zM202,872h1v1h-1zM221,872h1v1h-1zM238,872h1v1h-1zM257,872h1v1h-1zM274,872h1v1h-1zM293,872h1v1h-1zM311,872h1v1h-1zM329,872h1v1h-1zM347,872h1v1h-1zM365,872h1v1h-1zM382,872h1v1h-1zM401,872h1v1h-1zM416,872h2v1h-2zM437,872h1v1h-1zM453,872h1v1h-1zM473,872h1v1h-1zM489,872h1v1h-1zM510,872h1v1h-1zM527,872h1v1h-1zM545,872h1v1h-1zM563,872h1v1h-1zM581,872h1v1h-1zM600,872h1v1h-1zM618,872h1v1h-1zM637,872h1v1h-1zM655,872h1v1h-1zM673,872h1v1h-1zM128,873h1v1h-1zM150,873h1v1h-1zM165,873h1v1h-1zM186,873h1v1h-1zM201,873h2v1h-2zM222,873h1v1h-1zM238,873h1v1h-1zM258,873h1v1h-1zM274,873h1v1h-1zM293,873h1v1h-1zM311,873h1v1h-1zM329,873h1v1h-1zM347,873h1v1h-1zM365,873h1v1h-1zM382,873h1v1h-1zM401,873h1v1h-1zM416,873h1v1h-1zM437,873h1v1h-1zM453,873h1v1h-1zM473,873h2v1h-2zM489,873h1v1h-1zM510,873h1v1h-1zM526,873h1v1h-1zM546,873h1v1h-1zM563,873h1v1h-1zM582,873h1v1h-1zM600,873h1v1h-1zM618,873h1v1h-1zM636,873h1v1h-1zM655,873h2v1h-2zM673,873h1v1h-1zM128,874h1v1h-1zM150,874h2v1h-2zM165,874h1v1h-1zM186,874h1v1h-1zM201,874h1v1h-1zM222,874h1v1h-1zM237,874h1v1h-1zM258,874h1v1h-1zM274,874h1v1h-1zM293,874h1v1h-1zM311,874h1v1h-1zM329,874h1v1h-1zM347,874h1v1h-1zM365,874h1v1h-1zM382,874h1v1h-1zM401,874h1v1h-1zM416,874h1v1h-1zM437,874h1v1h-1zM452,874h1v1h-1zM474,874h1v1h-1zM489,874h1v1h-1zM510,874h1v1h-1zM526,874h1v1h-1zM546,874h1v1h-1zM563,874h1v1h-1zM582,874h1v1h-1zM600,874h1v1h-1zM618,874h2v1h-2zM636,874h1v1h-1zM656,874h1v1h-1zM673,874h1v1h-1zM128,875h1v1h-1zM151,875h1v1h-1zM165,875h1v1h-1zM186,875h1v1h-1zM201,875h1v1h-1zM222,875h1v1h-1zM237,875h1v1h-1zM258,875h1v1h-1zM274,875h1v1h-1zM294,875h1v1h-1zM310,875h1v1h-1zM329,875h1v1h-1zM346,875h1v1h-1zM365,875h2v1h-2zM381,875h1v1h-1zM401,875h1v1h-1zM415,875h1v1h-1zM438,875h1v1h-1zM452,875h1v1h-1zM474,875h1v1h-1zM488,875h2v1h-2zM510,875h1v1h-1zM526,875h1v1h-1zM546,875h1v1h-1zM562,875h2v1h-2zM582,875h1v1h-1zM599,875h2v1h-2zM619,875h1v1h-1zM636,875h1v1h-1zM656,875h1v1h-1zM673,875h1v1h-1zM128,876h1v1h-1zM152,876h1v1h-1zM165,876h1v1h-1zM186,876h2v1h-2zM201,876h1v1h-1zM222,876h1v1h-1zM237,876h1v1h-1zM259,876h1v1h-1zM273,876h2v1h-2zM294,876h1v1h-1zM310,876h1v1h-1zM330,876h1v1h-1zM346,876h1v1h-1zM366,876h1v1h-1zM381,876h1v1h-1zM401,876h1v1h-1zM415,876h1v1h-1zM438,876h1v1h-1zM452,876h1v1h-1zM474,876h1v1h-1zM488,876h1v1h-1zM510,876h1v1h-1zM526,876h1v1h-1zM546,876h1v1h-1zM562,876h1v1h-1zM582,876h1v1h-1zM599,876h1v1h-1zM619,876h1v1h-1zM636,876h1v1h-1zM657,876h1v1h-1zM672,876h2v1h-2zM128,877h1v1h-1zM152,877h1v1h-1zM165,877h1v1h-1zM187,877h1v1h-1zM201,877h1v1h-1zM222,877h2v1h-2zM237,877h1v1h-1zM259,877h1v1h-1zM273,877h1v1h-1zM294,877h1v1h-1zM310,877h1v1h-1zM330,877h1v1h-1zM343,877h3v1h-3zM366,877h1v1h-1zM380,877h1v1h-1zM401,877h1v1h-1zM414,877h2v1h-2zM438,877h1v1h-1zM451,877h1v1h-1zM474,877h1v1h-1zM488,877h1v1h-1zM511,877h1v1h-1zM526,877h1v1h-1zM547,877h1v1h-1zM562,877h1v1h-1zM582,877h1v1h-1zM599,877h1v1h-1zM620,877h2v1h-2zM636,877h1v1h-1zM657,877h2v1h-2zM672,877h1v1h-1zM128,878h1v1h-1zM153,878h1v1h-1zM165,878h1v1h-1zM187,878h1v1h-1zM201,878h1v1h-1zM223,878h1v1h-1zM237,878h1v1h-1zM259,878h1v1h-1zM273,878h1v1h-1zM294,878h1v1h-1zM310,878h1v1h-1zM330,878h1v1h-1zM342,878h2v1h-2zM366,878h1v1h-1zM379,878h1v1h-1zM401,878h1v1h-1zM414,878h1v1h-1zM438,878h1v1h-1zM451,878h1v1h-1zM474,878h1v1h-1zM487,878h1v1h-1zM511,878h1v1h-1zM525,878h1v1h-1zM547,878h1v1h-1zM562,878h1v1h-1zM583,878h1v1h-1zM599,878h1v1h-1zM621,878h2v1h-2zM636,878h1v1h-1zM658,878h3v1h-3zM672,878h1v1h-1zM128,879h1v1h-1zM153,879h1v1h-1zM164,879h1v1h-1zM187,879h1v1h-1zM200,879h2v1h-2zM223,879h1v1h-1zM236,879h1v1h-1zM260,879h1v1h-1zM273,879h1v1h-1zM294,879h1v1h-1zM306,879h4v1h-4zM330,879h1v1h-1zM341,879h1v1h-1zM366,879h1v1h-1zM378,879h1v1h-1zM401,879h2v1h-2zM414,879h1v1h-1zM438,879h1v1h-1zM450,879h2v1h-2zM474,879h1v1h-1zM487,879h1v1h-1zM511,879h1v1h-1zM525,879h1v1h-1zM548,879h1v1h-1zM562,879h1v1h-1zM583,879h4v1h-4zM599,879h1v1h-1zM623,879h1v1h-1zM636,879h1v1h-1zM660,879h1v1h-1zM672,879h1v1h-1zM153,880h2v1h-2zM164,880h1v1h-1zM188,880h1v1h-1zM200,880h1v1h-1zM223,880h1v1h-1zM236,880h1v1h-1zM260,880h1v1h-1zM272,880h1v1h-1zM295,880h1v1h-1zM305,880h2v1h-2zM330,880h1v1h-1zM340,880h1v1h-1zM366,880h1v1h-1zM377,880h1v1h-1zM402,880h1v1h-1zM413,880h1v1h-1zM438,880h1v1h-1zM450,880h1v1h-1zM474,880h2v1h-2zM487,880h1v1h-1zM511,880h1v1h-1zM525,880h1v1h-1zM548,880h2v1h-2zM562,880h1v1h-1zM586,880h2v1h-2zM599,880h1v1h-1zM624,880h1v1h-1zM635,880h1v1h-1zM661,880h1v1h-1zM672,880h1v1h-1zM154,881h1v1h-1zM164,881h1v1h-1zM188,881h1v1h-1zM200,881h1v1h-1zM223,881h2v1h-2zM236,881h1v1h-1zM260,881h1v1h-1zM271,881h1v1h-1zM295,881h1v1h-1zM304,881h1v1h-1zM331,881h1v1h-1zM340,881h1v1h-1zM367,881h1v1h-1zM377,881h1v1h-1zM402,881h1v1h-1zM413,881h1v1h-1zM439,881h1v1h-1zM450,881h1v1h-1zM475,881h1v1h-1zM486,881h1v1h-1zM511,881h1v1h-1zM525,881h1v1h-1zM550,881h2v1h-2zM561,881h1v1h-1zM587,881h2v1h-2zM598,881h1v1h-1zM624,881h1v1h-1zM635,881h1v1h-1zM661,881h2v1h-2zM672,881h1v1h-1zM154,882h1v1h-1zM164,882h1v1h-1zM188,882h2v1h-2zM200,882h1v1h-1zM224,882h1v1h-1zM235,882h2v1h-2zM260,882h1v1h-1zM270,882h1v1h-1zM295,882h1v1h-1zM304,882h1v1h-1zM331,882h1v1h-1zM339,882h2v1h-2zM367,882h1v1h-1zM376,882h2v1h-2zM402,882h1v1h-1zM413,882h1v1h-1zM439,882h1v1h-1zM450,882h1v1h-1zM475,882h1v1h-1zM486,882h1v1h-1zM511,882h1v1h-1zM524,882h1v1h-1zM551,882h1v1h-1zM561,882h1v1h-1zM588,882h1v1h-1zM598,882h1v1h-1zM625,882h1v1h-1zM635,882h1v1h-1zM662,882h1v1h-1zM671,882h2v1h-2zM154,883h1v1h-1zM164,883h1v1h-1zM189,883h1v1h-1zM200,883h1v1h-1zM224,883h1v1h-1zM235,883h1v1h-1zM260,883h2v1h-2zM269,883h1v1h-1zM295,883h2v1h-2zM304,883h1v1h-1zM331,883h1v1h-1zM339,883h1v1h-1zM367,883h1v1h-1zM376,883h1v1h-1zM402,883h1v1h-1zM412,883h1v1h-1zM439,883h1v1h-1zM449,883h1v1h-1zM475,883h1v1h-1zM486,883h1v1h-1zM512,883h1v1h-1zM524,883h1v1h-1zM552,883h1v1h-1zM561,883h1v1h-1zM589,883h1v1h-1zM598,883h1v1h-1zM625,883h1v1h-1zM635,883h1v1h-1zM662,883h2v1h-2zM671,883h1v1h-1zM155,884h1v1h-1zM164,884h1v1h-1zM189,884h1v1h-1zM199,884h2v1h-2zM224,884h1v1h-1zM235,884h1v1h-1zM261,884h1v1h-1zM268,884h2v1h-2zM296,884h1v1h-1zM303,884h1v1h-1zM331,884h1v1h-1zM339,884h1v1h-1zM367,884h1v1h-1zM376,884h1v1h-1zM402,884h1v1h-1zM412,884h1v1h-1zM439,884h1v1h-1zM449,884h1v1h-1zM475,884h1v1h-1zM485,884h2v1h-2zM512,884h1v1h-1zM524,884h1v1h-1zM552,884h2v1h-2zM561,884h1v1h-1zM589,884h1v1h-1zM598,884h1v1h-1zM626,884h1v1h-1zM635,884h1v1h-1zM663,884h1v1h-1zM671,884h1v1h-1zM155,885h1v1h-1zM164,885h1v1h-1zM189,885h1v1h-1zM199,885h1v1h-1zM225,885h1v1h-1zM234,885h1v1h-1zM261,885h1v1h-1zM267,885h2v1h-2zM296,885h1v1h-1zM303,885h1v1h-1zM331,885h1v1h-1zM339,885h1v1h-1zM367,885h1v1h-1zM376,885h1v1h-1zM402,885h1v1h-1zM412,885h1v1h-1zM439,885h2v1h-2zM448,885h1v1h-1zM476,885h1v1h-1zM485,885h1v1h-1zM512,885h3v1h-3zM523,885h2v1h-2zM553,885h1v1h-1zM560,885h1v1h-1zM590,885h1v1h-1zM598,885h1v1h-1zM626,885h1v1h-1zM634,885h2v1h-2zM663,885h1v1h-1zM671,885h1v1h-1zM155,886h1v1h-1zM163,886h1v1h-1zM190,886h1v1h-1zM199,886h1v1h-1zM225,886h1v1h-1zM234,886h1v1h-1zM261,886h1v1h-1zM267,886h1v1h-1zM296,886h1v1h-1zM303,886h1v1h-1zM332,886h1v1h-1zM339,886h1v1h-1zM368,886h1v1h-1zM375,886h2v1h-2zM403,886h1v1h-1zM411,886h2v1h-2zM440,886h1v1h-1zM448,886h1v1h-1zM476,886h1v1h-1zM485,886h1v1h-1zM514,886h2v1h-2zM523,886h1v1h-1zM553,886h2v1h-2zM560,886h1v1h-1zM590,886h1v1h-1zM597,886h1v1h-1zM626,886h1v1h-1zM634,886h1v1h-1zM664,886h1v1h-1zM671,886h1v1h-1zM155,887h2v1h-2zM163,887h1v1h-1zM190,887h1v1h-1zM199,887h1v1h-1zM225,887h2v1h-2zM233,887h1v1h-1zM261,887h2v1h-2zM267,887h1v1h-1zM296,887h1v1h-1zM303,887h1v1h-1zM332,887h1v1h-1zM338,887h1v1h-1zM368,887h1v1h-1zM375,887h1v1h-1zM403,887h1v1h-1zM411,887h1v1h-1zM440,887h1v1h-1zM448,887h1v1h-1zM476,887h1v1h-1zM484,887h2v1h-2zM516,887h1v1h-1zM523,887h1v1h-1zM554,887h1v1h-1zM560,887h1v1h-1zM590,887h2v1h-2zM597,887h1v1h-1zM626,887h1v1h-1zM634,887h1v1h-1zM664,887h1v1h-1zM671,887h1v1h-1zM156,888h1v1h-1zM163,888h1v1h-1zM190,888h1v1h-1zM199,888h1v1h-1zM226,888h1v1h-1zM232,888h2v1h-2zM262,888h1v1h-1zM266,888h1v1h-1zM297,888h1v1h-1zM302,888h1v1h-1zM332,888h1v1h-1zM338,888h1v1h-1zM368,888h1v1h-1zM375,888h1v1h-1zM403,888h1v1h-1zM411,888h1v1h-1zM440,888h1v1h-1zM447,888h1v1h-1zM476,888h2v1h-2zM484,888h1v1h-1zM517,888h1v1h-1zM522,888h1v1h-1zM554,888h1v1h-1zM560,888h1v1h-1zM591,888h1v1h-1zM597,888h1v1h-1zM627,888h1v1h-1zM634,888h1v1h-1zM664,888h1v1h-1zM670,888h1v1h-1zM156,889h1v1h-1zM163,889h1v1h-1zM191,889h1v1h-1zM198,889h1v1h-1zM226,889h1v1h-1zM232,889h1v1h-1zM262,889h1v1h-1zM266,889h1v1h-1zM297,889h1v1h-1zM302,889h1v1h-1zM332,889h1v1h-1zM338,889h1v1h-1zM368,889h1v1h-1zM375,889h1v1h-1zM403,889h1v1h-1zM410,889h1v1h-1zM440,889h2v1h-2zM447,889h1v1h-1zM477,889h1v1h-1zM484,889h1v1h-1zM517,889h1v1h-1zM522,889h1v1h-1zM555,889h1v1h-1zM559,889h2v1h-2zM591,889h1v1h-1zM597,889h1v1h-1zM627,889h1v1h-1zM633,889h2v1h-2zM665,889h1v1h-1zM670,889h1v1h-1zM156,890h2v1h-2zM163,890h1v1h-1zM191,890h1v1h-1zM198,890h1v1h-1zM227,890h1v1h-1zM231,890h1v1h-1zM262,890h1v1h-1zM266,890h1v1h-1zM297,890h1v1h-1zM302,890h1v1h-1zM333,890h1v1h-1zM338,890h1v1h-1zM368,890h1v1h-1zM374,890h1v1h-1zM403,890h1v1h-1zM410,890h1v1h-1zM441,890h1v1h-1zM447,890h1v1h-1zM477,890h1v1h-1zM483,890h1v1h-1zM518,890h1v1h-1zM521,890h1v1h-1zM555,890h1v1h-1zM559,890h1v1h-1zM592,890h1v1h-1zM596,890h2v1h-2zM627,890h2v1h-2zM633,890h1v1h-1zM665,890h1v1h-1zM670,890h1v1h-1zM157,891h1v1h-1zM162,891h1v1h-1zM191,891h1v1h-1zM198,891h1v1h-1zM227,891h1v1h-1zM231,891h1v1h-1zM263,891h1v1h-1zM266,891h1v1h-1zM297,891h1v1h-1zM301,891h1v1h-1zM333,891h1v1h-1zM338,891h1v1h-1zM369,891h1v1h-1zM374,891h1v1h-1zM404,891h1v1h-1zM410,891h1v1h-1zM441,891h1v1h-1zM446,891h1v1h-1zM478,891h1v1h-1zM480,891h3v1h-3zM518,891h4v1h-4zM555,891h1v1h-1zM559,891h1v1h-1zM592,891h1v1h-1zM596,891h1v1h-1zM628,891h1v1h-1zM633,891h1v1h-1zM665,891h1v1h-1zM670,891h1v1h-1zM157,892h1v1h-1zM162,892h1v1h-1zM192,892h1v1h-1zM198,892h1v1h-1zM228,892h1v1h-1zM230,892h1v1h-1zM263,892h1v1h-1zM265,892h1v1h-1zM297,892h1v1h-1zM301,892h1v1h-1zM333,892h1v1h-1zM338,892h1v1h-1zM369,892h1v1h-1zM374,892h1v1h-1zM404,892h1v1h-1zM410,892h1v1h-1zM441,892h1v1h-1zM446,892h1v1h-1zM479,892h2v1h-2zM520,892h1v1h-1zM556,892h1v1h-1zM558,892h1v1h-1zM592,892h1v1h-1zM596,892h1v1h-1zM628,892h1v1h-1zM633,892h1v1h-1zM665,892h2v1h-2zM669,892h1v1h-1zM157,893h1v1h-1zM162,893h1v1h-1zM192,893h1v1h-1zM196,893h2v1h-2zM228,893h3v1h-3zM263,893h1v1h-1zM265,893h1v1h-1zM298,893h1v1h-1zM301,893h1v1h-1zM333,893h1v1h-1zM338,893h1v1h-1zM369,893h1v1h-1zM374,893h1v1h-1zM404,893h1v1h-1zM409,893h1v1h-1zM442,893h1v1h-1zM445,893h1v1h-1zM556,893h3v1h-3zM593,893h1v1h-1zM595,893h2v1h-2zM628,893h1v1h-1zM632,893h1v1h-1zM666,893h1v1h-1zM669,893h1v1h-1zM158,894h1v1h-1zM162,894h1v1h-1zM193,894h1v1h-1zM195,894h2v1h-2zM228,894h2v1h-2zM263,894h3v1h-3zM298,894h1v1h-1zM300,894h1v1h-1zM334,894h1v1h-1zM337,894h1v1h-1zM369,894h1v1h-1zM373,894h1v1h-1zM405,894h1v1h-1zM409,894h1v1h-1zM442,894h1v1h-1zM445,894h1v1h-1zM593,894h1v1h-1zM595,894h1v1h-1zM629,894h1v1h-1zM632,894h1v1h-1zM666,894h1v1h-1zM669,894h1v1h-1zM158,895h1v1h-1zM161,895h1v1h-1zM194,895h2v1h-2zM264,895h1v1h-1zM298,895h3v1h-3zM334,895h1v1h-1zM337,895h1v1h-1zM370,895h1v1h-1zM373,895h1v1h-1zM405,895h1v1h-1zM409,895h1v1h-1zM442,895h4v1h-4zM593,895h3v1h-3zM629,895h1v1h-1zM632,895h1v1h-1zM666,895h1v1h-1zM668,895h1v1h-1zM158,896h2v1h-2zM161,896h1v1h-1zM299,896h1v1h-1zM334,896h2v1h-2zM337,896h1v1h-1zM370,896h1v1h-1zM373,896h1v1h-1zM405,896h1v1h-1zM408,896h2v1h-2zM443,896h2v1h-2zM594,896h1v1h-1zM629,896h3v1h-3zM666,896h1v1h-1zM668,896h1v1h-1zM159,897h3v1h-3zM335,897h3v1h-3zM370,897h1v1h-1zM372,897h1v1h-1zM406,897h1v1h-1zM408,897h1v1h-1zM630,897h2v1h-2zM666,897h1v1h-1zM668,897h1v1h-1zM159,898h2v1h-2zM335,898h2v1h-2zM370,898h3v1h-3zM406,898h3v1h-3zM667,898h1v1h-1zM371,899h1v1h-1z" fill="#ff0000"/>
<path d="M370,836h3v1h-3zM406,836h1v1h-1zM666,836h2v1h-2zM158,837h3v1h-3zM334,837h2v1h-2zM369,837h1v1h-1zM372,837h1v1h-1zM405,837h1v1h-1zM407,837h1v1h-1zM630,837h2v1h-2zM666,837h3v1h-3zM135,838h3v1h-3zM157,838h2v1h-2zM161,838h1v1h-1zM172,838h3v1h-3zM298,838h3v1h-3zM333,838h2v1h-2zM336,838h1v1h-1zM369,838h1v1h-1zM373,838h1v1h-1zM405,838h1v1h-1zM408,838h1v1h-1zM428,838h4v1h-4zM442,838h2v1h-2zM464,838h4v1h-4zM593,838h2v1h-2zM629,838h1v1h-1zM631,838h1v1h-1zM665,838h1v1h-1zM668,838h1v1h-1zM134,839h1v1h-1zM137,839h3v1h-3zM157,839h1v1h-1zM162,839h1v1h-1zM171,839h1v1h-1zM174,839h3v1h-3zM208,839h3v1h-3zM212,839h3v1h-3zM263,839h2v1h-2zM284,839h2v1h-2zM298,839h1v1h-1zM300,839h2v1h-2zM320,839h2v1h-2zM333,839h1v1h-1zM336,839h2v1h-2zM355,839h3v1h-3zM368,839h1v1h-1zM373,839h1v1h-1zM392,839h3v1h-3zM404,839h1v1h-1zM408,839h2v1h-2zM426,839h3v1h-3zM431,839h2v1h-2zM441,839h2v1h-2zM444,839h1v1h-1zM461,839h3v1h-3zM468,839h1v1h-1zM498,839h6v1h-6zM536,839h3v1h-3zM572,839h3v1h-3zM593,839h3v1h-3zM609,839h3v1h-3zM629,839h1v1h-1zM632,839h1v1h-1zM644,839h3v1h-3zM664,839h1v1h-1zM669,839h1v1h-1zM680,839h4v1h-4zM133,840h1v1h-1zM139,840h4v1h-4zM156,840h1v1h-1zM162,840h1v1h-1zM170,840h1v1h-1zM176,840h2v1h-2zM192,840h5v1h-5zM207,840h1v1h-1zM211,840h1v1h-1zM215,840h1v1h-1zM228,840h3v1h-3zM244,840h6v1h-6zM262,840h1v1h-1zM264,840h1v1h-1zM282,840h2v1h-2zM286,840h1v1h-1zM297,840h1v1h-1zM301,840h1v1h-1zM319,840h1v1h-1zM322,840h1v1h-1zM333,840h1v1h-1zM337,840h1v1h-1zM354,840h2v1h-2zM357,840h2v1h-2zM368,840h1v1h-1zM374,840h1v1h-1zM390,840h2v1h-2zM394,840h2v1h-2zM403,840h1v1h-1zM409,840h1v1h-1zM425,840h2v1h-2zM432,840h1v1h-1zM440,840h2v1h-2zM444,840h2v1h-2zM461,840h1v1h-1zM468,840h2v1h-2zM497,840h1v1h-1zM504,840h1v1h-1zM535,840h1v1h-1zM539,840h1v1h-1zM556,840h3v1h-3zM571,840h2v1h-2zM575,840h1v1h-1zM592,840h1v1h-1zM595,840h1v1h-1zM608,840h1v1h-1zM611,840h1v1h-1zM628,840h2v1h-2zM632,840h1v1h-1zM643,840h2v1h-2zM646,840h2v1h-2zM664,840h1v1h-1zM669,840h1v1h-1zM679,840h1v1h-1zM684,840h1v1h-1zM132,841h1v1h-1zM142,841h1v1h-1zM156,841h1v1h-1zM163,841h1v1h-1zM170,841h1v1h-1zM177,841h2v1h-2zM191,841h1v1h-1zM197,841h1v1h-1zM206,841h1v1h-1zM215,841h1v1h-1zM227,841h1v1h-1zM231,841h1v1h-1zM244,841h1v1h-1zM250,841h1v1h-1zM261,841h2v1h-2zM265,841h1v1h-1zM281,841h1v1h-1zM286,841h1v1h-1zM297,841h1v1h-1zM302,841h1v1h-1zM318,841h1v1h-1zM323,841h1v1h-1zM332,841h1v1h-1zM338,841h1v1h-1zM354,841h1v1h-1zM358,841h1v1h-1zM368,841h1v1h-1zM374,841h1v1h-1zM390,841h1v1h-1zM395,841h1v1h-1zM403,841h1v1h-1zM409,841h1v1h-1zM424,841h2v1h-2zM433,841h1v1h-1zM440,841h1v1h-1zM445,841h1v1h-1zM460,841h1v1h-1zM469,841h1v1h-1zM496,841h1v1h-1zM505,841h1v1h-1zM534,841h1v1h-1zM540,841h1v1h-1zM555,841h1v1h-1zM558,841h1v1h-1zM571,841h1v1h-1zM576,841h1v1h-1zM592,841h1v1h-1zM596,841h1v1h-1zM607,841h1v1h-1zM612,841h1v1h-1zM628,841h1v1h-1zM633,841h1v1h-1zM643,841h1v1h-1zM647,841h2v1h-2zM663,841h2v1h-2zM670,841h1v1h-1zM678,841h1v1h-1zM684,841h2v1h-2zM132,842h1v1h-1zM143,842h1v1h-1zM155,842h2v1h-2zM163,842h1v1h-1zM169,842h1v1h-1zM178,842h2v1h-2zM190,842h2v1h-2zM198,842h1v1h-1zM205,842h1v1h-1zM216,842h1v1h-1zM226,842h2v1h-2zM231,842h1v1h-1zM243,842h1v1h-1zM251,842h1v1h-1zM261,842h1v1h-1zM265,842h1v1h-1zM280,842h1v1h-1zM287,842h1v1h-1zM296,842h1v1h-1zM302,842h1v1h-1zM317,842h1v1h-1zM323,842h1v1h-1zM332,842h1v1h-1zM338,842h1v1h-1zM353,842h1v1h-1zM359,842h1v1h-1zM367,842h1v1h-1zM374,842h1v1h-1zM389,842h1v1h-1zM396,842h1v1h-1zM403,842h1v1h-1zM410,842h1v1h-1zM424,842h1v1h-1zM433,842h1v1h-1zM439,842h1v1h-1zM446,842h1v1h-1zM459,842h2v1h-2zM469,842h1v1h-1zM479,842h5v1h-5zM496,842h1v1h-1zM505,842h1v1h-1zM519,842h3v1h-3zM533,842h2v1h-2zM540,842h2v1h-2zM555,842h1v1h-1zM559,842h1v1h-1zM570,842h1v1h-1zM576,842h2v1h-2zM592,842h1v1h-1zM596,842h2v1h-2zM607,842h1v1h-1zM612,842h2v1h-2zM628,842h1v1h-1zM633,842h1v1h-1zM642,842h1v1h-1zM648,842h2v1h-2zM663,842h1v1h-1zM670,842h1v1h-1zM678,842h1v1h-1zM685,842h2v1h-2zM131,843h1v1h-1zM143,843h2v1h-2zM155,843h1v1h-1zM164,843h1v1h-1zM169,843h1v1h-1zM179,843h2v1h-2zM190,843h1v1h-1zM199,843h1v1h-1zM204,843h2v1h-2zM216,843h1v1h-1zM226,843h1v1h-1zM232,843h1v1h-1zM242,843h1v1h-1zM251,843h1v1h-1zM261,843h1v1h-1zM266,843h1v1h-1zM278,843h2v1h-2zM287,843h2v1h-2zM296,843h1v1h-1zM303,843h1v1h-1zM316,843h2v1h-2zM324,843h1v1h-1zM332,843h1v1h-1zM338,843h1v1h-1zM352,843h1v1h-1zM359,843h1v1h-1zM367,843h1v1h-1zM375,843h1v1h-1zM388,843h1v1h-1zM397,843h1v1h-1zM402,843h1v1h-1zM410,843h1v1h-1zM423,843h1v1h-1zM434,843h1v1h-1zM438,843h1v1h-1zM446,843h2v1h-2zM459,843h1v1h-1zM470,843h1v1h-1zM476,843h3v1h-3zM484,843h1v1h-1zM495,843h2v1h-2zM506,843h1v1h-1zM519,843h1v1h-1zM521,843h2v1h-2zM533,843h1v1h-1zM541,843h1v1h-1zM554,843h2v1h-2zM559,843h2v1h-2zM569,843h1v1h-1zM577,843h1v1h-1zM591,843h1v1h-1zM597,843h1v1h-1zM606,843h1v1h-1zM613,843h1v1h-1zM627,843h1v1h-1zM634,843h1v1h-1zM642,843h1v1h-1zM649,843h1v1h-1zM663,843h1v1h-1zM671,843h1v1h-1zM677,843h1v1h-1zM686,843h1v1h-1zM131,844h1v1h-1zM144,844h1v1h-1zM155,844h1v1h-1zM164,844h1v1h-1zM168,844h1v1h-1zM180,844h1v1h-1zM190,844h1v1h-1zM199,844h2v1h-2zM204,844h1v1h-1zM216,844h2v1h-2zM225,844h1v1h-1zM233,844h1v1h-1zM242,844h1v1h-1zM252,844h1v1h-1zM260,844h1v1h-1zM266,844h1v1h-1zM277,844h2v1h-2zM288,844h1v1h-1zM295,844h1v1h-1zM303,844h1v1h-1zM315,844h2v1h-2zM324,844h1v1h-1zM331,844h1v1h-1zM338,844h1v1h-1zM352,844h1v1h-1zM360,844h1v1h-1zM367,844h1v1h-1zM375,844h1v1h-1zM387,844h2v1h-2zM397,844h1v1h-1zM402,844h1v1h-1zM411,844h1v1h-1zM423,844h1v1h-1zM434,844h1v1h-1zM438,844h1v1h-1zM447,844h1v1h-1zM459,844h1v1h-1zM470,844h2v1h-2zM475,844h2v1h-2zM484,844h2v1h-2zM495,844h1v1h-1zM506,844h1v1h-1zM518,844h1v1h-1zM522,844h1v1h-1zM533,844h1v1h-1zM541,844h2v1h-2zM554,844h1v1h-1zM560,844h1v1h-1zM569,844h1v1h-1zM578,844h1v1h-1zM591,844h1v1h-1zM597,844h1v1h-1zM605,844h2v1h-2zM614,844h1v1h-1zM627,844h1v1h-1zM634,844h1v1h-1zM641,844h1v1h-1zM650,844h1v1h-1zM662,844h1v1h-1zM671,844h1v1h-1zM677,844h1v1h-1zM130,845h1v1h-1zM144,845h1v1h-1zM154,845h1v1h-1zM164,845h1v1h-1zM168,845h1v1h-1zM180,845h1v1h-1zM189,845h2v1h-2zM200,845h1v1h-1zM204,845h1v1h-1zM217,845h1v1h-1zM225,845h1v1h-1zM233,845h1v1h-1zM241,845h1v1h-1zM252,845h1v1h-1zM259,845h1v1h-1zM266,845h1v1h-1zM277,845h1v1h-1zM288,845h1v1h-1zM295,845h1v1h-1zM303,845h1v1h-1zM315,845h1v1h-1zM324,845h1v1h-1zM331,845h1v1h-1zM339,845h1v1h-1zM351,845h1v1h-1zM361,845h1v1h-1zM366,845h2v1h-2zM375,845h1v1h-1zM387,845h1v1h-1zM398,845h1v1h-1zM402,845h1v1h-1zM411,845h1v1h-1zM422,845h1v1h-1zM435,845h1v1h-1zM438,845h1v1h-1zM448,845h1v1h-1zM459,845h1v1h-1zM471,845h1v1h-1zM475,845h1v1h-1zM485,845h1v1h-1zM495,845h1v1h-1zM507,845h1v1h-1zM517,845h1v1h-1zM523,845h1v1h-1zM532,845h1v1h-1zM542,845h1v1h-1zM554,845h1v1h-1zM560,845h1v1h-1zM568,845h1v1h-1zM578,845h1v1h-1zM591,845h1v1h-1zM598,845h1v1h-1zM605,845h1v1h-1zM614,845h1v1h-1zM626,845h2v1h-2zM634,845h1v1h-1zM641,845h1v1h-1zM650,845h1v1h-1zM662,845h1v1h-1zM672,845h1v1h-1zM676,845h1v1h-1zM130,846h1v1h-1zM144,846h2v1h-2zM154,846h1v1h-1zM165,846h1v1h-1zM167,846h1v1h-1zM180,846h2v1h-2zM189,846h1v1h-1zM200,846h1v1h-1zM203,846h1v1h-1zM218,846h1v1h-1zM224,846h1v1h-1zM234,846h1v1h-1zM241,846h1v1h-1zM252,846h1v1h-1zM259,846h1v1h-1zM267,846h1v1h-1zM276,846h2v1h-2zM289,846h1v1h-1zM294,846h1v1h-1zM304,846h1v1h-1zM314,846h2v1h-2zM324,846h2v1h-2zM330,846h1v1h-1zM339,846h1v1h-1zM351,846h1v1h-1zM361,846h1v1h-1zM366,846h1v1h-1zM375,846h1v1h-1zM386,846h2v1h-2zM398,846h1v1h-1zM401,846h1v1h-1zM412,846h1v1h-1zM422,846h1v1h-1zM435,846h1v1h-1zM437,846h2v1h-2zM448,846h1v1h-1zM458,846h1v1h-1zM471,846h1v1h-1zM474,846h1v1h-1zM485,846h2v1h-2zM494,846h1v1h-1zM507,846h1v1h-1zM516,846h2v1h-2zM523,846h2v1h-2zM532,846h1v1h-1zM542,846h1v1h-1zM553,846h1v1h-1zM561,846h1v1h-1zM567,846h2v1h-2zM578,846h1v1h-1zM591,846h1v1h-1zM598,846h1v1h-1zM604,846h2v1h-2zM614,846h1v1h-1zM626,846h1v1h-1zM635,846h1v1h-1zM640,846h1v1h-1zM651,846h1v1h-1zM662,846h1v1h-1zM672,846h1v1h-1zM676,846h1v1h-1zM129,847h1v1h-1zM145,847h1v1h-1zM154,847h1v1h-1zM165,847h3v1h-3zM181,847h1v1h-1zM189,847h1v1h-1zM201,847h1v1h-1zM203,847h1v1h-1zM218,847h1v1h-1zM224,847h1v1h-1zM234,847h1v1h-1zM240,847h1v1h-1zM253,847h1v1h-1zM259,847h1v1h-1zM267,847h1v1h-1zM276,847h1v1h-1zM289,847h1v1h-1zM294,847h1v1h-1zM304,847h1v1h-1zM314,847h1v1h-1zM325,847h1v1h-1zM330,847h1v1h-1zM339,847h1v1h-1zM350,847h1v1h-1zM361,847h2v1h-2zM366,847h1v1h-1zM375,847h1v1h-1zM386,847h1v1h-1zM398,847h2v1h-2zM401,847h1v1h-1zM412,847h1v1h-1zM421,847h1v1h-1zM435,847h3v1h-3zM448,847h1v1h-1zM458,847h1v1h-1zM472,847h2v1h-2zM486,847h1v1h-1zM494,847h1v1h-1zM508,847h1v1h-1zM514,847h3v1h-3zM524,847h1v1h-1zM531,847h1v1h-1zM543,847h1v1h-1zM553,847h1v1h-1zM561,847h1v1h-1zM567,847h1v1h-1zM579,847h1v1h-1zM590,847h1v1h-1zM598,847h1v1h-1zM604,847h1v1h-1zM615,847h1v1h-1zM626,847h1v1h-1zM635,847h1v1h-1zM640,847h1v1h-1zM651,847h1v1h-1zM661,847h1v1h-1zM672,847h1v1h-1zM675,847h1v1h-1zM128,848h1v1h-1zM145,848h1v1h-1zM154,848h1v1h-1zM166,848h1v1h-1zM181,848h1v1h-1zM188,848h2v1h-2zM202,848h2v1h-2zM218,848h1v1h-1zM223,848h1v1h-1zM235,848h1v1h-1zM240,848h1v1h-1zM253,848h1v1h-1zM258,848h1v1h-1zM268,848h1v1h-1zM276,848h1v1h-1zM289,848h1v1h-1zM294,848h1v1h-1zM304,848h1v1h-1zM314,848h1v1h-1zM325,848h1v1h-1zM330,848h1v1h-1zM340,848h1v1h-1zM350,848h1v1h-1zM362,848h1v1h-1zM365,848h1v1h-1zM376,848h1v1h-1zM386,848h1v1h-1zM399,848h1v1h-1zM401,848h1v1h-1zM412,848h1v1h-1zM421,848h1v1h-1zM436,848h2v1h-2zM449,848h1v1h-1zM458,848h1v1h-1zM472,848h1v1h-1zM486,848h1v1h-1zM494,848h1v1h-1zM508,848h1v1h-1zM513,848h2v1h-2zM524,848h2v1h-2zM531,848h1v1h-1zM543,848h1v1h-1zM553,848h1v1h-1zM562,848h1v1h-1zM567,848h1v1h-1zM579,848h1v1h-1zM590,848h1v1h-1zM599,848h1v1h-1zM604,848h1v1h-1zM615,848h1v1h-1zM626,848h1v1h-1zM636,848h1v1h-1zM640,848h1v1h-1zM651,848h2v1h-2zM661,848h1v1h-1zM673,848h1v1h-1zM675,848h1v1h-1zM128,849h1v1h-1zM146,849h1v1h-1zM153,849h2v1h-2zM182,849h1v1h-1zM188,849h1v1h-1zM219,849h1v1h-1zM223,849h1v1h-1zM236,849h1v1h-1zM240,849h1v1h-1zM253,849h2v1h-2zM258,849h1v1h-1zM269,849h1v1h-1zM275,849h1v1h-1zM290,849h1v1h-1zM293,849h1v1h-1zM304,849h1v1h-1zM313,849h2v1h-2zM326,849h1v1h-1zM329,849h1v1h-1zM340,849h1v1h-1zM349,849h1v1h-1zM363,849h1v1h-1zM365,849h1v1h-1zM376,849h1v1h-1zM385,849h1v1h-1zM399,849h2v1h-2zM413,849h1v1h-1zM421,849h1v1h-1zM449,849h1v1h-1zM457,849h1v1h-1zM487,849h1v1h-1zM493,849h1v1h-1zM509,849h1v1h-1zM512,849h1v1h-1zM525,849h1v1h-1zM531,849h1v1h-1zM544,849h1v1h-1zM552,849h1v1h-1zM562,849h1v1h-1zM566,849h1v1h-1zM580,849h1v1h-1zM589,849h2v1h-2zM599,849h1v1h-1zM603,849h1v1h-1zM615,849h2v1h-2zM625,849h1v1h-1zM636,849h1v1h-1zM639,849h1v1h-1zM652,849h1v1h-1zM661,849h1v1h-1zM673,849h2v1h-2zM146,850h1v1h-1zM153,850h1v1h-1zM182,850h1v1h-1zM188,850h1v1h-1zM219,850h1v1h-1zM222,850h1v1h-1zM236,850h2v1h-2zM239,850h1v1h-1zM254,850h1v1h-1zM257,850h2v1h-2zM269,850h2v1h-2zM275,850h1v1h-1zM290,850h1v1h-1zM293,850h1v1h-1zM305,850h1v1h-1zM313,850h1v1h-1zM326,850h4v1h-4zM340,850h1v1h-1zM349,850h1v1h-1zM363,850h2v1h-2zM376,850h1v1h-1zM385,850h1v1h-1zM413,850h1v1h-1zM420,850h2v1h-2zM450,850h1v1h-1zM457,850h1v1h-1zM487,850h1v1h-1zM493,850h1v1h-1zM510,850h2v1h-2zM525,850h2v1h-2zM530,850h1v1h-1zM545,850h1v1h-1zM552,850h1v1h-1zM563,850h1v1h-1zM566,850h1v1h-1zM580,850h2v1h-2zM589,850h1v1h-1zM600,850h1v1h-1zM603,850h1v1h-1zM616,850h1v1h-1zM625,850h1v1h-1zM636,850h1v1h-1zM639,850h1v1h-1zM652,850h2v1h-2zM660,850h1v1h-1zM146,851h2v1h-2zM153,851h1v1h-1zM182,851h2v1h-2zM187,851h1v1h-1zM220,851h1v1h-1zM222,851h1v1h-1zM238,851h1v1h-1zM254,851h1v1h-1zM257,851h1v1h-1zM270,851h1v1h-1zM274,851h1v1h-1zM291,851h2v1h-2zM305,851h1v1h-1zM313,851h1v1h-1zM327,851h2v1h-2zM341,851h1v1h-1zM348,851h1v1h-1zM376,851h2v1h-2zM385,851h1v1h-1zM414,851h1v1h-1zM420,851h1v1h-1zM450,851h2v1h-2zM457,851h1v1h-1zM488,851h1v1h-1zM492,851h1v1h-1zM526,851h2v1h-2zM530,851h1v1h-1zM545,851h2v1h-2zM551,851h1v1h-1zM564,851h1v1h-1zM566,851h1v1h-1zM581,851h2v1h-2zM589,851h1v1h-1zM600,851h1v1h-1zM602,851h2v1h-2zM616,851h1v1h-1zM625,851h1v1h-1zM637,851h2v1h-2zM653,851h1v1h-1zM660,851h1v1h-1zM147,852h1v1h-1zM152,852h1v1h-1zM183,852h1v1h-1zM187,852h1v1h-1zM220,852h3v1h-3zM255,852h3v1h-3zM271,852h1v1h-1zM274,852h1v1h-1zM291,852h2v1h-2zM305,852h1v1h-1zM311,852h2v1h-2zM341,852h1v1h-1zM348,852h1v1h-1zM377,852h1v1h-1zM384,852h1v1h-1zM414,852h1v1h-1zM420,852h1v1h-1zM451,852h1v1h-1zM456,852h2v1h-2zM489,852h1v1h-1zM492,852h1v1h-1zM527,852h1v1h-1zM529,852h1v1h-1zM546,852h2v1h-2zM550,852h1v1h-1zM564,852h2v1h-2zM582,852h2v1h-2zM588,852h1v1h-1zM601,852h2v1h-2zM617,852h2v1h-2zM624,852h1v1h-1zM654,852h1v1h-1zM660,852h1v1h-1zM147,853h1v1h-1zM152,853h1v1h-1zM183,853h2v1h-2zM186,853h1v1h-1zM221,853h1v1h-1zM272,853h2v1h-2zM305,853h2v1h-2zM310,853h2v1h-2zM342,853h1v1h-1zM347,853h1v1h-1zM377,853h1v1h-1zM384,853h1v1h-1zM414,853h1v1h-1zM419,853h2v1h-2zM451,853h2v1h-2zM456,853h1v1h-1zM489,853h3v1h-3zM528,853h1v1h-1zM548,853h2v1h-2zM583,853h2v1h-2zM588,853h1v1h-1zM618,853h2v1h-2zM624,853h1v1h-1zM654,853h2v1h-2zM659,853h1v1h-1zM148,854h1v1h-1zM151,854h1v1h-1zM184,854h2v1h-2zM306,854h1v1h-1zM309,854h1v1h-1zM342,854h2v1h-2zM346,854h1v1h-1zM378,854h1v1h-1zM383,854h2v1h-2zM415,854h1v1h-1zM419,854h1v1h-1zM452,854h2v1h-2zM456,854h1v1h-1zM584,854h1v1h-1zM587,854h1v1h-1zM620,854h1v1h-1zM623,854h1v1h-1zM655,854h1v1h-1zM658,854h2v1h-2zM148,855h1v1h-1zM150,855h2v1h-2zM307,855h2v1h-2zM344,855h2v1h-2zM378,855h5v1h-5zM415,855h2v1h-2zM418,855h1v1h-1zM453,855h3v1h-3zM585,855h3v1h-3zM621,855h2v1h-2zM656,855h3v1h-3zM149,856h1v1h-1zM416,856h3v1h-3z" fill="#000"/>
<text x="84.85" y="840.50" font-size="12.5" fill="#000" textLength="33.23" lengthAdjust="spacingAndGlyphs">6×10</text>
<text x="119.30" y="834.30" font-size="9.5" fill="#000" textLength="4.75" lengthAdjust="spacingAndGlyphs">4</text>
<text x="85.27" y="849.20" font-size="12.5" fill="#000" textLength="32.80" lengthAdjust="spacingAndGlyphs">4×10</text>
<text x="119.30" y="843.00" font-size="9.5" fill="#000" textLength="4.75" lengthAdjust="spacingAndGlyphs">4</text>
<text x="84.35" y="860.90" font-size="12.5" fill="#000" textLength="33.74" lengthAdjust="spacingAndGlyphs">2×10</text>
<text x="119.30" y="854.70" font-size="9.5" fill="#000" textLength="4.75" lengthAdjust="spacingAndGlyphs">4</text>
<text x="115.57" y="872.30" font-size="13" fill="#000" textLength="7.56" lengthAdjust="spacingAndGlyphs">0</text>
<text x="75.00" y="883.70" font-size="12.5" fill="#000" textLength="43.10" lengthAdjust="spacingAndGlyphs">–2×10</text>
<text x="119.30" y="877.50" font-size="9.5" fill="#000" textLength="4.75" lengthAdjust="spacingAndGlyphs">4</text>
<text x="75.00" y="895.60" font-size="12.5" fill="#000" textLength="43.10" lengthAdjust="spacingAndGlyphs">–4×10</text>
<text x="119.30" y="889.40" font-size="9.5" fill="#000" textLength="4.75" lengthAdjust="spacingAndGlyphs">4</text>
<text x="75.00" y="902.40" font-size="12.5" fill="#000" textLength="43.10" lengthAdjust="spacingAndGlyphs">–6×10</text>
<text x="119.30" y="896.20" font-size="9.5" fill="#000" textLength="4.75" lengthAdjust="spacingAndGlyphs">4</text>
<text x="699.93" y="843.00" font-size="11.5" fill="#000" textLength="7.35" lengthAdjust="spacingAndGlyphs">T</text>
<text x="700.98" y="847.20" font-size="13" fill="#ff0000" textLength="9.02" lengthAdjust="spacingAndGlyphs">D</text>
<text x="700.97" y="856.40" font-size="12.5" fill="#0000ff" textLength="9.05" lengthAdjust="spacingAndGlyphs">N</text>
<text x="701.09" y="869.90" font-size="12.5" fill="#00ff00" textLength="7.38" lengthAdjust="spacingAndGlyphs">E</text>
<text transform="translate(693.20,903.95) rotate(-90)" x="0" y="0" font-size="7" fill="#000" textLength="92.70" lengthAdjust="spacingAndGlyphs">Sun Aug 27 13:26:18 2023</text>
<defs><clipPath id="dbox"><rect x="689" y="812" width="5.5" height="16"/><rect x="689" y="832" width="5.5" height="4"/></clipPath></defs>
<rect x="689.00" y="812.00" width="5.50" height="16.00" fill="#000"/>
<rect x="689.00" y="832.00" width="5.50" height="4.00" fill="#000"/>
<g clip-path="url(#dbox)">
<text transform="translate(693.20,903.95) rotate(-90)" x="0" y="0" font-size="7" fill="#fff" textLength="92.70" lengthAdjust="spacingAndGlyphs">Sun Aug 27 13:26:18 2023</text>
</g>
<g shape-rendering="crispEdges">
<rect x="128.00" y="583.00" width="560.00" height="1.00" fill="#000"/>
<path d="M298,573h3v1h-3zM334,573h2v1h-2zM191,574h1v1h-1zM226,574h1v1h-1zM296,574h2v1h-2zM301,574h1v1h-1zM333,574h1v1h-1zM336,574h3v1h-3zM441,574h77v1h-77zM625,574h2v1h-2zM190,575h1v1h-1zM192,575h1v1h-1zM225,575h1v1h-1zM227,575h1v1h-1zM295,575h1v1h-1zM302,575h1v1h-1zM332,575h1v1h-1zM339,575h3v1h-3zM438,575h3v1h-3zM518,575h3v1h-3zM622,575h3v1h-3zM189,576h1v1h-1zM193,576h1v1h-1zM224,576h1v1h-1zM228,576h1v1h-1zM294,576h1v1h-1zM302,576h1v1h-1zM331,576h1v1h-1zM342,576h3v1h-3zM435,576h3v1h-3zM521,576h3v1h-3zM619,576h3v1h-3zM188,577h1v1h-1zM194,577h1v1h-1zM223,577h1v1h-1zM229,577h1v1h-1zM292,577h2v1h-2zM303,577h1v1h-1zM330,577h1v1h-1zM345,577h3v1h-3zM432,577h3v1h-3zM524,577h3v1h-3zM616,577h3v1h-3zM187,578h1v1h-1zM195,578h1v1h-1zM222,578h1v1h-1zM230,578h1v1h-1zM291,578h1v1h-1zM304,578h1v1h-1zM330,578h1v1h-1zM348,578h3v1h-3zM429,578h3v1h-3zM527,578h3v1h-3zM612,578h4v1h-4zM186,579h1v1h-1zM196,579h1v1h-1zM221,579h1v1h-1zM231,579h1v1h-1zM290,579h1v1h-1zM305,579h1v1h-1zM329,579h1v1h-1zM351,579h3v1h-3zM427,579h2v1h-2zM530,579h3v1h-3zM609,579h3v1h-3zM185,580h1v1h-1zM197,580h1v1h-1zM220,580h1v1h-1zM232,580h1v1h-1zM288,580h2v1h-2zM306,580h1v1h-1zM328,580h1v1h-1zM354,580h3v1h-3zM424,580h3v1h-3zM533,580h3v1h-3zM606,580h3v1h-3zM184,581h1v1h-1zM198,581h1v1h-1zM219,581h1v1h-1zM233,581h1v1h-1zM287,581h1v1h-1zM306,581h1v1h-1zM327,581h1v1h-1zM357,581h3v1h-3zM421,581h3v1h-3zM536,581h3v1h-3zM603,581h3v1h-3zM183,582h1v1h-1zM199,582h1v1h-1zM218,582h1v1h-1zM234,582h1v1h-1zM285,582h2v1h-2zM307,582h1v1h-1zM326,582h1v1h-1zM360,582h2v1h-2zM418,582h3v1h-3zM539,582h3v1h-3zM600,582h3v1h-3zM181,583h2v1h-2zM200,583h1v1h-1zM217,583h1v1h-1zM235,583h2v1h-2zM284,583h1v1h-1zM308,583h1v1h-1zM325,583h1v1h-1zM362,583h3v1h-3zM415,583h3v1h-3zM542,583h3v1h-3zM597,583h3v1h-3zM180,584h1v1h-1zM200,584h1v1h-1zM216,584h1v1h-1zM237,584h1v1h-1zM283,584h1v1h-1zM309,584h1v1h-1zM324,584h1v1h-1zM365,584h3v1h-3zM412,584h3v1h-3zM545,584h3v1h-3zM594,584h3v1h-3zM179,585h1v1h-1zM201,585h1v1h-1zM215,585h1v1h-1zM238,585h1v1h-1zM281,585h2v1h-2zM310,585h1v1h-1zM323,585h1v1h-1zM368,585h3v1h-3zM409,585h3v1h-3zM548,585h3v1h-3zM591,585h3v1h-3zM178,586h1v1h-1zM202,586h1v1h-1zM214,586h1v1h-1zM239,586h1v1h-1zM280,586h1v1h-1zM310,586h1v1h-1zM322,586h1v1h-1zM371,586h3v1h-3zM406,586h3v1h-3zM551,586h3v1h-3zM588,586h3v1h-3zM177,587h1v1h-1zM203,587h1v1h-1zM213,587h1v1h-1zM240,587h1v1h-1zM279,587h1v1h-1zM311,587h1v1h-1zM321,587h1v1h-1zM374,587h3v1h-3zM403,587h3v1h-3zM554,587h3v1h-3zM584,587h4v1h-4zM176,588h1v1h-1zM204,588h1v1h-1zM212,588h1v1h-1zM241,588h1v1h-1zM277,588h2v1h-2zM312,588h1v1h-1zM321,588h1v1h-1zM377,588h3v1h-3zM401,588h2v1h-2zM557,588h3v1h-3zM581,588h3v1h-3zM175,589h1v1h-1zM205,589h1v1h-1zM211,589h1v1h-1zM242,589h1v1h-1zM276,589h1v1h-1zM313,589h1v1h-1zM320,589h1v1h-1zM380,589h3v1h-3zM398,589h3v1h-3zM560,589h3v1h-3zM578,589h3v1h-3zM174,590h1v1h-1zM206,590h1v1h-1zM210,590h1v1h-1zM243,590h1v1h-1zM275,590h1v1h-1zM314,590h1v1h-1zM319,590h1v1h-1zM383,590h3v1h-3zM395,590h3v1h-3zM563,590h3v1h-3zM575,590h3v1h-3zM173,591h1v1h-1zM207,591h1v1h-1zM209,591h1v1h-1zM244,591h14v1h-14zM273,591h2v1h-2zM314,591h1v1h-1zM318,591h1v1h-1zM386,591h3v1h-3zM392,591h3v1h-3zM566,591h3v1h-3zM572,591h3v1h-3zM172,592h1v1h-1zM208,592h1v1h-1zM258,592h15v1h-15zM315,592h1v1h-1zM317,592h1v1h-1zM389,592h3v1h-3zM569,592h3v1h-3zM316,593h1v1h-1z" fill="#000"/>
<path d="M172,574h5v1h-5zM185,574h7v1h-7zM199,574h7v1h-7zM208,574h7v1h-7zM223,574h7v1h-7zM237,574h7v1h-7zM246,574h2v1h-2zM248,575h3v1h-3zM251,576h2v1h-2zM260,579h2v1h-2zM262,580h3v1h-3zM265,581h1v1h-1zM273,583h1v1h-1zM274,584h3v1h-3zM277,585h2v1h-2zM286,588h2v1h-2zM288,589h3v1h-3zM291,590h2v1h-2zM298,592h8v1h-8zM313,592h7v1h-7zM328,592h7v1h-7zM336,592h7v1h-7zM351,592h7v1h-7zM365,592h7v1h-7zM379,592h7v1h-7zM393,592h7v1h-7zM407,592h7v1h-7zM421,592h7v1h-7zM435,592h15v1h-15zM457,592h7v1h-7zM471,592h7v1h-7zM486,592h7v1h-7zM500,592h7v1h-7zM514,592h10v1h-10zM531,592h7v1h-7zM545,592h7v1h-7zM559,592h7v1h-7zM573,592h7v1h-7zM587,592h7v1h-7zM602,592h7v1h-7zM616,592h7v1h-7z" fill="#000"/>
<rect x="128.00" y="654.00" width="560.00" height="1.00" fill="#000"/>
<path d="M298,644h3v1h-3zM334,644h2v1h-2zM191,645h1v1h-1zM226,645h1v1h-1zM296,645h2v1h-2zM301,645h1v1h-1zM333,645h1v1h-1zM336,645h3v1h-3zM441,645h77v1h-77zM625,645h2v1h-2zM190,646h1v1h-1zM192,646h1v1h-1zM225,646h1v1h-1zM227,646h1v1h-1zM295,646h1v1h-1zM302,646h1v1h-1zM332,646h1v1h-1zM339,646h3v1h-3zM438,646h3v1h-3zM518,646h3v1h-3zM622,646h3v1h-3zM189,647h1v1h-1zM193,647h1v1h-1zM224,647h1v1h-1zM228,647h1v1h-1zM294,647h1v1h-1zM302,647h1v1h-1zM331,647h1v1h-1zM342,647h3v1h-3zM435,647h3v1h-3zM521,647h3v1h-3zM619,647h3v1h-3zM188,648h1v1h-1zM194,648h1v1h-1zM223,648h1v1h-1zM229,648h1v1h-1zM292,648h2v1h-2zM303,648h1v1h-1zM330,648h1v1h-1zM345,648h3v1h-3zM432,648h3v1h-3zM524,648h3v1h-3zM616,648h3v1h-3zM187,649h1v1h-1zM195,649h1v1h-1zM222,649h1v1h-1zM230,649h1v1h-1zM291,649h1v1h-1zM304,649h1v1h-1zM330,649h1v1h-1zM348,649h3v1h-3zM429,649h3v1h-3zM527,649h3v1h-3zM612,649h4v1h-4zM186,650h1v1h-1zM196,650h1v1h-1zM221,650h1v1h-1zM231,650h1v1h-1zM290,650h1v1h-1zM305,650h1v1h-1zM329,650h1v1h-1zM351,650h3v1h-3zM427,650h2v1h-2zM530,650h3v1h-3zM609,650h3v1h-3zM185,651h1v1h-1zM197,651h1v1h-1zM220,651h1v1h-1zM232,651h1v1h-1zM288,651h2v1h-2zM306,651h1v1h-1zM328,651h1v1h-1zM354,651h3v1h-3zM424,651h3v1h-3zM533,651h3v1h-3zM606,651h3v1h-3zM184,652h1v1h-1zM198,652h1v1h-1zM219,652h1v1h-1zM233,652h1v1h-1zM287,652h1v1h-1zM306,652h1v1h-1zM327,652h1v1h-1zM357,652h3v1h-3zM421,652h3v1h-3zM536,652h3v1h-3zM603,652h3v1h-3zM183,653h1v1h-1zM199,653h1v1h-1zM218,653h1v1h-1zM234,653h1v1h-1zM285,653h2v1h-2zM307,653h1v1h-1zM326,653h1v1h-1zM360,653h2v1h-2zM418,653h3v1h-3zM539,653h3v1h-3zM600,653h3v1h-3zM181,654h2v1h-2zM200,654h1v1h-1zM217,654h1v1h-1zM235,654h2v1h-2zM284,654h1v1h-1zM308,654h1v1h-1zM325,654h1v1h-1zM362,654h3v1h-3zM415,654h3v1h-3zM542,654h3v1h-3zM597,654h3v1h-3zM180,655h1v1h-1zM200,655h1v1h-1zM216,655h1v1h-1zM237,655h1v1h-1zM283,655h1v1h-1zM309,655h1v1h-1zM324,655h1v1h-1zM365,655h3v1h-3zM412,655h3v1h-3zM545,655h3v1h-3zM594,655h3v1h-3zM179,656h1v1h-1zM201,656h1v1h-1zM215,656h1v1h-1zM238,656h1v1h-1zM281,656h2v1h-2zM310,656h1v1h-1zM323,656h1v1h-1zM368,656h3v1h-3zM409,656h3v1h-3zM548,656h3v1h-3zM591,656h3v1h-3zM178,657h1v1h-1zM202,657h1v1h-1zM214,657h1v1h-1zM239,657h1v1h-1zM280,657h1v1h-1zM310,657h1v1h-1zM322,657h1v1h-1zM371,657h3v1h-3zM406,657h3v1h-3zM551,657h3v1h-3zM588,657h3v1h-3zM177,658h1v1h-1zM203,658h1v1h-1zM213,658h1v1h-1zM240,658h1v1h-1zM279,658h1v1h-1zM311,658h1v1h-1zM321,658h1v1h-1zM374,658h3v1h-3zM403,658h3v1h-3zM554,658h3v1h-3zM584,658h4v1h-4zM176,659h1v1h-1zM204,659h1v1h-1zM212,659h1v1h-1zM241,659h1v1h-1zM277,659h2v1h-2zM312,659h1v1h-1zM321,659h1v1h-1zM377,659h3v1h-3zM401,659h2v1h-2zM557,659h3v1h-3zM581,659h3v1h-3zM175,660h1v1h-1zM205,660h1v1h-1zM211,660h1v1h-1zM242,660h1v1h-1zM276,660h1v1h-1zM313,660h1v1h-1zM320,660h1v1h-1zM380,660h3v1h-3zM398,660h3v1h-3zM560,660h3v1h-3zM578,660h3v1h-3zM174,661h1v1h-1zM206,661h1v1h-1zM210,661h1v1h-1zM243,661h1v1h-1zM275,661h1v1h-1zM314,661h1v1h-1zM319,661h1v1h-1zM383,661h3v1h-3zM395,661h3v1h-3zM563,661h3v1h-3zM575,661h3v1h-3zM173,662h1v1h-1zM207,662h1v1h-1zM209,662h1v1h-1zM244,662h14v1h-14zM273,662h2v1h-2zM314,662h1v1h-1zM318,662h1v1h-1zM386,662h3v1h-3zM392,662h3v1h-3zM566,662h3v1h-3zM572,662h3v1h-3zM172,663h1v1h-1zM208,663h1v1h-1zM258,663h15v1h-15zM315,663h1v1h-1zM317,663h1v1h-1zM389,663h3v1h-3zM569,663h3v1h-3zM316,664h1v1h-1z" fill="#000"/>
<path d="M172,645h5v1h-5zM185,645h7v1h-7zM199,645h7v1h-7zM208,645h7v1h-7zM223,645h7v1h-7zM237,645h7v1h-7zM246,645h2v1h-2zM248,646h3v1h-3zM251,647h2v1h-2zM260,650h2v1h-2zM262,651h3v1h-3zM265,652h1v1h-1zM273,654h1v1h-1zM274,655h3v1h-3zM277,656h2v1h-2zM286,659h2v1h-2zM288,660h3v1h-3zM291,661h2v1h-2zM298,663h8v1h-8zM313,663h7v1h-7zM328,663h7v1h-7zM336,663h7v1h-7zM351,663h7v1h-7zM365,663h7v1h-7zM379,663h7v1h-7zM393,663h7v1h-7zM407,663h7v1h-7zM421,663h7v1h-7zM435,663h15v1h-15zM457,663h7v1h-7zM471,663h7v1h-7zM486,663h7v1h-7zM500,663h7v1h-7zM514,663h10v1h-10zM531,663h7v1h-7zM545,663h7v1h-7zM559,663h7v1h-7zM573,663h7v1h-7zM587,663h7v1h-7zM602,663h7v1h-7zM616,663h7v1h-7z" fill="#000"/>
<rect x="128.00" y="725.00" width="560.00" height="1.00" fill="#000"/>
<path d="M298,715h3v1h-3zM334,715h2v1h-2zM191,716h1v1h-1zM226,716h1v1h-1zM296,716h2v1h-2zM301,716h1v1h-1zM333,716h1v1h-1zM336,716h3v1h-3zM441,716h77v1h-77zM625,716h2v1h-2zM190,717h1v1h-1zM192,717h1v1h-1zM225,717h1v1h-1zM227,717h1v1h-1zM295,717h1v1h-1zM302,717h1v1h-1zM332,717h1v1h-1zM339,717h3v1h-3zM438,717h3v1h-3zM518,717h3v1h-3zM622,717h3v1h-3zM189,718h1v1h-1zM193,718h1v1h-1zM224,718h1v1h-1zM228,718h1v1h-1zM294,718h1v1h-1zM302,718h1v1h-1zM331,718h1v1h-1zM342,718h3v1h-3zM435,718h3v1h-3zM521,718h3v1h-3zM619,718h3v1h-3zM188,719h1v1h-1zM194,719h1v1h-1zM223,719h1v1h-1zM229,719h1v1h-1zM292,719h2v1h-2zM303,719h1v1h-1zM330,719h1v1h-1zM345,719h3v1h-3zM432,719h3v1h-3zM524,719h3v1h-3zM616,719h3v1h-3zM187,720h1v1h-1zM195,720h1v1h-1zM222,720h1v1h-1zM230,720h1v1h-1zM291,720h1v1h-1zM304,720h1v1h-1zM330,720h1v1h-1zM348,720h3v1h-3zM429,720h3v1h-3zM527,720h3v1h-3zM612,720h4v1h-4zM186,721h1v1h-1zM196,721h1v1h-1zM221,721h1v1h-1zM231,721h1v1h-1zM290,721h1v1h-1zM305,721h1v1h-1zM329,721h1v1h-1zM351,721h3v1h-3zM427,721h2v1h-2zM530,721h3v1h-3zM609,721h3v1h-3zM185,722h1v1h-1zM197,722h1v1h-1zM220,722h1v1h-1zM232,722h1v1h-1zM288,722h2v1h-2zM306,722h1v1h-1zM328,722h1v1h-1zM354,722h3v1h-3zM424,722h3v1h-3zM533,722h3v1h-3zM606,722h3v1h-3zM184,723h1v1h-1zM198,723h1v1h-1zM219,723h1v1h-1zM233,723h1v1h-1zM287,723h1v1h-1zM306,723h1v1h-1zM327,723h1v1h-1zM357,723h3v1h-3zM421,723h3v1h-3zM536,723h3v1h-3zM603,723h3v1h-3zM183,724h1v1h-1zM199,724h1v1h-1zM218,724h1v1h-1zM234,724h1v1h-1zM285,724h2v1h-2zM307,724h1v1h-1zM326,724h1v1h-1zM360,724h2v1h-2zM418,724h3v1h-3zM539,724h3v1h-3zM600,724h3v1h-3zM181,725h2v1h-2zM200,725h1v1h-1zM217,725h1v1h-1zM235,725h2v1h-2zM284,725h1v1h-1zM308,725h1v1h-1zM325,725h1v1h-1zM362,725h3v1h-3zM415,725h3v1h-3zM542,725h3v1h-3zM597,725h3v1h-3zM180,726h1v1h-1zM200,726h1v1h-1zM216,726h1v1h-1zM237,726h1v1h-1zM283,726h1v1h-1zM309,726h1v1h-1zM324,726h1v1h-1zM365,726h3v1h-3zM412,726h3v1h-3zM545,726h3v1h-3zM594,726h3v1h-3zM179,727h1v1h-1zM201,727h1v1h-1zM215,727h1v1h-1zM238,727h1v1h-1zM281,727h2v1h-2zM310,727h1v1h-1zM323,727h1v1h-1zM368,727h3v1h-3zM409,727h3v1h-3zM548,727h3v1h-3zM591,727h3v1h-3zM178,728h1v1h-1zM202,728h1v1h-1zM214,728h1v1h-1zM239,728h1v1h-1zM280,728h1v1h-1zM310,728h1v1h-1zM322,728h1v1h-1zM371,728h3v1h-3zM406,728h3v1h-3zM551,728h3v1h-3zM588,728h3v1h-3zM177,729h1v1h-1zM203,729h1v1h-1zM213,729h1v1h-1zM240,729h1v1h-1zM279,729h1v1h-1zM311,729h1v1h-1zM321,729h1v1h-1zM374,729h3v1h-3zM403,729h3v1h-3zM554,729h3v1h-3zM584,729h4v1h-4zM176,730h1v1h-1zM204,730h1v1h-1zM212,730h1v1h-1zM241,730h1v1h-1zM277,730h2v1h-2zM312,730h1v1h-1zM321,730h1v1h-1zM377,730h3v1h-3zM401,730h2v1h-2zM557,730h3v1h-3zM581,730h3v1h-3zM175,731h1v1h-1zM205,731h1v1h-1zM211,731h1v1h-1zM242,731h1v1h-1zM276,731h1v1h-1zM313,731h1v1h-1zM320,731h1v1h-1zM380,731h3v1h-3zM398,731h3v1h-3zM560,731h3v1h-3zM578,731h3v1h-3zM174,732h1v1h-1zM206,732h1v1h-1zM210,732h1v1h-1zM243,732h1v1h-1zM275,732h1v1h-1zM314,732h1v1h-1zM319,732h1v1h-1zM383,732h3v1h-3zM395,732h3v1h-3zM563,732h3v1h-3zM575,732h3v1h-3zM173,733h1v1h-1zM207,733h1v1h-1zM209,733h1v1h-1zM244,733h14v1h-14zM273,733h2v1h-2zM314,733h1v1h-1zM318,733h1v1h-1zM386,733h3v1h-3zM392,733h3v1h-3zM566,733h3v1h-3zM572,733h3v1h-3zM172,734h1v1h-1zM208,734h1v1h-1zM258,734h15v1h-15zM315,734h1v1h-1zM317,734h1v1h-1zM389,734h3v1h-3zM569,734h3v1h-3zM316,735h1v1h-1z" fill="#000"/>
<path d="M172,716h5v1h-5zM185,716h7v1h-7zM199,716h7v1h-7zM208,716h7v1h-7zM223,716h7v1h-7zM237,716h7v1h-7zM246,716h2v1h-2zM248,717h3v1h-3zM251,718h2v1h-2zM260,721h2v1h-2zM262,722h3v1h-3zM265,723h1v1h-1zM273,725h1v1h-1zM274,726h3v1h-3zM277,727h2v1h-2zM286,730h2v1h-2zM288,731h3v1h-3zM291,732h2v1h-2zM298,734h8v1h-8zM313,734h7v1h-7zM328,734h7v1h-7zM336,734h7v1h-7zM351,734h7v1h-7zM365,734h7v1h-7zM379,734h7v1h-7zM393,734h7v1h-7zM407,734h7v1h-7zM421,734h7v1h-7zM435,734h15v1h-15zM457,734h7v1h-7zM471,734h7v1h-7zM486,734h7v1h-7zM500,734h7v1h-7zM514,734h10v1h-10zM531,734h7v1h-7zM545,734h7v1h-7zM559,734h7v1h-7zM573,734h7v1h-7zM587,734h7v1h-7zM602,734h7v1h-7zM616,734h7v1h-7z" fill="#000"/>
<rect x="128.00" y="796.00" width="560.00" height="1.00" fill="#000"/>
<path d="M298,786h3v1h-3zM334,786h2v1h-2zM191,787h1v1h-1zM226,787h1v1h-1zM296,787h2v1h-2zM301,787h1v1h-1zM333,787h1v1h-1zM336,787h3v1h-3zM441,787h77v1h-77zM625,787h2v1h-2zM190,788h1v1h-1zM192,788h1v1h-1zM225,788h1v1h-1zM227,788h1v1h-1zM295,788h1v1h-1zM302,788h1v1h-1zM332,788h1v1h-1zM339,788h3v1h-3zM438,788h3v1h-3zM518,788h3v1h-3zM622,788h3v1h-3zM189,789h1v1h-1zM193,789h1v1h-1zM224,789h1v1h-1zM228,789h1v1h-1zM294,789h1v1h-1zM302,789h1v1h-1zM331,789h1v1h-1zM342,789h3v1h-3zM435,789h3v1h-3zM521,789h3v1h-3zM619,789h3v1h-3zM188,790h1v1h-1zM194,790h1v1h-1zM223,790h1v1h-1zM229,790h1v1h-1zM292,790h2v1h-2zM303,790h1v1h-1zM330,790h1v1h-1zM345,790h3v1h-3zM432,790h3v1h-3zM524,790h3v1h-3zM616,790h3v1h-3zM187,791h1v1h-1zM195,791h1v1h-1zM222,791h1v1h-1zM230,791h1v1h-1zM291,791h1v1h-1zM304,791h1v1h-1zM330,791h1v1h-1zM348,791h3v1h-3zM429,791h3v1h-3zM527,791h3v1h-3zM612,791h4v1h-4zM186,792h1v1h-1zM196,792h1v1h-1zM221,792h1v1h-1zM231,792h1v1h-1zM290,792h1v1h-1zM305,792h1v1h-1zM329,792h1v1h-1zM351,792h3v1h-3zM427,792h2v1h-2zM530,792h3v1h-3zM609,792h3v1h-3zM185,793h1v1h-1zM197,793h1v1h-1zM220,793h1v1h-1zM232,793h1v1h-1zM288,793h2v1h-2zM306,793h1v1h-1zM328,793h1v1h-1zM354,793h3v1h-3zM424,793h3v1h-3zM533,793h3v1h-3zM606,793h3v1h-3zM184,794h1v1h-1zM198,794h1v1h-1zM219,794h1v1h-1zM233,794h1v1h-1zM287,794h1v1h-1zM306,794h1v1h-1zM327,794h1v1h-1zM357,794h3v1h-3zM421,794h3v1h-3zM536,794h3v1h-3zM603,794h3v1h-3zM183,795h1v1h-1zM199,795h1v1h-1zM218,795h1v1h-1zM234,795h1v1h-1zM285,795h2v1h-2zM307,795h1v1h-1zM326,795h1v1h-1zM360,795h2v1h-2zM418,795h3v1h-3zM539,795h3v1h-3zM600,795h3v1h-3zM181,796h2v1h-2zM200,796h1v1h-1zM217,796h1v1h-1zM235,796h2v1h-2zM284,796h1v1h-1zM308,796h1v1h-1zM325,796h1v1h-1zM362,796h3v1h-3zM415,796h3v1h-3zM542,796h3v1h-3zM597,796h3v1h-3zM180,797h1v1h-1zM200,797h1v1h-1zM216,797h1v1h-1zM237,797h1v1h-1zM283,797h1v1h-1zM309,797h1v1h-1zM324,797h1v1h-1zM365,797h3v1h-3zM412,797h3v1h-3zM545,797h3v1h-3zM594,797h3v1h-3zM179,798h1v1h-1zM201,798h1v1h-1zM215,798h1v1h-1zM238,798h1v1h-1zM281,798h2v1h-2zM310,798h1v1h-1zM323,798h1v1h-1zM368,798h3v1h-3zM409,798h3v1h-3zM548,798h3v1h-3zM591,798h3v1h-3zM178,799h1v1h-1zM202,799h1v1h-1zM214,799h1v1h-1zM239,799h1v1h-1zM280,799h1v1h-1zM310,799h1v1h-1zM322,799h1v1h-1zM371,799h3v1h-3zM406,799h3v1h-3zM551,799h3v1h-3zM588,799h3v1h-3zM177,800h1v1h-1zM203,800h1v1h-1zM213,800h1v1h-1zM240,800h1v1h-1zM279,800h1v1h-1zM311,800h1v1h-1zM321,800h1v1h-1zM374,800h3v1h-3zM403,800h3v1h-3zM554,800h3v1h-3zM584,800h4v1h-4zM176,801h1v1h-1zM204,801h1v1h-1zM212,801h1v1h-1zM241,801h1v1h-1zM277,801h2v1h-2zM312,801h1v1h-1zM321,801h1v1h-1zM377,801h3v1h-3zM401,801h2v1h-2zM557,801h3v1h-3zM581,801h3v1h-3zM175,802h1v1h-1zM205,802h1v1h-1zM211,802h1v1h-1zM242,802h1v1h-1zM276,802h1v1h-1zM313,802h1v1h-1zM320,802h1v1h-1zM380,802h3v1h-3zM398,802h3v1h-3zM560,802h3v1h-3zM578,802h3v1h-3zM174,803h1v1h-1zM206,803h1v1h-1zM210,803h1v1h-1zM243,803h1v1h-1zM275,803h1v1h-1zM314,803h1v1h-1zM319,803h1v1h-1zM383,803h3v1h-3zM395,803h3v1h-3zM563,803h3v1h-3zM575,803h3v1h-3zM173,804h1v1h-1zM207,804h1v1h-1zM209,804h1v1h-1zM244,804h14v1h-14zM273,804h2v1h-2zM314,804h1v1h-1zM318,804h1v1h-1zM386,804h3v1h-3zM392,804h3v1h-3zM566,804h3v1h-3zM572,804h3v1h-3zM172,805h1v1h-1zM208,805h1v1h-1zM258,805h15v1h-15zM315,805h1v1h-1zM317,805h1v1h-1zM389,805h3v1h-3zM569,805h3v1h-3zM316,806h1v1h-1z" fill="#000"/>
<path d="M172,787h5v1h-5zM185,787h7v1h-7zM199,787h7v1h-7zM208,787h7v1h-7zM223,787h7v1h-7zM237,787h7v1h-7zM246,787h2v1h-2zM248,788h3v1h-3zM251,789h2v1h-2zM260,792h2v1h-2zM262,793h3v1h-3zM265,794h1v1h-1zM273,796h1v1h-1zM274,797h3v1h-3zM277,798h2v1h-2zM286,801h2v1h-2zM288,802h3v1h-3zM291,803h2v1h-2zM298,805h8v1h-8zM313,805h7v1h-7zM328,805h7v1h-7zM336,805h7v1h-7zM351,805h7v1h-7zM365,805h7v1h-7zM379,805h7v1h-7zM393,805h7v1h-7zM407,805h7v1h-7zM421,805h7v1h-7zM435,805h15v1h-15zM457,805h7v1h-7zM471,805h7v1h-7zM486,805h7v1h-7zM500,805h7v1h-7zM514,805h10v1h-10zM531,805h7v1h-7zM545,805h7v1h-7zM559,805h7v1h-7zM573,805h7v1h-7zM587,805h7v1h-7zM602,805h7v1h-7zM616,805h7v1h-7z" fill="#000"/>
</g>
<g shape-rendering="crispEdges">
<rect x="174.00" y="264.00" width="1.00" height="2.00" fill="#5a0096"/>
<rect x="173.00" y="266.00" width="2.00" height="3.00" fill="#2a0036"/>
<rect x="172.00" y="274.00" width="1.00" height="4.00" fill="#2a0036"/>
<rect x="172.00" y="293.00" width="1.00" height="5.00" fill="#5a0096"/>
<rect x="172.00" y="298.00" width="2.00" height="5.00" fill="#3a0070"/>
<rect x="172.00" y="311.00" width="2.00" height="4.00" fill="#0000ff"/>
<rect x="173.00" y="315.00" width="1.00" height="8.00" fill="#0090ff"/>
<rect x="172.00" y="323.00" width="1.00" height="6.00" fill="#0000ff"/>
<rect x="173.00" y="323.00" width="1.00" height="4.00" fill="#00ffff"/>
<rect x="173.00" y="327.00" width="1.00" height="6.00" fill="#00ff40"/>
<rect x="172.00" y="345.00" width="1.00" height="4.00" fill="#5a0096"/>
<rect x="210.00" y="263.00" width="1.00" height="15.00" fill="#5a0096"/>
<rect x="208.00" y="266.00" width="2.00" height="3.00" fill="#2a0036"/>
<rect x="208.00" y="278.00" width="1.00" height="11.00" fill="#5a0096"/>
<rect x="210.00" y="283.00" width="1.00" height="5.00" fill="#2a0036"/>
<rect x="208.00" y="288.00" width="2.00" height="5.00" fill="#2a0036"/>
<rect x="209.00" y="298.00" width="1.00" height="5.00" fill="#5a0096"/>
<rect x="209.00" y="307.00" width="1.00" height="4.00" fill="#0000ff"/>
<rect x="209.00" y="311.00" width="1.00" height="12.00" fill="#00ffff"/>
<rect x="210.00" y="319.00" width="1.00" height="6.00" fill="#0000ff"/>
<rect x="208.00" y="323.00" width="1.00" height="5.00" fill="#0000ff"/>
<rect x="209.00" y="323.00" width="1.00" height="10.00" fill="#00ff40"/>
<rect x="208.00" y="349.00" width="1.00" height="5.00" fill="#5a0096"/>
<rect x="210.00" y="354.00" width="1.00" height="5.00" fill="#5a0096"/>
<rect x="208.00" y="359.00" width="1.00" height="5.00" fill="#5a0096"/>
<rect x="209.00" y="386.00" width="1.00" height="4.00" fill="#0000ff"/>
<rect x="209.00" y="394.00" width="1.00" height="6.00" fill="#0090ff"/>
<rect x="245.00" y="263.00" width="2.00" height="3.00" fill="#2a0036"/>
<rect x="246.00" y="266.00" width="1.00" height="8.00" fill="#5a0096"/>
<rect x="244.00" y="274.00" width="1.00" height="4.00" fill="#5a0096"/>
<rect x="246.00" y="279.00" width="1.00" height="4.00" fill="#5a0096"/>
<rect x="245.00" y="283.00" width="1.00" height="5.00" fill="#5a0096"/>
<rect x="246.00" y="293.00" width="1.00" height="5.00" fill="#5a0096"/>
<rect x="245.00" y="307.00" width="1.00" height="4.00" fill="#0090ff"/>
<rect x="245.00" y="311.00" width="1.00" height="14.00" fill="#00ffff"/>
<rect x="245.00" y="325.00" width="1.00" height="8.00" fill="#00ff40"/>
<rect x="246.00" y="311.00" width="1.00" height="4.00" fill="#0000ff"/>
<rect x="246.00" y="323.00" width="1.00" height="5.00" fill="#0000ff"/>
<rect x="246.00" y="335.00" width="1.00" height="2.00" fill="#0000ff"/>
<rect x="245.00" y="354.00" width="1.00" height="5.00" fill="#5a0096"/>
<rect x="245.00" y="378.00" width="1.00" height="4.00" fill="#0000ff"/>
<rect x="246.00" y="382.00" width="1.00" height="4.00" fill="#0090ff"/>
<rect x="174.00" y="406.00" width="1.00" height="7.00" fill="#5a0096"/>
<rect x="172.00" y="435.00" width="1.00" height="6.00" fill="#5a0096"/>
<rect x="172.00" y="441.00" width="2.00" height="5.00" fill="#3a0070"/>
<rect x="172.00" y="453.00" width="2.00" height="4.00" fill="#0000ff"/>
<rect x="173.00" y="457.00" width="1.00" height="9.00" fill="#00ffff"/>
<rect x="172.00" y="466.00" width="1.00" height="5.00" fill="#0000ff"/>
<rect x="173.00" y="466.00" width="1.00" height="9.00" fill="#00ff40"/>
<rect x="208.00" y="409.00" width="1.00" height="4.00" fill="#5a0096"/>
<rect x="210.00" y="409.00" width="1.00" height="12.00" fill="#5a0096"/>
<rect x="208.00" y="425.00" width="1.00" height="5.00" fill="#5a0096"/>
<rect x="209.00" y="441.00" width="1.00" height="5.00" fill="#5a0096"/>
<rect x="209.00" y="450.00" width="1.00" height="3.00" fill="#0000ff"/>
<rect x="209.00" y="453.00" width="1.00" height="13.00" fill="#00ffff"/>
<rect x="208.00" y="466.00" width="3.00" height="5.00" fill="#0000ff"/>
<rect x="209.00" y="466.00" width="1.00" height="9.00" fill="#00ff40"/>
<rect x="246.00" y="405.00" width="1.00" height="12.00" fill="#5a0096"/>
<rect x="244.00" y="417.00" width="1.00" height="4.00" fill="#5a0096"/>
<rect x="246.00" y="421.00" width="1.00" height="4.00" fill="#5a0096"/>
<rect x="246.00" y="435.00" width="1.00" height="5.00" fill="#5a0096"/>
<rect x="245.00" y="450.00" width="1.00" height="12.00" fill="#00ffff"/>
<rect x="245.00" y="462.00" width="1.00" height="13.00" fill="#00ff40"/>
<rect x="246.00" y="466.00" width="1.00" height="4.00" fill="#0000ff"/>
<rect x="173.00" y="480.00" width="1.00" height="4.00" fill="#5a0096"/>
<rect x="172.00" y="506.00" width="1.00" height="6.00" fill="#0000ff"/>
<rect x="208.00" y="480.00" width="2.00" height="4.00" fill="#5a0096"/>
<rect x="208.00" y="492.00" width="1.00" height="4.00" fill="#0000ff"/>
<rect x="209.00" y="501.00" width="1.00" height="5.00" fill="#5a0096"/>
<rect x="209.00" y="532.00" width="1.00" height="10.00" fill="#0090ff"/>
<rect x="245.00" y="477.00" width="1.00" height="3.00" fill="#5a0096"/>
<rect x="244.00" y="488.00" width="1.00" height="4.00" fill="#5a0096"/>
<rect x="245.00" y="496.00" width="1.00" height="5.00" fill="#5a0096"/>
<rect x="245.00" y="528.00" width="1.00" height="3.00" fill="#0090ff"/>
<rect x="245.00" y="537.00" width="1.00" height="5.00" fill="#0090ff"/>
<rect x="299.00" y="263.00" width="1.00" height="3.00" fill="#5a0096"/>
<rect x="298.00" y="266.00" width="2.00" height="12.00" fill="#2a0036"/>
<rect x="299.00" y="279.00" width="2.00" height="4.00" fill="#2a0036"/>
<rect x="298.00" y="283.00" width="1.00" height="10.00" fill="#5a0096"/>
<rect x="300.00" y="288.00" width="1.00" height="5.00" fill="#5a0096"/>
<rect x="298.00" y="298.00" width="1.00" height="5.00" fill="#5a0096"/>
<rect x="299.00" y="304.00" width="1.00" height="7.00" fill="#5a0096"/>
<rect x="298.00" y="311.00" width="1.00" height="4.00" fill="#5a0096"/>
<rect x="298.00" y="323.00" width="1.00" height="6.00" fill="#0000ff"/>
<rect x="298.00" y="329.00" width="1.00" height="4.00" fill="#00ffff"/>
<rect x="299.00" y="349.00" width="2.00" height="5.00" fill="#3a0070"/>
<rect x="300.00" y="359.00" width="1.00" height="5.00" fill="#0000ff"/>
<rect x="299.00" y="374.00" width="1.00" height="4.00" fill="#0000ff"/>
<rect x="336.00" y="263.00" width="1.00" height="4.00" fill="#5a0096"/>
<rect x="335.00" y="269.00" width="2.00" height="5.00" fill="#2a0036"/>
<rect x="334.00" y="278.00" width="1.00" height="5.00" fill="#5a0096"/>
<rect x="336.00" y="279.00" width="1.00" height="9.00" fill="#5a0096"/>
<rect x="335.00" y="288.00" width="1.00" height="5.00" fill="#5a0096"/>
<rect x="335.00" y="298.00" width="2.00" height="5.00" fill="#3a0070"/>
<rect x="335.00" y="315.00" width="1.00" height="4.00" fill="#0000ff"/>
<rect x="335.00" y="323.00" width="1.00" height="5.00" fill="#00ffff"/>
<rect x="335.00" y="328.00" width="1.00" height="5.00" fill="#00ff40"/>
<rect x="335.00" y="400.00" width="1.00" height="4.00" fill="#00ff40"/>
<rect x="298.00" y="405.00" width="1.00" height="8.00" fill="#5a0096"/>
<rect x="298.00" y="413.00" width="2.00" height="3.00" fill="#3a0070"/>
<rect x="299.00" y="416.00" width="1.00" height="5.00" fill="#5a0096"/>
<rect x="298.00" y="425.00" width="1.00" height="10.00" fill="#5a0096"/>
<rect x="298.00" y="440.00" width="1.00" height="6.00" fill="#5a0096"/>
<rect x="299.00" y="450.00" width="1.00" height="3.00" fill="#0000ff"/>
<rect x="298.00" y="466.00" width="1.00" height="4.00" fill="#0000ff"/>
<rect x="298.00" y="470.00" width="1.00" height="5.00" fill="#00ffff"/>
<rect x="299.00" y="477.00" width="2.00" height="3.00" fill="#3a0070"/>
<rect x="299.00" y="480.00" width="1.00" height="4.00" fill="#5a0096"/>
<rect x="298.00" y="488.00" width="1.00" height="4.00" fill="#5a0096"/>
<rect x="298.00" y="524.00" width="1.00" height="4.00" fill="#0090ff"/>
<rect x="336.00" y="405.00" width="1.00" height="4.00" fill="#5a0096"/>
<rect x="334.00" y="421.00" width="1.00" height="4.00" fill="#5a0096"/>
<rect x="335.00" y="430.00" width="1.00" height="5.00" fill="#5a0096"/>
<rect x="335.00" y="440.00" width="2.00" height="6.00" fill="#3a0070"/>
<rect x="335.00" y="457.00" width="1.00" height="4.00" fill="#0000ff"/>
<rect x="335.00" y="466.00" width="1.00" height="4.00" fill="#00ffff"/>
<rect x="335.00" y="470.00" width="1.00" height="5.00" fill="#00ff40"/>
<rect x="335.00" y="484.00" width="2.00" height="3.00" fill="#3a0070"/>
<rect x="336.00" y="496.00" width="1.00" height="5.00" fill="#5a0096"/>
<rect x="335.00" y="542.00" width="1.00" height="4.00" fill="#00ff40"/>
<rect x="443.00" y="263.00" width="1.00" height="10.00" fill="#5a0096"/>
<rect x="442.00" y="273.00" width="1.00" height="4.00" fill="#5a0096"/>
<rect x="443.00" y="277.00" width="1.00" height="6.00" fill="#5a0096"/>
<rect x="443.00" y="288.00" width="1.00" height="5.00" fill="#5a0096"/>
<rect x="442.00" y="293.00" width="1.00" height="5.00" fill="#3a0070"/>
<rect x="443.00" y="298.00" width="1.00" height="5.00" fill="#5a0096"/>
<rect x="444.00" y="303.00" width="1.00" height="4.00" fill="#0000ff"/>
<rect x="443.00" y="315.00" width="1.00" height="4.00" fill="#0000ff"/>
<rect x="442.00" y="323.00" width="1.00" height="6.00" fill="#00ffff"/>
<rect x="443.00" y="335.00" width="1.00" height="6.00" fill="#5a0096"/>
<rect x="443.00" y="364.00" width="1.00" height="10.00" fill="#0000ff"/>
<rect x="515.00" y="264.00" width="1.00" height="2.00" fill="#2a0036"/>
<rect x="516.00" y="265.00" width="1.00" height="8.00" fill="#2a0036"/>
<rect x="517.00" y="270.00" width="1.00" height="4.00" fill="#2a0036"/>
<rect x="517.00" y="278.00" width="1.00" height="5.00" fill="#2a0036"/>
<rect x="515.00" y="283.00" width="1.00" height="15.00" fill="#3a0070"/>
<rect x="516.00" y="283.00" width="1.00" height="5.00" fill="#5a0096"/>
<rect x="516.00" y="288.00" width="1.00" height="5.00" fill="#0000ff"/>
<rect x="516.00" y="293.00" width="1.00" height="14.00" fill="#00ffff"/>
<rect x="517.00" y="298.00" width="1.00" height="4.00" fill="#2a0036"/>
<rect x="517.00" y="302.00" width="1.00" height="5.00" fill="#0000ff"/>
<rect x="515.00" y="307.00" width="1.00" height="4.00" fill="#2a0036"/>
<rect x="516.00" y="311.00" width="1.00" height="11.00" fill="#00ff40"/>
<rect x="517.00" y="311.00" width="1.00" height="7.00" fill="#00ffff"/>
<rect x="517.00" y="318.00" width="1.00" height="14.00" fill="#00ff40"/>
<rect x="516.00" y="322.00" width="1.00" height="7.00" fill="#ffff00"/>
<rect x="516.00" y="329.00" width="1.00" height="4.00" fill="#ff9000"/>
<rect x="515.00" y="319.00" width="1.00" height="4.00" fill="#0000ff"/>
<rect x="515.00" y="323.00" width="1.00" height="9.00" fill="#00ffff"/>
<rect x="515.00" y="335.00" width="1.00" height="2.00" fill="#5a0096"/>
<rect x="517.00" y="369.00" width="1.00" height="9.00" fill="#0000ff"/>
<rect x="517.00" y="378.00" width="1.00" height="9.00" fill="#00ffff"/>
<rect x="517.00" y="387.00" width="2.00" height="3.00" fill="#00ff40"/>
<rect x="516.00" y="390.00" width="1.00" height="4.00" fill="#0000ff"/>
<rect x="517.00" y="394.00" width="1.00" height="4.00" fill="#ffff00"/>
<rect x="517.00" y="398.00" width="1.00" height="6.00" fill="#ff9000"/>
<rect x="442.00" y="417.00" width="1.00" height="4.00" fill="#5a0096"/>
<rect x="442.00" y="435.00" width="1.00" height="5.00" fill="#5a0096"/>
<rect x="444.00" y="446.00" width="1.00" height="4.00" fill="#0000ff"/>
<rect x="443.00" y="457.00" width="1.00" height="4.00" fill="#0000ff"/>
<rect x="442.00" y="466.00" width="1.00" height="5.00" fill="#00ffff"/>
<rect x="442.00" y="477.00" width="1.00" height="3.00" fill="#5a0096"/>
<rect x="443.00" y="484.00" width="1.00" height="4.00" fill="#5a0096"/>
<rect x="443.00" y="501.00" width="1.00" height="5.00" fill="#5a0096"/>
<rect x="516.00" y="413.00" width="1.00" height="4.00" fill="#5a0096"/>
<rect x="516.00" y="425.00" width="1.00" height="5.00" fill="#0000ff"/>
<rect x="516.00" y="430.00" width="1.00" height="5.00" fill="#0090ff"/>
<rect x="516.00" y="435.00" width="1.00" height="6.00" fill="#00ffff"/>
<rect x="516.00" y="441.00" width="1.00" height="12.00" fill="#00ff90"/>
<rect x="516.00" y="453.00" width="1.00" height="4.00" fill="#00ff40"/>
<rect x="516.00" y="457.00" width="1.00" height="9.00" fill="#90ff00"/>
<rect x="516.00" y="466.00" width="1.00" height="9.00" fill="#ff9000"/>
<rect x="517.00" y="441.00" width="1.00" height="5.00" fill="#5a0096"/>
<rect x="517.00" y="446.00" width="1.00" height="4.00" fill="#0000ff"/>
<rect x="517.00" y="453.00" width="1.00" height="4.00" fill="#00ffff"/>
<rect x="517.00" y="457.00" width="1.00" height="9.00" fill="#00ff40"/>
<rect x="517.00" y="466.00" width="1.00" height="9.00" fill="#ffff00"/>
<rect x="515.00" y="461.00" width="1.00" height="5.00" fill="#0000ff"/>
<rect x="515.00" y="466.00" width="1.00" height="5.00" fill="#00ffff"/>
<rect x="515.00" y="471.00" width="1.00" height="4.00" fill="#00ff40"/>
<rect x="516.00" y="480.00" width="1.00" height="4.00" fill="#5a0096"/>
<rect x="517.00" y="484.00" width="1.00" height="5.00" fill="#5a0096"/>
<rect x="517.00" y="492.00" width="1.00" height="4.00" fill="#5a0096"/>
<rect x="515.00" y="496.00" width="1.00" height="10.00" fill="#5a0096"/>
<rect x="515.00" y="506.00" width="2.00" height="6.00" fill="#3a0070"/>
<rect x="516.00" y="512.00" width="1.00" height="13.00" fill="#0000ff"/>
<rect x="516.00" y="525.00" width="1.00" height="13.00" fill="#00ffff"/>
<rect x="516.00" y="538.00" width="1.00" height="8.00" fill="#00ff40"/>
<rect x="515.00" y="521.00" width="1.00" height="3.00" fill="#0000ff"/>
<rect x="517.00" y="532.00" width="1.00" height="10.00" fill="#0090ff"/>
<rect x="627.00" y="263.00" width="1.00" height="11.00" fill="#2a0036"/>
<rect x="625.00" y="274.00" width="2.00" height="9.00" fill="#3a0070"/>
<rect x="625.00" y="283.00" width="3.00" height="5.00" fill="#2000b0"/>
<rect x="626.00" y="288.00" width="1.00" height="35.00" fill="#00c8ff"/>
<rect x="625.00" y="293.00" width="1.00" height="5.00" fill="#5a0096"/>
<rect x="627.00" y="303.00" width="1.00" height="4.00" fill="#0000ff"/>
<rect x="626.00" y="311.00" width="2.00" height="8.00" fill="#0000ff"/>
<rect x="625.00" y="315.00" width="3.00" height="8.00" fill="#00ffff"/>
<rect x="625.00" y="323.00" width="3.00" height="10.00" fill="#00ff40"/>
<rect x="625.00" y="345.00" width="1.00" height="4.00" fill="#5a0096"/>
<rect x="626.00" y="378.00" width="1.00" height="4.00" fill="#0090ff"/>
<rect x="626.00" y="394.00" width="1.00" height="6.00" fill="#0090ff"/>
<rect x="627.00" y="413.00" width="1.00" height="4.00" fill="#5a0096"/>
<rect x="625.00" y="417.00" width="2.00" height="8.00" fill="#3a0070"/>
<rect x="625.00" y="425.00" width="3.00" height="5.00" fill="#2000b0"/>
<rect x="626.00" y="430.00" width="1.00" height="35.00" fill="#00c8ff"/>
<rect x="625.00" y="435.00" width="1.00" height="5.00" fill="#5a0096"/>
<rect x="627.00" y="446.00" width="1.00" height="4.00" fill="#0000ff"/>
<rect x="626.00" y="453.00" width="2.00" height="8.00" fill="#0000ff"/>
<rect x="625.00" y="457.00" width="3.00" height="8.00" fill="#00ffff"/>
<rect x="625.00" y="465.00" width="3.00" height="10.00" fill="#00ff40"/>
<rect x="627.00" y="480.00" width="1.00" height="8.00" fill="#5a0096"/>
<rect x="626.00" y="501.00" width="1.00" height="5.00" fill="#3a0070"/>
<rect x="626.00" y="524.00" width="1.00" height="4.00" fill="#0000ff"/>
<rect x="625.00" y="537.00" width="1.00" height="5.00" fill="#00ffff"/>
<rect x="627.00" y="542.00" width="1.00" height="4.00" fill="#00ffff"/>
<rect x="173.00" y="567.00" width="1.00" height="7.00" fill="#2a0036"/>
<rect x="173.00" y="574.00" width="1.00" height="16.00" fill="#0000ff"/>
<rect x="172.00" y="574.00" width="1.00" height="9.00" fill="#2a0036"/>
<rect x="173.00" y="590.00" width="1.00" height="7.00" fill="#2a0036"/>
<rect x="209.00" y="562.00" width="1.00" height="6.00" fill="#2a0036"/>
<rect x="209.00" y="568.00" width="1.00" height="9.00" fill="#0000ff"/>
<rect x="209.00" y="577.00" width="1.00" height="13.00" fill="#00ffff"/>
<rect x="209.00" y="590.00" width="1.00" height="5.00" fill="#0000ff"/>
<rect x="209.00" y="595.00" width="1.00" height="10.00" fill="#2a0036"/>
<rect x="210.00" y="596.00" width="1.00" height="5.00" fill="#2a0036"/>
<rect x="245.00" y="565.00" width="1.00" height="9.00" fill="#2a0036"/>
<rect x="245.00" y="574.00" width="1.00" height="16.00" fill="#00ffff"/>
<rect x="245.00" y="590.00" width="1.00" height="15.00" fill="#5a0096"/>
<rect x="172.00" y="646.00" width="1.00" height="18.00" fill="#2a0036"/>
<rect x="209.00" y="627.00" width="1.00" height="6.00" fill="#2a0036"/>
<rect x="209.00" y="640.00" width="1.00" height="31.00" fill="#3a0070"/>
<rect x="246.00" y="625.00" width="1.00" height="11.00" fill="#2a0036"/>
<rect x="245.00" y="637.00" width="1.00" height="16.00" fill="#3a0070"/>
<rect x="245.00" y="653.00" width="1.00" height="8.00" fill="#0000ff"/>
<rect x="245.00" y="661.00" width="1.00" height="16.00" fill="#3a0070"/>
<rect x="172.00" y="727.00" width="1.00" height="9.00" fill="#5a0096"/>
<rect x="172.00" y="739.00" width="1.00" height="4.00" fill="#5a0096"/>
<rect x="172.00" y="745.00" width="1.00" height="7.00" fill="#5a0096"/>
<rect x="209.00" y="712.00" width="1.00" height="6.00" fill="#2a0036"/>
<rect x="246.00" y="735.00" width="1.00" height="5.00" fill="#2a0036"/>
<rect x="172.00" y="765.00" width="1.00" height="7.00" fill="#5a0096"/>
<rect x="174.00" y="798.00" width="1.00" height="7.00" fill="#0000ff"/>
<rect x="174.00" y="810.00" width="1.00" height="4.00" fill="#5a0096"/>
<rect x="174.00" y="819.00" width="1.00" height="4.00" fill="#5a0096"/>
<rect x="209.00" y="764.00" width="1.00" height="8.00" fill="#5a0096"/>
<rect x="210.00" y="775.00" width="1.00" height="9.00" fill="#3a0070"/>
<rect x="209.00" y="791.00" width="1.00" height="7.00" fill="#0000ff"/>
<rect x="209.00" y="798.00" width="1.00" height="32.00" fill="#5a0096"/>
<rect x="208.00" y="815.00" width="1.00" height="9.00" fill="#0000ff"/>
<rect x="245.00" y="774.00" width="1.00" height="10.00" fill="#2a0036"/>
<rect x="245.00" y="789.00" width="1.00" height="15.00" fill="#3a0070"/>
<rect x="246.00" y="804.00" width="1.00" height="8.00" fill="#0000ff"/>
<rect x="245.00" y="814.00" width="1.00" height="4.00" fill="#5a0096"/>
<rect x="245.00" y="822.00" width="1.00" height="9.00" fill="#5a0096"/>
<rect x="298.00" y="576.00" width="1.00" height="9.00" fill="#3a0070"/>
<rect x="335.00" y="560.00" width="1.00" height="8.00" fill="#2a0036"/>
<rect x="335.00" y="568.00" width="1.00" height="17.00" fill="#0000ff"/>
<rect x="335.00" y="603.00" width="1.00" height="7.00" fill="#2a0036"/>
<rect x="298.00" y="644.00" width="1.00" height="8.00" fill="#2a0036"/>
<rect x="298.00" y="675.00" width="1.00" height="8.00" fill="#2a0036"/>
<rect x="335.00" y="657.00" width="1.00" height="9.00" fill="#2a0036"/>
<rect x="299.00" y="700.00" width="1.00" height="4.00" fill="#5a0096"/>
<rect x="299.00" y="708.00" width="1.00" height="4.00" fill="#5a0096"/>
<rect x="299.00" y="714.00" width="1.00" height="4.00" fill="#5a0096"/>
<rect x="335.00" y="711.00" width="1.00" height="17.00" fill="#3a0070"/>
<rect x="299.00" y="771.00" width="1.00" height="10.00" fill="#5a0096"/>
<rect x="299.00" y="781.00" width="2.00" height="8.00" fill="#2000b0"/>
<rect x="299.00" y="789.00" width="1.00" height="10.00" fill="#5a0096"/>
<rect x="299.00" y="799.00" width="1.00" height="29.00" fill="#2000b0"/>
<rect x="300.00" y="800.00" width="1.00" height="32.00" fill="#3a0070"/>
<rect x="336.00" y="778.00" width="1.00" height="6.00" fill="#5a0096"/>
<rect x="336.00" y="784.00" width="1.00" height="7.00" fill="#0000ff"/>
<rect x="335.00" y="791.00" width="2.00" height="7.00" fill="#2a0036"/>
<rect x="336.00" y="818.00" width="1.00" height="4.00" fill="#5a0096"/>
<rect x="336.00" y="825.00" width="1.00" height="4.00" fill="#5a0096"/>
<rect x="442.00" y="569.00" width="1.00" height="26.00" fill="#2a0036"/>
<rect x="515.00" y="551.00" width="1.00" height="9.00" fill="#2a0036"/>
<rect x="515.00" y="570.00" width="1.00" height="26.00" fill="#2a0036"/>
<rect x="515.00" y="578.00" width="1.00" height="13.00" fill="#0000ff"/>
<rect x="516.00" y="553.00" width="1.00" height="8.00" fill="#00ffff"/>
<rect x="516.00" y="561.00" width="1.00" height="5.00" fill="#00ff40"/>
<rect x="516.00" y="566.00" width="1.00" height="27.00" fill="#90ff00"/>
<rect x="516.00" y="593.00" width="1.00" height="12.00" fill="#00ffff"/>
<rect x="516.00" y="605.00" width="1.00" height="6.00" fill="#0000ff"/>
<rect x="516.00" y="611.00" width="1.00" height="6.00" fill="#3a0070"/>
<rect x="517.00" y="563.00" width="1.00" height="5.00" fill="#2a0036"/>
<rect x="517.00" y="572.00" width="1.00" height="8.00" fill="#2a0036"/>
<rect x="517.00" y="594.00" width="1.00" height="13.00" fill="#0000ff"/>
<rect x="517.00" y="600.00" width="1.00" height="7.00" fill="#2a0036"/>
<rect x="443.00" y="651.00" width="1.00" height="9.00" fill="#2a0036"/>
<rect x="516.00" y="624.00" width="1.00" height="26.00" fill="#2a0036"/>
<rect x="516.00" y="628.00" width="1.00" height="19.00" fill="#0000ff"/>
<rect x="517.00" y="628.00" width="1.00" height="37.00" fill="#00ffff"/>
<rect x="516.00" y="665.00" width="1.00" height="25.00" fill="#3a0070"/>
<rect x="443.00" y="698.00" width="1.00" height="3.00" fill="#5a0096"/>
<rect x="443.00" y="703.00" width="1.00" height="3.00" fill="#5a0096"/>
<rect x="442.00" y="707.00" width="2.00" height="13.00" fill="#2a0036"/>
<rect x="516.00" y="696.00" width="1.00" height="8.00" fill="#2a0036"/>
<rect x="516.00" y="704.00" width="1.00" height="8.00" fill="#0000ff"/>
<rect x="516.00" y="712.00" width="1.00" height="23.00" fill="#00ffff"/>
<rect x="517.00" y="725.00" width="1.00" height="15.00" fill="#00ff40"/>
<rect x="517.00" y="713.00" width="1.00" height="15.00" fill="#2a0036"/>
<rect x="516.00" y="735.00" width="1.00" height="3.00" fill="#00ffff"/>
<rect x="516.00" y="738.00" width="1.00" height="22.00" fill="#3a0070"/>
<rect x="443.00" y="762.00" width="1.00" height="3.00" fill="#5a0096"/>
<rect x="443.00" y="767.00" width="1.00" height="3.00" fill="#5a0096"/>
<rect x="443.00" y="774.00" width="1.00" height="10.00" fill="#5a0096"/>
<rect x="443.00" y="789.00" width="1.00" height="10.00" fill="#2a0036"/>
<rect x="443.00" y="811.00" width="1.00" height="21.00" fill="#3a0070"/>
<rect x="516.00" y="765.00" width="1.00" height="3.00" fill="#5a0096"/>
<rect x="516.00" y="770.00" width="1.00" height="4.00" fill="#0000ff"/>
<rect x="516.00" y="775.00" width="1.00" height="15.00" fill="#0000ff"/>
<rect x="516.00" y="790.00" width="1.00" height="18.00" fill="#00ffff"/>
<rect x="515.00" y="816.00" width="2.00" height="15.00" fill="#5a0096"/>
<rect x="626.00" y="559.00" width="1.00" height="9.00" fill="#2a0036"/>
<rect x="625.00" y="568.00" width="2.00" height="8.00" fill="#3a0070"/>
<rect x="625.00" y="576.00" width="2.00" height="17.00" fill="#00ffff"/>
<rect x="626.00" y="593.00" width="1.00" height="14.00" fill="#2a0036"/>
<rect x="625.00" y="603.00" width="1.00" height="8.00" fill="#2a0036"/>
<rect x="626.00" y="630.00" width="1.00" height="10.00" fill="#2a0036"/>
<rect x="625.00" y="640.00" width="3.00" height="25.00" fill="#3a0070"/>
<rect x="626.00" y="665.00" width="1.00" height="9.00" fill="#2a0036"/>
<rect x="626.00" y="683.00" width="1.00" height="7.00" fill="#2a0036"/>
<rect x="626.00" y="711.00" width="1.00" height="6.00" fill="#0000ff"/>
<rect x="626.00" y="720.00" width="1.00" height="17.00" fill="#00ffff"/>
<rect x="627.00" y="719.00" width="1.00" height="9.00" fill="#2a0036"/>
<rect x="626.00" y="737.00" width="1.00" height="8.00" fill="#2a0036"/>
<rect x="625.00" y="765.00" width="1.00" height="7.00" fill="#2a0036"/>
<rect x="626.00" y="782.00" width="1.00" height="6.00" fill="#0000ff"/>
<rect x="625.00" y="789.00" width="1.00" height="8.00" fill="#3a0070"/>
<rect x="626.00" y="789.00" width="1.00" height="19.00" fill="#00ffff"/>
<rect x="627.00" y="790.00" width="1.00" height="18.00" fill="#3a0070"/>
<rect x="626.00" y="808.00" width="1.00" height="24.00" fill="#2a0036"/>
<rect x="173.00" y="718.00" width="1.00" height="7.00" fill="#2a0036"/>
</g>
<rect x="128.00" y="258.00" width="559.00" height="5.00" fill="#ffe400"/>
<rect x="138.00" y="258.00" width="12.00" height="5.00" fill="#000"/>
<rect x="174.00" y="258.00" width="12.00" height="5.00" fill="#000"/>
<rect x="211.00" y="258.00" width="12.00" height="5.00" fill="#000"/>
<rect x="247.00" y="258.00" width="12.00" height="5.00" fill="#000"/>
<rect x="283.00" y="258.00" width="12.00" height="5.00" fill="#000"/>
<rect x="319.00" y="258.00" width="12.00" height="5.00" fill="#000"/>
<rect x="356.00" y="258.00" width="12.00" height="5.00" fill="#000"/>
<rect x="392.00" y="258.00" width="12.00" height="5.00" fill="#000"/>
<rect x="428.00" y="258.00" width="12.00" height="5.00" fill="#000"/>
<rect x="464.00" y="258.00" width="12.00" height="5.00" fill="#000"/>
<rect x="501.00" y="258.00" width="12.00" height="5.00" fill="#000"/>
<rect x="537.00" y="258.00" width="12.00" height="5.00" fill="#000"/>
<rect x="573.00" y="258.00" width="12.00" height="5.00" fill="#000"/>
<rect x="610.00" y="258.00" width="12.00" height="5.00" fill="#000"/>
<rect x="646.00" y="258.00" width="12.00" height="5.00" fill="#000"/>
<rect x="682.00" y="258.00" width="5.00" height="5.00" fill="#000"/>
<rect x="172.00" y="251.00" width="3.00" height="5.00" fill="#ff0000"/>
<rect x="208.00" y="251.00" width="3.00" height="5.00" fill="#ff0000"/>
<rect x="244.00" y="251.00" width="3.00" height="5.00" fill="#ff0000"/>
<rect x="298.00" y="251.00" width="3.00" height="5.00" fill="#ff0000"/>
<rect x="334.00" y="251.00" width="3.00" height="5.00" fill="#ff0000"/>
<rect x="442.00" y="251.00" width="3.00" height="5.00" fill="#ff0000"/>
<rect x="515.00" y="251.00" width="3.00" height="5.00" fill="#ff0000"/>
<rect x="625.00" y="251.00" width="3.00" height="5.00" fill="#ff0000"/>
<rect x="694.00" y="263.00" width="8.00" height="72.00" fill="#000"/>
<rect x="695.00" y="264.00" width="6.00" height="70.00" fill="url(#cb)"/>
<rect x="694.00" y="334.00" width="8.00" height="72.00" fill="#000"/>
<rect x="695.00" y="335.00" width="6.00" height="70.00" fill="url(#cb)"/>
<rect x="694.00" y="405.00" width="8.00" height="72.00" fill="#000"/>
<rect x="695.00" y="406.00" width="6.00" height="70.00" fill="url(#cb)"/>
<rect x="694.00" y="476.00" width="8.00" height="72.00" fill="#000"/>
<rect x="695.00" y="477.00" width="6.00" height="70.00" fill="url(#cb)"/>
<rect x="694.00" y="547.00" width="8.00" height="72.00" fill="#000"/>
<rect x="695.00" y="548.00" width="6.00" height="70.00" fill="url(#cb)"/>
<rect x="694.00" y="618.00" width="8.00" height="73.00" fill="#000"/>
<rect x="695.00" y="619.00" width="6.00" height="71.00" fill="url(#cb)"/>
<rect x="694.00" y="690.00" width="8.00" height="72.00" fill="#000"/>
<rect x="695.00" y="691.00" width="6.00" height="70.00" fill="url(#cb)"/>
<rect x="694.00" y="761.00" width="8.00" height="72.00" fill="#000"/>
<rect x="695.00" y="762.00" width="6.00" height="70.00" fill="url(#cb)"/>
<text x="705.81" y="270.95" font-size="13" fill="#000" textLength="14.50" lengthAdjust="spacingAndGlyphs">10</text>
<text x="720.50" y="265.55" font-size="8.5" fill="#000" textLength="5.38" lengthAdjust="spacingAndGlyphs">7</text>
<text x="705.81" y="282.85" font-size="13" fill="#000" textLength="14.50" lengthAdjust="spacingAndGlyphs">10</text>
<text x="720.52" y="277.45" font-size="8.5" fill="#000" textLength="5.30" lengthAdjust="spacingAndGlyphs">6</text>
<text x="705.81" y="294.35" font-size="13" fill="#000" textLength="14.50" lengthAdjust="spacingAndGlyphs">10</text>
<text x="720.63" y="288.95" font-size="8.5" fill="#000" textLength="5.16" lengthAdjust="spacingAndGlyphs">5</text>
<text x="705.81" y="305.15" font-size="13" fill="#000" textLength="14.50" lengthAdjust="spacingAndGlyphs">10</text>
<text x="720.80" y="299.75" font-size="8.5" fill="#000" textLength="4.86" lengthAdjust="spacingAndGlyphs">4</text>
<text x="705.81" y="316.65" font-size="13" fill="#000" textLength="14.50" lengthAdjust="spacingAndGlyphs">10</text>
<text x="720.65" y="311.25" font-size="8.5" fill="#000" textLength="5.16" lengthAdjust="spacingAndGlyphs">3</text>
<text x="705.81" y="327.95" font-size="13" fill="#000" textLength="14.50" lengthAdjust="spacingAndGlyphs">10</text>
<text x="720.51" y="322.55" font-size="8.5" fill="#000" textLength="5.37" lengthAdjust="spacingAndGlyphs">2</text>
<text x="705.81" y="334.75" font-size="13" fill="#000" textLength="14.50" lengthAdjust="spacingAndGlyphs">10</text>
<text x="720.22" y="329.35" font-size="8.5" fill="#000" textLength="5.68" lengthAdjust="spacingAndGlyphs">1</text>
<text transform="translate(738.30,313.05) rotate(-90)" x="0" y="0" font-size="13" fill="#000" textLength="27.19" lengthAdjust="spacingAndGlyphs">nflux</text>
<text x="705.81" y="342.75" font-size="13" fill="#000" textLength="14.50" lengthAdjust="spacingAndGlyphs">10</text>
<text x="720.50" y="337.35" font-size="8.5" fill="#000" textLength="5.38" lengthAdjust="spacingAndGlyphs">7</text>
<text x="705.81" y="353.85" font-size="13" fill="#000" textLength="14.50" lengthAdjust="spacingAndGlyphs">10</text>
<text x="720.52" y="348.45" font-size="8.5" fill="#000" textLength="5.30" lengthAdjust="spacingAndGlyphs">6</text>
<text x="705.81" y="365.35" font-size="13" fill="#000" textLength="14.50" lengthAdjust="spacingAndGlyphs">10</text>
<text x="720.63" y="359.95" font-size="8.5" fill="#000" textLength="5.16" lengthAdjust="spacingAndGlyphs">5</text>
<text x="705.81" y="376.15" font-size="13" fill="#000" textLength="14.50" lengthAdjust="spacingAndGlyphs">10</text>
<text x="720.80" y="370.75" font-size="8.5" fill="#000" textLength="4.86" lengthAdjust="spacingAndGlyphs">4</text>
<text x="705.81" y="387.65" font-size="13" fill="#000" textLength="14.50" lengthAdjust="spacingAndGlyphs">10</text>
<text x="720.65" y="382.25" font-size="8.5" fill="#000" textLength="5.16" lengthAdjust="spacingAndGlyphs">3</text>
<text x="705.81" y="398.95" font-size="13" fill="#000" textLength="14.50" lengthAdjust="spacingAndGlyphs">10</text>
<text x="720.51" y="393.55" font-size="8.5" fill="#000" textLength="5.37" lengthAdjust="spacingAndGlyphs">2</text>
<text x="705.81" y="405.75" font-size="13" fill="#000" textLength="14.50" lengthAdjust="spacingAndGlyphs">10</text>
<text x="720.22" y="400.35" font-size="8.5" fill="#000" textLength="5.68" lengthAdjust="spacingAndGlyphs">1</text>
<text transform="translate(738.30,384.05) rotate(-90)" x="0" y="0" font-size="13" fill="#000" textLength="27.19" lengthAdjust="spacingAndGlyphs">nflux</text>
<text x="705.81" y="413.75" font-size="13" fill="#000" textLength="14.50" lengthAdjust="spacingAndGlyphs">10</text>
<text x="720.50" y="408.35" font-size="8.5" fill="#000" textLength="5.38" lengthAdjust="spacingAndGlyphs">7</text>
<text x="705.81" y="424.85" font-size="13" fill="#000" textLength="14.50" lengthAdjust="spacingAndGlyphs">10</text>
<text x="720.52" y="419.45" font-size="8.5" fill="#000" textLength="5.30" lengthAdjust="spacingAndGlyphs">6</text>
<text x="705.81" y="436.35" font-size="13" fill="#000" textLength="14.50" lengthAdjust="spacingAndGlyphs">10</text>
<text x="720.63" y="430.95" font-size="8.5" fill="#000" textLength="5.16" lengthAdjust="spacingAndGlyphs">5</text>
<text x="705.81" y="447.15" font-size="13" fill="#000" textLength="14.50" lengthAdjust="spacingAndGlyphs">10</text>
<text x="720.80" y="441.75" font-size="8.5" fill="#000" textLength="4.86" lengthAdjust="spacingAndGlyphs">4</text>
<text x="705.81" y="458.65" font-size="13" fill="#000" textLength="14.50" lengthAdjust="spacingAndGlyphs">10</text>
<text x="720.65" y="453.25" font-size="8.5" fill="#000" textLength="5.16" lengthAdjust="spacingAndGlyphs">3</text>
<text x="705.81" y="469.95" font-size="13" fill="#000" textLength="14.50" lengthAdjust="spacingAndGlyphs">10</text>
<text x="720.51" y="464.55" font-size="8.5" fill="#000" textLength="5.37" lengthAdjust="spacingAndGlyphs">2</text>
<text x="705.81" y="476.75" font-size="13" fill="#000" textLength="14.50" lengthAdjust="spacingAndGlyphs">10</text>
<text x="720.22" y="471.35" font-size="8.5" fill="#000" textLength="5.68" lengthAdjust="spacingAndGlyphs">1</text>
<text transform="translate(738.30,455.05) rotate(-90)" x="0" y="0" font-size="13" fill="#000" textLength="27.19" lengthAdjust="spacingAndGlyphs">nflux</text>
<text x="705.81" y="484.75" font-size="13" fill="#000" textLength="14.50" lengthAdjust="spacingAndGlyphs">10</text>
<text x="720.50" y="479.35" font-size="8.5" fill="#000" textLength="5.38" lengthAdjust="spacingAndGlyphs">7</text>
<text x="705.81" y="495.85" font-size="13" fill="#000" textLength="14.50" lengthAdjust="spacingAndGlyphs">10</text>
<text x="720.52" y="490.45" font-size="8.5" fill="#000" textLength="5.30" lengthAdjust="spacingAndGlyphs">6</text>
<text x="705.81" y="507.35" font-size="13" fill="#000" textLength="14.50" lengthAdjust="spacingAndGlyphs">10</text>
<text x="720.63" y="501.95" font-size="8.5" fill="#000" textLength="5.16" lengthAdjust="spacingAndGlyphs">5</text>
<text x="705.81" y="518.15" font-size="13" fill="#000" textLength="14.50" lengthAdjust="spacingAndGlyphs">10</text>
<text x="720.80" y="512.75" font-size="8.5" fill="#000" textLength="4.86" lengthAdjust="spacingAndGlyphs">4</text>
<text x="705.81" y="529.65" font-size="13" fill="#000" textLength="14.50" lengthAdjust="spacingAndGlyphs">10</text>
<text x="720.65" y="524.25" font-size="8.5" fill="#000" textLength="5.16" lengthAdjust="spacingAndGlyphs">3</text>
<text x="705.81" y="540.95" font-size="13" fill="#000" textLength="14.50" lengthAdjust="spacingAndGlyphs">10</text>
<text x="720.51" y="535.55" font-size="8.5" fill="#000" textLength="5.37" lengthAdjust="spacingAndGlyphs">2</text>
<text x="705.81" y="547.75" font-size="13" fill="#000" textLength="14.50" lengthAdjust="spacingAndGlyphs">10</text>
<text x="720.22" y="542.35" font-size="8.5" fill="#000" textLength="5.68" lengthAdjust="spacingAndGlyphs">1</text>
<text transform="translate(738.30,526.05) rotate(-90)" x="0" y="0" font-size="13" fill="#000" textLength="27.19" lengthAdjust="spacingAndGlyphs">nflux</text>
<text x="705.81" y="557.65" font-size="13" fill="#000" textLength="14.50" lengthAdjust="spacingAndGlyphs">10</text>
<text x="720.50" y="552.25" font-size="8.5" fill="#000" textLength="5.38" lengthAdjust="spacingAndGlyphs">7</text>
<text x="705.81" y="575.65" font-size="13" fill="#000" textLength="14.50" lengthAdjust="spacingAndGlyphs">10</text>
<text x="720.52" y="570.25" font-size="8.5" fill="#000" textLength="5.30" lengthAdjust="spacingAndGlyphs">6</text>
<text x="705.81" y="593.65" font-size="13" fill="#000" textLength="14.50" lengthAdjust="spacingAndGlyphs">10</text>
<text x="720.63" y="588.25" font-size="8.5" fill="#000" textLength="5.16" lengthAdjust="spacingAndGlyphs">5</text>
<text x="705.81" y="610.95" font-size="13" fill="#000" textLength="14.50" lengthAdjust="spacingAndGlyphs">10</text>
<text x="720.80" y="605.55" font-size="8.5" fill="#000" textLength="4.86" lengthAdjust="spacingAndGlyphs">4</text>
<text transform="translate(738.30,597.05) rotate(-90)" x="0" y="0" font-size="13" fill="#000" textLength="27.19" lengthAdjust="spacingAndGlyphs">nflux</text>
<text x="705.81" y="635.45" font-size="13" fill="#000" textLength="14.50" lengthAdjust="spacingAndGlyphs">10</text>
<text x="720.52" y="630.05" font-size="8.5" fill="#000" textLength="5.30" lengthAdjust="spacingAndGlyphs">6</text>
<text x="705.81" y="654.15" font-size="13" fill="#000" textLength="14.50" lengthAdjust="spacingAndGlyphs">10</text>
<text x="720.63" y="648.75" font-size="8.5" fill="#000" textLength="5.16" lengthAdjust="spacingAndGlyphs">5</text>
<text x="705.81" y="674.45" font-size="13" fill="#000" textLength="14.50" lengthAdjust="spacingAndGlyphs">10</text>
<text x="720.80" y="669.05" font-size="8.5" fill="#000" textLength="4.86" lengthAdjust="spacingAndGlyphs">4</text>
<text x="705.81" y="690.15" font-size="13" fill="#000" textLength="14.50" lengthAdjust="spacingAndGlyphs">10</text>
<text x="720.65" y="684.75" font-size="8.5" fill="#000" textLength="5.16" lengthAdjust="spacingAndGlyphs">3</text>
<text transform="translate(738.30,668.05) rotate(-90)" x="0" y="0" font-size="13" fill="#000" textLength="27.19" lengthAdjust="spacingAndGlyphs">nflux</text>
<text x="705.81" y="696.95" font-size="13" fill="#000" textLength="14.50" lengthAdjust="spacingAndGlyphs">10</text>
<text x="720.52" y="691.55" font-size="8.5" fill="#000" textLength="5.30" lengthAdjust="spacingAndGlyphs">6</text>
<text x="705.81" y="712.65" font-size="13" fill="#000" textLength="14.50" lengthAdjust="spacingAndGlyphs">10</text>
<text x="720.63" y="707.25" font-size="8.5" fill="#000" textLength="5.16" lengthAdjust="spacingAndGlyphs">5</text>
<text x="705.81" y="729.15" font-size="13" fill="#000" textLength="14.50" lengthAdjust="spacingAndGlyphs">10</text>
<text x="720.80" y="723.75" font-size="8.5" fill="#000" textLength="4.86" lengthAdjust="spacingAndGlyphs">4</text>
<text x="705.81" y="746.45" font-size="13" fill="#000" textLength="14.50" lengthAdjust="spacingAndGlyphs">10</text>
<text x="720.65" y="741.05" font-size="8.5" fill="#000" textLength="5.16" lengthAdjust="spacingAndGlyphs">3</text>
<text x="705.81" y="761.25" font-size="13" fill="#000" textLength="14.50" lengthAdjust="spacingAndGlyphs">10</text>
<text x="720.51" y="755.85" font-size="8.5" fill="#000" textLength="5.37" lengthAdjust="spacingAndGlyphs">2</text>
<text transform="translate(738.30,740.05) rotate(-90)" x="0" y="0" font-size="13" fill="#000" textLength="27.19" lengthAdjust="spacingAndGlyphs">nflux</text>
<text x="705.80" y="772.80" font-size="12.5" fill="#000" textLength="36.62" lengthAdjust="spacingAndGlyphs">10000</text>
<text x="705.80" y="793.70" font-size="12.5" fill="#000" textLength="29.21" lengthAdjust="spacingAndGlyphs">1000</text>
<text x="705.81" y="815.70" font-size="12.5" fill="#000" textLength="21.70" lengthAdjust="spacingAndGlyphs">100</text>
<text x="705.81" y="832.60" font-size="12.5" fill="#000" textLength="14.50" lengthAdjust="spacingAndGlyphs">10</text>
<text transform="translate(755.80,810.85) rotate(-90)" x="0" y="0" font-size="13" fill="#000" textLength="26.99" lengthAdjust="spacingAndGlyphs">nflux</text>
<text x="8.11" y="921.70" font-size="13" fill="#000" textLength="86.50" lengthAdjust="spacingAndGlyphs">2021 Jan 20</text>
<text x="8.19" y="933.40" font-size="13" fill="#000" textLength="80.49" lengthAdjust="spacingAndGlyphs">GLON (east)</text>
<text x="7.73" y="945.60" font-size="13" fill="#000" textLength="93.95" lengthAdjust="spacingAndGlyphs">MLAT–igrf(dip)</text>
<text x="7.69" y="957.50" font-size="13" fill="#000" textLength="87.52" lengthAdjust="spacingAndGlyphs">MLT–igrf(dip)</text>
<text x="7.60" y="969.50" font-size="13" fill="#000" textLength="71.38" lengthAdjust="spacingAndGlyphs">L–igrf(dip)</text>
<text x="111.20" y="921.70" font-size="13" fill="#000" textLength="34.10" lengthAdjust="spacingAndGlyphs">0000</text>
<text x="108.44" y="933.40" font-size="13" fill="#000" textLength="38.02" lengthAdjust="spacingAndGlyphs">125.8</text>
<text x="82.80" y="945.60" font-size="13" fill="#000" textLength="91.40" lengthAdjust="spacingAndGlyphs">–23.5(–19.8)</text>
<text x="101.23" y="957.50" font-size="13" fill="#000" textLength="53.23" lengthAdjust="spacingAndGlyphs">8.0(8.0)</text>
<text x="100.81" y="969.50" font-size="13" fill="#000" textLength="53.65" lengthAdjust="spacingAndGlyphs">1.2(1.2)</text>
<text x="297.31" y="921.70" font-size="13" fill="#000" textLength="33.68" lengthAdjust="spacingAndGlyphs">0800</text>
<text x="304.05" y="933.40" font-size="13" fill="#000" textLength="20.60" lengthAdjust="spacingAndGlyphs">2.6</text>
<text x="279.31" y="945.60" font-size="13" fill="#000" textLength="71.16" lengthAdjust="spacingAndGlyphs">36.2(41.0)</text>
<text x="287.32" y="957.50" font-size="13" fill="#000" textLength="53.95" lengthAdjust="spacingAndGlyphs">8.4(8.7)</text>
<text x="287.41" y="969.50" font-size="13" fill="#000" textLength="53.86" lengthAdjust="spacingAndGlyphs">1.5(1.9)</text>
<text x="484.05" y="921.70" font-size="13" fill="#000" textLength="33.64" lengthAdjust="spacingAndGlyphs">1600</text>
<text x="482.38" y="933.40" font-size="13" fill="#000" textLength="36.96" lengthAdjust="spacingAndGlyphs">164.4</text>
<text x="465.33" y="945.60" font-size="13" fill="#000" textLength="70.74" lengthAdjust="spacingAndGlyphs">82.6(78.8)</text>
<text x="465.22" y="957.50" font-size="13" fill="#000" textLength="70.85" lengthAdjust="spacingAndGlyphs">23.9(23.9)</text>
<text x="465.82" y="969.50" font-size="13" fill="#000" textLength="70.24" lengthAdjust="spacingAndGlyphs">61.1(28.1)</text>
<text x="588.91" y="987.90" font-size="11.3" fill="#000" textLength="127.42" lengthAdjust="spacingAndGlyphs">nflux: #/(cm^2 s sr MeV)</text>
<text x="589.12" y="998.90" font-size="11.3" fill="#000" textLength="183.79" lengthAdjust="spacingAndGlyphs">Created: Sun Aug 27 20:26:18 2023</text>
</svg>
</body></html>
